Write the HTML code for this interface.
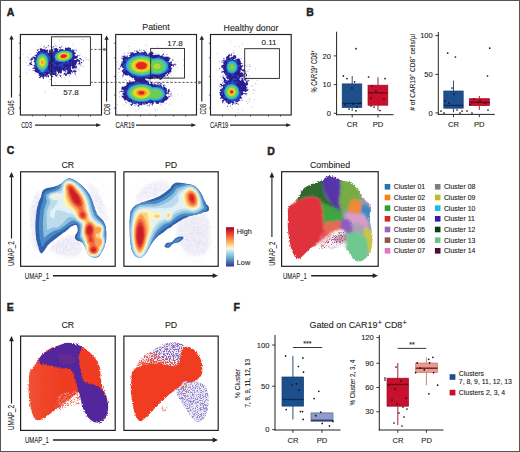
<!DOCTYPE html><html><head><meta charset="utf-8"><style>html,body{margin:0;padding:0;background:#fff;width:520px;height:452px;overflow:hidden}text{stroke:#222;stroke-width:0.1px}</style></head><body><svg width="520" height="452" viewBox="0 0 520 452" style="display:block"><defs><filter id="b06" x="-20%" y="-20%" width="140%" height="140%"><feGaussianBlur stdDeviation="0.6"/></filter><filter id="b04" x="-20%" y="-20%" width="140%" height="140%"><feGaussianBlur stdDeviation="0.4"/></filter><filter id="b10" x="-20%" y="-20%" width="140%" height="140%"><feGaussianBlur stdDeviation="1.0"/></filter><linearGradient id="rdylbu" x1="0" y1="0" x2="0" y2="1"><stop offset="0" stop-color="#a50026"/><stop offset="0.12" stop-color="#d73027"/><stop offset="0.25" stop-color="#f46d43"/><stop offset="0.37" stop-color="#fdae61"/><stop offset="0.47" stop-color="#fee090"/><stop offset="0.55" stop-color="#f4f7f0"/><stop offset="0.65" stop-color="#abd9e9"/><stop offset="0.77" stop-color="#74add1"/><stop offset="0.88" stop-color="#4575b4"/><stop offset="1" stop-color="#313695"/></linearGradient><filter id="spkb" x="-5%" y="-5%" width="110%" height="110%"><feGaussianBlur stdDeviation="1.1" result="bl"/><feTurbulence type="fractalNoise" baseFrequency="0.85" numOctaves="2" seed="4" result="n"/><feDisplacementMap in="bl" in2="n" scale="3.4" xChannelSelector="R" yChannelSelector="G"/></filter><filter id="spk" x="-5%" y="-5%" width="110%" height="110%"><feTurbulence type="fractalNoise" baseFrequency="0.85" numOctaves="2" seed="4" result="n"/><feDisplacementMap in="SourceGraphic" in2="n" scale="3.2" xChannelSelector="R" yChannelSelector="G"/></filter><filter id="spk2" x="-5%" y="-5%" width="110%" height="110%"><feTurbulence type="fractalNoise" baseFrequency="0.7" numOctaves="2" seed="9" result="n"/><feDisplacementMap in="SourceGraphic" in2="n" scale="2.6" xChannelSelector="R" yChannelSelector="G"/></filter><filter id="sp1" x="0" y="0" width="100%" height="100%" color-interpolation-filters="sRGB"><feTurbulence type="fractalNoise" baseFrequency="1.37" numOctaves="1" seed="7" result="n"/><feColorMatrix in="n" type="matrix" values="0 0 0 0 0 0 0 0 0 0 0 0 0 0 0 9 0 0 0 -4.3" result="m"/><feComposite in="SourceGraphic" in2="m" operator="in"/><feGaussianBlur stdDeviation="0.35"/></filter><filter id="sp2" x="0" y="0" width="100%" height="100%" color-interpolation-filters="sRGB"><feTurbulence type="fractalNoise" baseFrequency="1.29" numOctaves="1" seed="21" result="n"/><feColorMatrix in="n" type="matrix" values="0 0 0 0 0 0 0 0 0 0 0 0 0 0 0 10 0 0 0 -5.4" result="m"/><feComposite in="SourceGraphic" in2="m" operator="in"/><feGaussianBlur stdDeviation="0.35"/></filter><filter id="sp3" x="0" y="0" width="100%" height="100%" color-interpolation-filters="sRGB"><feTurbulence type="fractalNoise" baseFrequency="1.41" numOctaves="1" seed="33" result="n"/><feColorMatrix in="n" type="matrix" values="0 0 0 0 0 0 0 0 0 0 0 0 0 0 0 10 0 0 0 -5.9" result="m"/><feComposite in="SourceGraphic" in2="m" operator="in"/><feGaussianBlur stdDeviation="0.35"/></filter><linearGradient id="eRed" x1="0" y1="0" x2="1" y2="0"><stop offset="0" stop-color="#f05a40"/><stop offset="0.25" stop-color="#ef4528"/><stop offset="0.5" stop-color="#ee3b20"/></linearGradient></defs><rect x="0" y="0" width="520" height="452" fill="#fff"/><g style='font-family:"Liberation Sans", sans-serif'><text x="6.8" y="16" font-size="10.5" text-anchor="start" font-weight="bold" fill="#231f20" style="stroke-width:0.45px">A</text><text x="156" y="30" font-size="8.8" text-anchor="middle" font-weight="normal" fill="#231f20" >Patient</text><text x="251" y="30.5" font-size="8.8" text-anchor="middle" font-weight="normal" fill="#231f20" >Healthy donor</text><g fill="#3a2f9a" opacity="0.55"><rect x="82.5" y="39.0" width="0.7" height="0.7"/><rect x="61.4" y="56.9" width="0.7" height="0.7"/><rect x="50.1" y="60.1" width="0.7" height="0.7"/><rect x="29.7" y="59.9" width="0.7" height="0.7"/><rect x="44.8" y="91.9" width="0.7" height="0.7"/><rect x="58.9" y="58.8" width="0.7" height="0.7"/><rect x="52.3" y="56.0" width="0.7" height="0.7"/><rect x="42.3" y="58.5" width="0.7" height="0.7"/><rect x="62.3" y="59.9" width="0.7" height="0.7"/><rect x="68.5" y="60.2" width="0.7" height="0.7"/><rect x="56.3" y="75.9" width="0.7" height="0.7"/><rect x="63.1" y="57.5" width="0.7" height="0.7"/><rect x="53.6" y="66.9" width="0.7" height="0.7"/><rect x="81.2" y="59.6" width="0.7" height="0.7"/><rect x="52.8" y="71.0" width="0.7" height="0.7"/><rect x="44.5" y="59.4" width="0.7" height="0.7"/><rect x="67.5" y="67.2" width="0.7" height="0.7"/><rect x="57.2" y="68.0" width="0.7" height="0.7"/><rect x="43.5" y="47.0" width="0.7" height="0.7"/><rect x="59.6" y="68.3" width="0.7" height="0.7"/><rect x="50.2" y="52.3" width="0.7" height="0.7"/><rect x="56.3" y="61.5" width="0.7" height="0.7"/><rect x="74.3" y="68.7" width="0.7" height="0.7"/><rect x="58.5" y="72.0" width="0.7" height="0.7"/><rect x="53.3" y="53.7" width="0.7" height="0.7"/><rect x="63.6" y="67.2" width="0.7" height="0.7"/><rect x="53.2" y="55.0" width="0.7" height="0.7"/><rect x="59.0" y="39.6" width="0.7" height="0.7"/><rect x="65.0" y="66.4" width="0.7" height="0.7"/><rect x="34.7" y="62.6" width="0.7" height="0.7"/><rect x="43.5" y="68.8" width="0.7" height="0.7"/><rect x="29.6" y="53.8" width="0.7" height="0.7"/><rect x="65.2" y="72.4" width="0.7" height="0.7"/><rect x="27.9" y="57.5" width="0.7" height="0.7"/><rect x="60.3" y="56.5" width="0.7" height="0.7"/><rect x="76.7" y="51.3" width="0.7" height="0.7"/><rect x="60.6" y="52.6" width="0.7" height="0.7"/><rect x="74.3" y="61.8" width="0.7" height="0.7"/><rect x="51.2" y="46.5" width="0.7" height="0.7"/><rect x="77.9" y="68.8" width="0.7" height="0.7"/><rect x="65.8" y="72.2" width="0.7" height="0.7"/><rect x="60.5" y="56.2" width="0.7" height="0.7"/><rect x="45.6" y="54.8" width="0.7" height="0.7"/><rect x="73.8" y="48.9" width="0.7" height="0.7"/><rect x="48.2" y="59.1" width="0.7" height="0.7"/><rect x="58.9" y="67.2" width="0.7" height="0.7"/><rect x="39.8" y="46.4" width="0.7" height="0.7"/><rect x="55.9" y="72.9" width="0.7" height="0.7"/><rect x="65.8" y="63.9" width="0.7" height="0.7"/><rect x="51.9" y="64.6" width="0.7" height="0.7"/><rect x="52.8" y="69.4" width="0.7" height="0.7"/><rect x="45.7" y="63.2" width="0.7" height="0.7"/><rect x="54.6" y="66.9" width="0.7" height="0.7"/><rect x="58.9" y="85.0" width="0.7" height="0.7"/><rect x="75.5" y="75.5" width="0.7" height="0.7"/><rect x="29.5" y="58.9" width="0.7" height="0.7"/><rect x="48.1" y="66.8" width="0.7" height="0.7"/><rect x="26.4" y="72.6" width="0.7" height="0.7"/><rect x="69.9" y="50.3" width="0.7" height="0.7"/><rect x="43.3" y="54.8" width="0.7" height="0.7"/><rect x="56.6" y="67.8" width="0.7" height="0.7"/><rect x="82.6" y="60.2" width="0.7" height="0.7"/><rect x="66.0" y="63.4" width="0.7" height="0.7"/><rect x="78.9" y="68.7" width="0.7" height="0.7"/><rect x="73.8" y="52.3" width="0.7" height="0.7"/><rect x="53.5" y="54.7" width="0.7" height="0.7"/><rect x="75.6" y="67.9" width="0.7" height="0.7"/><rect x="52.0" y="57.9" width="0.7" height="0.7"/><rect x="62.3" y="55.7" width="0.7" height="0.7"/><rect x="43.9" y="66.3" width="0.7" height="0.7"/><rect x="88.0" y="59.8" width="0.7" height="0.7"/><rect x="48.8" y="51.5" width="0.7" height="0.7"/><rect x="38.6" y="66.7" width="0.7" height="0.7"/><rect x="67.1" y="62.1" width="0.7" height="0.7"/><rect x="60.3" y="63.0" width="0.7" height="0.7"/><rect x="57.8" y="48.3" width="0.7" height="0.7"/><rect x="50.0" y="63.0" width="0.7" height="0.7"/><rect x="45.8" y="57.7" width="0.7" height="0.7"/><rect x="45.4" y="59.0" width="0.7" height="0.7"/><rect x="67.1" y="58.3" width="0.7" height="0.7"/><rect x="54.0" y="69.3" width="0.7" height="0.7"/><rect x="64.4" y="77.3" width="0.7" height="0.7"/><rect x="28.8" y="69.7" width="0.7" height="0.7"/><rect x="49.7" y="63.2" width="0.7" height="0.7"/><rect x="66.9" y="71.7" width="0.7" height="0.7"/><rect x="69.5" y="63.4" width="0.7" height="0.7"/><rect x="76.9" y="59.5" width="0.7" height="0.7"/><rect x="54.2" y="69.2" width="0.7" height="0.7"/><rect x="48.8" y="81.4" width="0.7" height="0.7"/><rect x="69.2" y="81.6" width="0.7" height="0.7"/><rect x="55.7" y="58.6" width="0.7" height="0.7"/><rect x="58.2" y="68.6" width="0.7" height="0.7"/><rect x="48.4" y="65.4" width="0.7" height="0.7"/><rect x="55.8" y="76.5" width="0.7" height="0.7"/><rect x="47.4" y="71.4" width="0.7" height="0.7"/><rect x="47.6" y="53.4" width="0.7" height="0.7"/><rect x="46.8" y="51.3" width="0.7" height="0.7"/><rect x="57.9" y="71.3" width="0.7" height="0.7"/><rect x="58.1" y="67.6" width="0.7" height="0.7"/><rect x="77.2" y="64.4" width="0.7" height="0.7"/><rect x="58.5" y="59.5" width="0.7" height="0.7"/><rect x="35.1" y="68.8" width="0.7" height="0.7"/><rect x="33.2" y="67.9" width="0.7" height="0.7"/><rect x="55.8" y="72.1" width="0.7" height="0.7"/><rect x="55.1" y="54.6" width="0.7" height="0.7"/><rect x="60.7" y="57.0" width="0.7" height="0.7"/><rect x="53.6" y="62.4" width="0.7" height="0.7"/><rect x="54.3" y="60.3" width="0.7" height="0.7"/><rect x="45.2" y="60.3" width="0.7" height="0.7"/><rect x="28.2" y="60.6" width="0.7" height="0.7"/><rect x="40.4" y="72.1" width="0.7" height="0.7"/><rect x="72.5" y="44.4" width="0.7" height="0.7"/><rect x="57.9" y="60.9" width="0.7" height="0.7"/><rect x="42.4" y="66.8" width="0.7" height="0.7"/><rect x="50.0" y="46.1" width="0.7" height="0.7"/><rect x="52.5" y="60.7" width="0.7" height="0.7"/><rect x="57.4" y="50.9" width="0.7" height="0.7"/><rect x="64.0" y="68.6" width="0.7" height="0.7"/><rect x="41.1" y="56.1" width="0.7" height="0.7"/><rect x="55.0" y="56.9" width="0.7" height="0.7"/><rect x="78.7" y="63.9" width="0.7" height="0.7"/><rect x="42.9" y="54.9" width="0.7" height="0.7"/><rect x="55.3" y="82.7" width="0.7" height="0.7"/><rect x="53.7" y="63.1" width="0.7" height="0.7"/><rect x="62.7" y="61.6" width="0.7" height="0.7"/><rect x="85.6" y="57.2" width="0.7" height="0.7"/><rect x="65.7" y="63.4" width="0.7" height="0.7"/><rect x="64.1" y="51.4" width="0.7" height="0.7"/><rect x="79.0" y="60.9" width="0.7" height="0.7"/><rect x="56.4" y="53.6" width="0.7" height="0.7"/><rect x="46.5" y="67.1" width="0.7" height="0.7"/><rect x="68.8" y="68.8" width="0.7" height="0.7"/><rect x="71.7" y="68.4" width="0.7" height="0.7"/><rect x="56.4" y="69.5" width="0.7" height="0.7"/><rect x="63.7" y="61.1" width="0.7" height="0.7"/><rect x="65.4" y="73.6" width="0.7" height="0.7"/><rect x="59.0" y="58.8" width="0.7" height="0.7"/><rect x="65.3" y="79.1" width="0.7" height="0.7"/><rect x="53.3" y="61.2" width="0.7" height="0.7"/><rect x="54.2" y="73.0" width="0.7" height="0.7"/><rect x="32.1" y="65.3" width="0.7" height="0.7"/><rect x="71.5" y="54.7" width="0.7" height="0.7"/><rect x="75.4" y="66.8" width="0.7" height="0.7"/><rect x="48.9" y="63.8" width="0.7" height="0.7"/><rect x="36.1" y="56.9" width="0.7" height="0.7"/><rect x="79.7" y="54.0" width="0.7" height="0.7"/><rect x="80.0" y="61.3" width="0.7" height="0.7"/><rect x="68.9" y="62.4" width="0.7" height="0.7"/><rect x="26.9" y="56.8" width="0.7" height="0.7"/><rect x="58.5" y="51.6" width="0.7" height="0.7"/><rect x="38.5" y="65.3" width="0.7" height="0.7"/><rect x="47.6" y="46.7" width="0.7" height="0.7"/><rect x="47.1" y="69.7" width="0.7" height="0.7"/><rect x="49.8" y="70.4" width="0.7" height="0.7"/><rect x="75.9" y="62.3" width="0.7" height="0.7"/><rect x="41.3" y="50.3" width="0.7" height="0.7"/><rect x="55.7" y="69.9" width="0.7" height="0.7"/><rect x="59.5" y="66.9" width="0.7" height="0.7"/><rect x="50.2" y="64.7" width="0.7" height="0.7"/><rect x="49.9" y="59.1" width="0.7" height="0.7"/><rect x="39.2" y="47.9" width="0.7" height="0.7"/><rect x="49.7" y="52.0" width="0.7" height="0.7"/><rect x="43.5" y="68.0" width="0.7" height="0.7"/><rect x="54.6" y="88.2" width="0.7" height="0.7"/><rect x="68.0" y="56.3" width="0.7" height="0.7"/><rect x="66.1" y="65.2" width="0.7" height="0.7"/><rect x="47.1" y="71.9" width="0.7" height="0.7"/><rect x="66.3" y="56.4" width="0.7" height="0.7"/><rect x="75.3" y="56.2" width="0.7" height="0.7"/><rect x="40.6" y="75.9" width="0.7" height="0.7"/><rect x="42.0" y="63.8" width="0.7" height="0.7"/><rect x="74.8" y="63.0" width="0.7" height="0.7"/><rect x="55.0" y="62.9" width="0.7" height="0.7"/><rect x="66.9" y="54.7" width="0.7" height="0.7"/><rect x="63.9" y="67.2" width="0.7" height="0.7"/><rect x="86.3" y="59.0" width="0.7" height="0.7"/><rect x="44.1" y="68.6" width="0.7" height="0.7"/><rect x="50.8" y="64.6" width="0.7" height="0.7"/><rect x="57.7" y="72.5" width="0.7" height="0.7"/><rect x="47.5" y="61.2" width="0.7" height="0.7"/><rect x="22.8" y="54.0" width="0.7" height="0.7"/><rect x="76.0" y="55.9" width="0.7" height="0.7"/><rect x="46.9" y="51.0" width="0.7" height="0.7"/><rect x="63.5" y="63.6" width="0.7" height="0.7"/><rect x="40.6" y="68.0" width="0.7" height="0.7"/><rect x="59.4" y="68.8" width="0.7" height="0.7"/><rect x="47.7" y="77.6" width="0.7" height="0.7"/><rect x="61.3" y="60.9" width="0.7" height="0.7"/><rect x="49.3" y="59.8" width="0.7" height="0.7"/><rect x="67.2" y="59.6" width="0.7" height="0.7"/><rect x="70.0" y="67.2" width="0.7" height="0.7"/><rect x="73.5" y="69.3" width="0.7" height="0.7"/><rect x="55.2" y="44.8" width="0.7" height="0.7"/><rect x="59.9" y="69.1" width="0.7" height="0.7"/><rect x="58.1" y="67.0" width="0.7" height="0.7"/><rect x="49.9" y="58.6" width="0.7" height="0.7"/><rect x="43.7" y="74.3" width="0.7" height="0.7"/><rect x="58.1" y="57.6" width="0.7" height="0.7"/></g><g filter="url(#b04)"><path d="M51.00,79.00 L50.75,78.75 L50.50,79.00 L49.75,79.00 L49.75,79.50 L50.75,79.50ZM61.25,77.50 L61.25,78.00 L62.00,78.25 L62.00,77.75ZM57.75,76.75 L57.75,77.25 L58.25,77.50 L58.50,77.25 L58.25,76.75ZM63.00,75.50 L63.00,75.75 L63.25,75.75ZM69.25,75.00 L69.25,76.00 L69.50,76.25 L70.00,76.25 L70.00,75.75ZM59.25,74.75 L59.25,75.25 L60.00,76.00 L60.00,76.50 L60.25,76.75 L60.75,76.75 L61.50,75.75 L61.25,75.50 L61.25,75.00 L60.50,75.50 L59.75,74.75ZM74.75,73.50 L74.50,74.25 L76.00,74.50 L76.00,73.75 L75.75,73.50ZM35.50,73.25 L35.25,73.50 L35.75,73.75 L35.75,73.25ZM79.25,70.00 L78.75,70.00 L78.75,70.25 L79.00,70.50ZM83.50,66.00 L83.50,66.50 L84.00,66.50 L84.00,66.00ZM81.50,65.75 L81.25,66.25 L81.50,66.50 L82.00,66.50ZM77.75,65.75 L78.25,66.00 L78.25,65.75ZM28.25,65.25 L28.25,65.75 L28.50,66.00 L29.25,66.00 L28.75,65.25ZM81.50,65.00 L81.00,64.50 L80.75,64.75 L79.75,64.75 L79.50,65.25 L79.75,65.50 L80.50,65.50 L80.75,65.00ZM26.00,62.25 L25.75,62.50 L25.75,63.00 L26.25,63.00 L26.25,62.50ZM83.50,60.00 L83.25,60.00 L83.00,60.50 L83.00,61.00 L83.25,61.25 L83.75,60.75ZM79.25,58.00 L79.25,58.75 L79.50,59.00 L80.50,59.25 L81.25,60.25 L81.75,60.25 L81.75,59.50 L81.25,59.00 L81.00,58.25ZM84.00,57.50 L83.75,57.75 L84.25,58.00ZM80.25,55.00 L79.75,55.00 L79.00,55.75 L80.00,55.50ZM31.25,54.75 L31.25,55.00 L31.50,55.00 L31.50,54.75ZM75.75,49.50 L75.25,50.25 L76.00,50.25 L76.75,50.75 L76.50,49.50ZM43.50,47.75 L43.50,48.00 L43.75,48.00 L43.75,47.75ZM73.75,47.25 L73.25,47.50 L73.75,47.50ZM29.25,64.50 L30.00,64.50 L31.00,65.25 L31.75,65.00 L32.25,64.50 L32.25,64.00 L31.75,64.00 L31.25,63.25 L31.75,62.50 L31.75,62.00 L31.50,61.75 L31.50,60.25 L31.75,60.00 L33.00,60.00 L33.00,59.50 L32.50,58.75 L33.00,58.25 L33.50,58.25 L34.50,60.00 L34.25,60.75 L33.75,61.00 L33.50,61.50 L34.50,62.25 L34.25,63.50 L35.00,63.50 L35.50,64.25 L35.25,64.50 L34.50,64.50 L34.00,65.00 L32.75,65.25 L32.50,65.50 L32.50,65.75 L32.75,65.75 L33.00,65.25 L33.50,65.25 L33.75,65.50 L33.75,66.00 L34.50,66.50 L34.50,67.25 L34.00,67.75 L33.25,67.25 L33.25,66.50 L33.25,67.50 L32.50,68.00 L32.50,68.50 L33.25,69.00 L34.00,68.50 L34.75,69.00 L34.75,70.00 L34.25,70.50 L33.50,70.00 L33.00,70.00 L32.50,70.50 L32.75,70.75 L34.00,70.50 L35.50,72.25 L36.00,72.50 L37.00,72.50 L37.75,73.25 L38.25,73.25 L39.00,73.75 L38.50,75.50 L39.25,75.50 L40.00,76.25 L40.00,76.50 L39.00,77.25 L39.00,78.00 L39.25,78.25 L40.25,77.75 L40.75,77.75 L41.00,77.50 L41.00,77.00 L41.50,76.50 L42.50,77.50 L43.00,78.50 L43.50,79.00 L44.00,79.00 L43.75,77.50 L44.25,77.00 L44.50,76.25 L45.00,76.00 L46.00,77.00 L46.00,77.25 L46.75,77.25 L47.00,76.75 L46.75,76.25 L46.75,75.25 L47.00,75.00 L47.50,75.25 L47.50,76.75 L48.25,77.25 L48.75,77.25 L49.00,77.00 L49.00,76.00 L48.25,74.75 L48.25,74.25 L48.75,73.75 L49.25,73.75 L50.00,74.50 L50.25,75.75 L51.25,76.25 L52.25,77.25 L53.25,77.00 L53.25,76.50 L52.50,75.75 L51.50,75.75 L50.75,75.00 L51.25,74.50 L52.00,74.50 L52.75,75.00 L55.00,75.00 L55.25,75.25 L55.25,75.75 L55.00,76.00 L56.25,76.50 L57.75,75.25 L57.75,74.50 L57.25,74.00 L57.00,74.00 L56.50,75.00 L55.75,74.50 L56.50,73.50 L57.00,73.50 L57.00,73.25 L56.00,72.25 L56.00,71.75 L56.25,71.50 L57.75,71.75 L58.00,72.00 L58.00,73.00 L58.50,74.00 L59.00,74.00 L59.00,73.25 L59.50,72.75 L60.00,72.75 L60.75,73.75 L61.25,73.75 L61.50,72.75 L62.00,72.25 L61.75,71.25 L62.75,69.75 L63.25,70.25 L63.25,71.25 L65.00,71.25 L65.50,71.75 L66.00,71.75 L66.25,72.00 L66.25,71.25 L65.50,70.00 L65.75,69.75 L66.25,69.75 L67.25,70.75 L67.50,72.00 L66.25,73.75 L65.75,73.75 L64.75,72.75 L64.25,72.75 L64.00,73.00 L64.00,73.50 L63.50,74.00 L63.50,74.75 L64.75,74.50 L65.25,75.00 L65.00,75.75 L66.25,75.75 L66.50,76.00 L67.00,76.00 L67.00,75.00 L66.75,74.75 L66.75,74.25 L67.00,74.00 L67.50,74.25 L68.50,74.25 L69.25,73.75 L70.25,74.50 L71.25,74.50 L71.25,73.75 L70.75,73.25 L70.75,72.75 L71.50,72.00 L72.25,73.00 L72.75,73.00 L72.75,72.25 L72.50,72.00 L72.50,71.50 L72.75,71.25 L74.25,72.50 L75.50,72.50 L76.75,71.25 L75.50,70.25 L74.50,70.50 L74.00,70.00 L72.50,71.00 L70.75,69.00 L70.75,68.50 L71.00,68.25 L71.00,66.25 L71.25,66.00 L71.75,66.25 L71.75,67.75 L72.25,68.75 L73.00,69.00 L74.00,68.00 L74.25,68.00 L76.25,69.50 L76.50,69.25 L76.50,68.50 L76.25,68.75 L75.75,68.75 L75.25,68.00 L75.75,67.50 L77.00,67.75 L77.25,67.50 L77.25,67.00 L76.75,66.50 L76.75,65.50 L76.50,65.50 L76.00,66.25 L75.50,66.25 L75.25,66.00 L75.25,65.50 L76.25,65.00 L76.25,63.75 L77.00,63.25 L76.75,62.25 L77.50,61.50 L78.50,61.50 L79.25,62.50 L78.00,64.00 L78.25,64.25 L79.50,64.25 L80.75,63.00 L81.75,63.50 L82.25,63.00 L82.25,62.50 L81.50,62.00 L80.50,62.75 L80.00,62.75 L79.75,62.50 L80.00,60.50 L79.50,60.00 L78.75,59.75 L77.75,58.50 L77.25,59.25 L76.50,59.25 L76.00,60.00 L74.25,60.00 L74.00,59.75 L74.50,59.00 L76.25,58.75 L77.25,58.00 L77.75,57.25 L77.75,56.00 L78.50,55.50 L78.50,55.25 L78.25,55.00 L77.75,55.00 L76.25,56.25 L75.75,56.00 L75.75,55.50 L75.00,55.75 L74.75,55.50 L74.50,54.25 L75.00,53.75 L75.50,54.00 L76.00,53.25 L75.00,52.25 L74.00,52.25 L73.75,52.00 L74.25,51.50 L74.50,50.25 L73.75,49.75 L72.25,49.50 L71.75,49.75 L71.25,50.50 L71.00,50.50 L70.75,50.25 L71.00,49.75 L71.00,48.75 L70.50,47.75 L69.25,47.75 L68.50,47.25 L68.00,47.25 L67.25,48.25 L66.75,48.25 L65.75,47.25 L65.50,47.25 L65.50,47.75 L64.75,48.25 L65.00,48.50 L65.00,49.75 L64.75,50.00 L63.75,50.00 L63.25,49.50 L63.25,48.75 L62.25,49.25 L59.25,49.25 L59.25,50.50 L58.75,51.00 L58.25,51.00 L57.75,50.50 L58.50,49.25 L58.25,49.00 L57.50,49.00 L56.75,48.00 L56.25,48.00 L56.00,47.75 L54.75,48.50 L53.75,48.50 L53.50,48.75 L53.50,49.50 L54.75,50.50 L54.50,51.00 L54.00,50.75 L54.00,51.25 L53.75,51.50 L53.25,51.50 L52.75,51.00 L53.50,50.50 L52.25,48.50 L52.00,48.50 L51.75,48.75 L51.75,49.75 L51.50,50.00 L52.25,51.00 L52.00,51.25 L51.00,51.25 L50.50,50.75 L50.75,50.25 L50.75,49.50 L50.50,49.25 L49.75,49.75 L49.00,49.75 L48.75,50.25 L49.00,52.50 L48.75,52.75 L48.25,52.75 L47.75,52.25 L47.75,50.75 L48.00,50.50 L47.75,49.25 L47.00,49.75 L46.00,49.75 L45.75,50.00 L45.25,50.00 L45.00,49.75 L45.25,49.50 L45.25,48.50 L45.75,48.00 L46.75,48.00 L47.00,47.75 L46.75,47.25 L46.25,47.25 L45.75,47.75 L45.00,47.75 L45.00,48.75 L44.25,49.25 L42.75,49.25 L42.50,49.00 L42.00,49.00 L41.25,48.00 L40.75,48.00 L39.75,49.25 L40.25,50.50 L39.75,51.00 L39.25,51.00 L39.00,51.25 L38.25,51.25 L38.00,51.00 L38.00,50.50 L38.75,49.50 L38.75,49.00 L38.25,49.00 L37.50,49.75 L37.00,49.75 L36.75,49.50 L36.50,49.75 L36.50,50.00 L38.00,51.25 L38.00,51.75 L38.25,52.00 L37.75,52.50 L36.25,52.50 L36.00,52.75 L37.00,53.50 L37.00,54.25 L36.75,54.50 L35.75,54.50 L35.25,55.25 L34.50,55.25 L34.25,55.50 L34.25,55.75 L35.25,55.75 L35.75,56.25 L35.75,57.00 L35.50,57.25 L35.00,57.25 L34.25,56.50 L32.25,56.75 L32.75,57.50 L32.50,57.75 L31.50,57.50 L31.00,57.00 L31.00,57.25 L31.50,57.50 L31.50,58.25 L30.50,59.00 L30.25,59.50 L30.50,60.00 L31.00,60.25 L31.00,61.25 L31.25,61.50 L30.50,62.50 L29.50,63.00 L29.25,63.50ZM59.00,47.25 L59.25,47.75 L60.25,48.50 L61.00,48.25 L61.50,47.75 L60.50,47.50 L59.75,46.75 L59.25,46.75ZM54.50,46.75 L54.00,46.75 L53.25,46.00 L52.75,46.00 L53.00,47.00 L52.75,47.25 L52.25,47.25 L52.25,47.75 L52.50,48.00 L53.00,47.75 L53.50,47.00 L54.50,47.00ZM44.00,46.00 L43.75,46.50 L44.00,47.00 L44.50,47.00 L44.75,46.75 L44.50,46.25ZM55.50,46.00 L55.50,46.25 L56.75,46.25 L56.25,45.75 L55.75,45.75ZM62.25,45.25 L62.00,45.25 L62.00,45.75 L61.25,46.25 L61.25,46.75 L61.50,47.00 L62.00,46.50ZM48.00,45.25 L47.75,45.50 L48.00,46.00 L48.50,46.25 L49.50,47.50 L48.75,46.50 L48.75,46.00 L49.00,45.75 L48.75,45.25ZM55.00,43.50 L54.75,43.75 L54.75,44.50 L55.00,44.50Z" fill="#2c1e8c"/><path d="M40.50,77.25 L40.00,77.00 L39.50,77.25 L39.50,77.50 L40.25,77.50ZM52.25,76.50 L52.25,76.75 L52.75,76.75 L52.75,76.50ZM46.00,76.00 L46.00,76.25 L46.25,76.25ZM55.75,75.25 L55.75,75.75 L56.00,75.75ZM42.50,75.25 L42.00,75.75 L42.00,76.25 L42.50,76.75 L43.25,77.00 L43.75,76.50 L42.75,75.50 L42.75,75.25ZM48.00,75.00 L48.00,76.50 L48.50,76.50 L48.50,75.50ZM65.75,74.50 L65.75,75.25 L66.00,75.50 L66.50,75.50 L66.50,75.00ZM40.00,74.50 L39.50,75.25 L40.25,75.75 L40.50,76.25 L41.00,76.25 L40.75,74.75 L40.50,74.50ZM40.75,73.50 L40.50,73.50 L40.50,73.75ZM64.50,73.25 L65.00,74.00 L65.00,73.50ZM69.75,73.00 L69.75,73.50 L70.50,74.00 L70.25,73.00ZM67.75,73.00 L67.50,73.25 L67.75,73.25ZM61.25,71.75 L61.00,72.00 L61.00,73.00ZM52.25,72.25 L52.50,72.75 L53.75,72.50 L54.75,74.00 L54.75,73.50 L54.50,73.25 L54.75,72.75 L55.25,73.50 L55.75,73.50 L56.00,73.25 L55.75,72.50 L55.50,72.50 L54.50,71.50 L53.50,71.50ZM35.25,71.25 L35.25,71.50 L35.50,71.50ZM74.25,71.50 L74.25,71.75 L75.75,71.75 L75.75,71.25 L75.25,71.00 L74.75,71.00ZM69.50,71.00 L69.50,71.50 L70.00,71.75 L70.50,71.50 L70.25,71.00ZM71.50,70.50 L71.25,70.75 L71.25,71.25 L71.75,71.25 L71.75,70.75ZM61.50,70.75 L61.25,70.25 L60.75,70.50 L61.00,70.75ZM55.25,69.75 L55.25,70.00 L56.25,71.00 L57.75,71.00 L57.75,70.25 L57.00,70.75 L56.50,70.00ZM51.00,69.75 L51.75,70.50 L52.25,70.50 L52.50,70.25 L52.50,69.50 L52.25,69.25 L51.75,69.25ZM53.50,68.75 L53.25,69.00 L53.25,69.50 L53.50,69.75 L54.25,69.75 L54.00,69.00ZM68.25,68.50 L68.25,68.75 L67.50,69.25 L67.25,69.75 L68.00,70.50 L68.75,70.50 L69.00,70.25 L68.75,69.75 L69.00,68.75 L68.75,68.50ZM36.00,68.50 L35.50,68.75 L35.50,69.25 L36.00,69.75 L36.00,70.50 L36.25,70.50 L36.50,70.25 L36.50,69.75ZM72.50,68.25 L73.00,68.50 L73.00,68.25ZM50.75,67.25 L50.25,67.25 L50.00,67.75 L50.00,68.25 L50.25,68.50 L50.00,69.50 L50.50,69.50 L50.75,69.25 L50.75,68.75 L51.00,68.50ZM75.50,67.00 L75.00,67.00 L74.75,67.50ZM66.75,67.25 L65.75,67.00 L65.00,67.75 L64.50,67.75 L64.50,68.25 L65.00,69.25 L64.75,69.50 L64.00,69.50 L64.00,70.00 L63.50,70.75 L63.75,71.00 L64.50,70.75 L64.75,69.75 L66.75,68.00ZM76.25,66.50 L76.00,67.00 L76.50,67.25 L76.50,66.75ZM53.25,66.50 L52.75,67.00 L52.75,67.75 L53.50,68.25 L53.75,68.00 L53.75,67.00 L53.50,66.50ZM72.25,66.00 L72.25,67.00 L72.50,67.00 L72.75,66.75 L72.75,66.25ZM69.75,66.00 L69.25,66.50 L69.25,67.00 L70.00,68.00 L70.50,68.00 L70.50,66.00ZM67.50,65.50 L67.25,65.50 L67.25,66.25 L67.50,66.00ZM74.00,64.50 L74.00,64.75 L74.50,65.00 L75.00,65.00 L75.25,64.75ZM50.25,64.50 L50.00,65.00 L50.25,65.25 L50.75,65.25 L51.00,65.00 L51.00,64.50ZM69.50,61.75 L69.50,62.25 L70.50,62.75 L71.25,63.50 L71.25,64.75 L71.50,65.25 L72.00,65.50 L72.25,64.50 L71.50,63.75 L71.50,61.75 L70.50,62.25ZM76.00,61.25 L76.25,61.75 L76.50,61.75 L76.50,61.50ZM77.00,59.75 L77.25,60.25 L77.75,60.25 L77.50,59.75ZM30.75,59.25 L30.75,59.50 L31.25,59.50ZM73.25,58.75 L73.25,59.75 L73.50,59.75 L73.75,59.00ZM74.00,58.25 L75.00,58.25 L76.00,57.75 L75.75,57.50 L74.00,57.50ZM77.25,56.50 L77.00,56.50 L76.75,57.00 L77.25,57.00ZM52.00,55.50 L51.25,56.00 L51.75,56.75 L52.00,56.75ZM73.75,55.00 L73.75,55.25 L74.00,55.25 L74.00,55.00ZM37.25,53.00 L37.25,55.25 L36.50,56.25 L36.75,57.25 L36.00,57.75 L36.75,58.75 L36.75,59.25 L35.50,60.00 L34.75,59.75 L34.75,60.25 L35.00,60.50 L35.00,63.00 L36.00,63.50 L36.75,64.25 L36.75,64.75 L36.25,65.25 L34.75,65.25 L34.50,65.50 L34.50,66.00 L35.00,66.50 L35.00,67.50 L34.50,68.25 L35.00,68.50 L35.50,67.25 L36.50,67.50 L37.25,66.50 L38.50,66.75 L38.75,67.00 L37.50,68.00 L37.00,68.00 L38.00,69.00 L37.75,70.25 L39.00,70.25 L39.25,70.50 L39.25,71.75 L39.00,72.00 L39.00,72.50 L38.50,72.75 L41.00,72.50 L41.50,73.25 L42.50,73.00 L43.75,74.00 L44.25,75.25 L45.25,74.75 L46.00,74.75 L46.25,73.50 L46.75,73.25 L46.25,73.50 L45.25,73.00 L44.50,73.00 L44.00,72.50 L44.25,72.00 L44.75,72.00 L45.50,71.25 L46.00,72.00 L47.75,71.50 L48.25,72.00 L48.75,72.00 L49.25,72.75 L50.50,72.75 L50.75,73.00 L50.25,73.75 L50.50,74.25 L52.50,74.25 L52.75,74.50 L53.25,74.50 L52.50,73.50 L51.75,73.00 L51.75,72.50 L51.00,72.50 L50.50,72.00 L49.75,72.00 L49.25,71.50 L49.00,70.50 L48.50,70.50 L48.25,70.75 L47.75,70.50 L47.75,70.00 L48.25,69.75 L48.25,69.25 L47.25,68.25 L47.25,68.00 L48.00,67.50 L47.50,66.50 L48.00,66.00 L48.75,66.00 L48.75,64.75 L49.00,64.50 L49.00,64.25 L48.25,63.75 L48.25,63.25 L49.50,61.75 L49.50,60.75 L49.25,60.25 L50.00,59.50 L51.25,59.50 L51.50,59.00 L50.00,58.25 L49.50,57.50 L50.50,56.00 L49.50,56.00 L48.00,55.00 L47.75,53.75 L48.25,53.50 L48.25,53.25 L47.25,52.50 L47.25,51.50 L47.00,51.50 L45.50,53.25 L43.50,51.50 L42.50,52.75 L41.75,52.25 L41.75,51.75 L41.50,51.50 L41.25,51.75 L40.75,51.50 L39.50,51.50 L38.75,52.50 L38.75,52.75 L39.50,52.75 L39.75,53.00 L39.75,53.50 L39.50,53.75 L39.00,53.75 L38.25,53.00ZM73.75,50.25 L72.50,50.00 L71.25,51.00 L70.75,51.00 L69.75,51.75 L69.25,51.50 L68.00,51.75 L67.50,51.25 L67.50,50.75 L66.50,51.50 L66.00,50.75 L65.50,50.50 L64.00,50.50 L62.75,49.50 L62.25,49.75 L61.75,49.50 L61.25,49.75 L61.50,50.75 L61.00,51.25 L60.50,51.25 L60.00,50.50 L59.75,50.50 L59.25,51.00 L59.25,51.50 L58.25,52.25 L57.75,52.25 L57.25,51.75 L57.50,51.50 L56.50,51.50 L55.50,52.50 L55.00,52.50 L54.75,52.75 L54.25,52.25 L53.75,52.25 L53.00,51.75 L51.75,52.00 L50.00,51.00 L49.25,51.25 L49.25,53.00 L49.00,53.50 L50.00,53.00 L50.00,52.25 L50.25,52.00 L51.25,52.00 L51.50,51.75 L52.00,52.50 L53.00,53.25 L54.00,53.25 L54.50,52.50 L55.00,53.00 L54.25,54.25 L53.00,54.50 L53.00,55.25 L53.25,55.50 L54.00,55.50 L54.75,54.75 L55.00,55.00 L55.00,55.50 L53.75,56.75 L53.75,58.00 L54.00,58.00 L54.00,57.50 L54.50,57.00 L55.00,57.00 L55.25,57.25 L55.25,58.00 L56.50,57.75 L57.00,58.25 L57.00,59.00 L57.50,59.50 L57.25,60.00 L56.00,59.25 L54.50,59.25 L54.50,60.00 L55.25,60.75 L55.25,61.25 L54.50,62.00 L54.25,62.00 L53.75,61.25 L53.50,61.50 L53.75,61.75 L53.75,62.25 L52.75,63.00 L52.25,63.00 L52.00,62.50 L51.50,62.25 L51.25,62.50 L51.50,63.00 L54.00,64.75 L54.00,65.75 L55.00,66.50 L56.00,65.75 L56.25,65.25 L55.75,64.50 L54.75,64.50 L53.75,63.25 L53.75,62.50 L54.00,62.25 L54.75,62.25 L55.00,62.75 L55.50,62.75 L56.75,61.50 L57.50,61.50 L58.00,62.50 L59.75,62.00 L60.00,62.25 L60.00,62.75 L60.25,62.75 L60.75,62.00 L60.75,61.50 L61.75,60.75 L63.00,62.25 L63.00,63.00 L62.25,63.50 L62.00,63.25 L62.00,62.50 L61.50,62.50 L61.25,62.75 L61.25,63.75 L60.50,64.50 L59.00,64.25 L57.75,65.25 L57.25,65.25 L57.50,65.75 L57.25,66.75 L57.50,66.75 L58.25,65.75 L59.00,65.75 L59.25,66.25 L60.50,66.25 L61.25,65.25 L61.75,65.25 L62.00,65.50 L62.00,66.50 L61.50,66.75 L61.50,67.50 L61.75,67.75 L61.50,68.00 L61.50,69.25 L61.75,69.50 L62.25,69.50 L62.25,68.25 L63.00,67.75 L64.00,67.75 L63.50,67.00 L63.50,66.50 L63.00,65.50 L63.00,64.50 L64.00,63.50 L64.75,63.75 L65.25,64.50 L65.75,64.50 L65.75,64.00 L65.25,63.50 L65.25,62.75 L64.75,62.00 L64.75,61.50 L65.50,61.00 L66.00,61.75 L66.75,61.75 L67.25,62.25 L67.00,62.50 L67.00,63.75 L67.75,63.75 L69.00,64.25 L69.50,63.75 L69.00,63.75 L68.50,63.25 L68.75,61.50 L68.25,61.00 L68.25,60.50 L68.00,60.25 L68.50,59.75 L69.75,59.50 L70.00,59.00 L70.75,59.00 L71.50,59.50 L72.75,58.50 L72.25,57.75 L72.25,57.00 L73.00,56.25 L72.25,55.75 L71.75,55.75 L71.25,54.75 L72.00,54.25 L72.00,53.75 L73.25,52.75 L72.25,52.00 L72.25,51.50 L73.00,51.00 L73.75,51.00ZM42.75,49.50 L42.75,49.75 L43.25,50.00 L43.75,50.75 L44.50,50.25 L44.50,49.75 L43.25,49.75ZM70.75,49.25 L70.25,48.75 L70.00,49.00 L69.25,49.00 L68.25,49.75 L68.75,50.25 L70.00,50.50ZM54.00,49.00 L54.25,49.25 L54.75,49.25 L55.25,50.00 L55.75,49.75 L54.25,48.75ZM56.25,48.50 L56.50,48.75 L56.50,48.50ZM68.25,47.75 L68.25,48.25 L68.75,48.50 L69.00,48.00 L68.75,47.75ZM59.50,47.25 L59.50,47.50 L60.25,48.00 L60.25,47.75Z" fill="#2b48c8"/><path d="M41.25,53.50 L40.00,54.00 L38.25,55.50 L36.75,58.25 L36.75,59.00 L36.25,60.25 L36.25,64.00 L36.50,64.25 L36.50,65.25 L36.75,65.50 L37.00,66.75 L38.00,68.50 L40.00,70.25 L40.75,71.50 L41.50,72.00 L43.25,72.00 L44.25,71.25 L44.75,70.25 L46.75,68.25 L47.75,66.25 L47.75,65.50 L48.25,64.25 L48.25,60.00 L48.00,59.75 L48.00,59.00 L47.00,56.50 L45.25,54.50 L43.25,53.50ZM72.50,54.00 L72.00,53.00 L71.00,52.00 L68.25,50.75 L67.25,50.75 L67.00,50.50 L63.50,50.50 L63.25,50.75 L62.00,50.75 L61.00,51.25 L60.25,51.25 L57.75,52.50 L55.75,54.25 L54.75,56.00 L54.75,58.25 L55.25,59.25 L56.25,60.25 L58.75,61.50 L59.50,61.50 L59.75,61.75 L64.50,61.75 L64.75,61.50 L65.75,61.50 L66.00,61.25 L67.25,61.00 L68.00,60.50 L68.50,60.50 L71.50,58.25 L72.50,56.50 L72.50,55.75 L72.75,55.50Z" fill="#2aa2e0"/><path d="M41.25,54.50 L39.75,55.25 L38.75,56.25 L37.50,58.50 L37.25,60.00 L37.00,60.25 L37.00,64.25 L38.00,67.00 L40.00,69.25 L41.00,69.75 L43.50,69.75 L44.50,69.25 L46.25,67.50 L47.00,66.00 L47.00,65.50 L47.50,64.50 L47.50,60.00 L46.50,57.25 L44.75,55.25 L43.25,54.50ZM71.75,54.25 L70.50,52.50 L69.25,51.75 L68.75,51.75 L67.75,51.25 L66.75,51.25 L66.50,51.00 L63.75,51.00 L63.50,51.25 L62.25,51.25 L62.00,51.50 L60.50,51.75 L57.75,53.25 L56.25,54.75 L55.50,56.25 L55.50,57.75 L56.25,59.25 L58.50,60.75 L60.00,61.00 L60.25,61.25 L64.50,61.25 L64.75,61.00 L65.50,61.00 L65.75,60.75 L67.75,60.25 L69.75,59.00 L71.50,57.00 L71.50,56.50 L71.75,56.25Z" fill="#3cc0b4"/><path d="M41.25,55.50 L40.25,56.00 L38.75,57.50 L37.75,60.00 L37.50,63.00 L37.75,63.25 L37.75,64.50 L38.00,64.75 L38.00,65.25 L39.25,67.50 L40.00,68.25 L41.00,68.75 L42.75,69.00 L44.50,68.25 L46.00,66.50 L46.50,65.50 L46.75,63.75 L47.00,63.50 L47.00,61.00 L46.75,60.75 L46.50,59.00 L45.00,56.50 L44.00,55.75 L43.50,55.75 L43.25,55.50ZM71.00,54.50 L70.50,53.50 L69.75,52.75 L67.50,51.75 L66.50,51.75 L66.25,51.50 L63.50,51.50 L63.25,51.75 L62.25,51.75 L62.00,52.00 L60.50,52.25 L58.00,53.75 L57.00,54.75 L56.50,55.75 L56.25,57.50 L56.75,58.75 L58.75,60.25 L60.25,60.50 L60.50,60.75 L64.50,60.75 L64.75,60.50 L65.50,60.50 L65.75,60.25 L67.00,60.00 L69.50,58.50 L71.00,56.25Z" fill="#6ccc5a"/><path d="M41.25,57.25 L40.00,58.25 L39.25,59.50 L39.00,61.00 L38.75,61.25 L38.75,63.00 L39.00,63.25 L39.00,64.25 L39.75,65.75 L40.75,66.75 L41.75,67.25 L42.75,67.25 L43.00,67.00 L43.50,67.00 L45.25,65.00 L45.25,64.50 L45.75,63.50 L45.75,61.00 L44.75,58.50 L43.75,57.50 L43.25,57.25ZM57.75,56.00 L57.75,57.75 L58.50,58.75 L60.50,59.75 L61.50,59.75 L61.75,60.00 L63.75,60.00 L64.00,59.75 L65.00,59.75 L65.25,59.50 L66.50,59.25 L68.50,58.00 L69.50,56.50 L69.75,55.25 L69.25,54.00 L68.00,53.00 L67.50,53.00 L66.50,52.50 L62.75,52.50 L62.50,52.75 L61.75,52.75 L61.00,53.25 L60.50,53.25 L59.00,54.25 L58.25,55.00Z" fill="#b0d83c"/><path d="M42.25,58.50 L40.75,59.25 L40.00,60.50 L40.00,61.25 L39.75,61.50 L40.00,63.75 L40.50,64.75 L41.75,65.75 L42.75,65.75 L43.25,65.50 L44.25,64.50 L44.50,63.25 L44.75,63.00 L44.75,61.25 L44.00,59.50 L43.50,59.00ZM68.50,54.75 L67.50,53.75 L66.50,53.25 L65.50,53.25 L65.25,53.00 L62.50,53.25 L60.25,54.25 L59.00,55.50 L58.75,56.00 L58.75,57.25 L60.00,58.75 L60.50,58.75 L61.50,59.25 L64.25,59.25 L64.50,59.00 L65.25,59.00 L67.25,58.00 L68.25,57.00 L68.50,56.50Z" fill="#e8e02a"/><path d="M41.75,60.25 L41.00,61.25 L41.00,63.25 L41.50,64.00 L42.50,64.25 L43.25,63.75 L43.75,62.00 L43.50,61.75 L43.50,61.00 L42.75,60.25ZM59.75,55.75 L59.75,57.25 L60.00,57.75 L62.00,58.75 L65.00,58.50 L66.50,57.75 L67.75,56.25 L67.75,55.25 L67.00,54.25 L65.75,53.75 L62.75,53.75 L61.00,54.50Z" fill="#f4a224"/><path d="M66.75,55.50 L65.75,54.50 L63.50,54.25 L63.25,54.50 L62.50,54.50 L61.25,55.25 L60.75,56.00 L60.75,57.00 L62.00,58.00 L64.25,58.00 L66.25,57.00 L66.75,56.00Z" fill="#e6261a"/></g><g fill="#3a2f9a" opacity="0.55"><rect x="128.4" y="64.6" width="0.7" height="0.7"/><rect x="167.2" y="70.2" width="0.7" height="0.7"/><rect x="136.9" y="78.9" width="0.7" height="0.7"/><rect x="167.0" y="74.8" width="0.7" height="0.7"/><rect x="158.0" y="76.4" width="0.7" height="0.7"/><rect x="154.6" y="73.0" width="0.7" height="0.7"/><rect x="136.1" y="79.5" width="0.7" height="0.7"/><rect x="150.2" y="84.2" width="0.7" height="0.7"/><rect x="118.4" y="72.3" width="0.7" height="0.7"/><rect x="160.7" y="62.9" width="0.7" height="0.7"/><rect x="153.3" y="72.7" width="0.7" height="0.7"/><rect x="155.1" y="61.1" width="0.7" height="0.7"/><rect x="145.0" y="75.2" width="0.7" height="0.7"/><rect x="164.9" y="66.9" width="0.7" height="0.7"/><rect x="148.1" y="67.8" width="0.7" height="0.7"/><rect x="161.5" y="56.5" width="0.7" height="0.7"/><rect x="128.4" y="67.1" width="0.7" height="0.7"/><rect x="131.5" y="60.7" width="0.7" height="0.7"/><rect x="148.2" y="70.3" width="0.7" height="0.7"/><rect x="132.0" y="73.2" width="0.7" height="0.7"/><rect x="122.2" y="70.9" width="0.7" height="0.7"/><rect x="124.9" y="54.5" width="0.7" height="0.7"/><rect x="156.0" y="62.3" width="0.7" height="0.7"/><rect x="135.9" y="62.0" width="0.7" height="0.7"/><rect x="153.5" y="65.5" width="0.7" height="0.7"/><rect x="146.6" y="75.5" width="0.7" height="0.7"/><rect x="137.0" y="61.8" width="0.7" height="0.7"/><rect x="139.7" y="76.5" width="0.7" height="0.7"/><rect x="160.9" y="77.6" width="0.7" height="0.7"/><rect x="146.5" y="64.6" width="0.7" height="0.7"/><rect x="158.9" y="62.5" width="0.7" height="0.7"/><rect x="158.6" y="72.5" width="0.7" height="0.7"/><rect x="137.2" y="65.3" width="0.7" height="0.7"/><rect x="145.3" y="81.6" width="0.7" height="0.7"/><rect x="183.2" y="65.1" width="0.7" height="0.7"/><rect x="147.2" y="45.5" width="0.7" height="0.7"/><rect x="150.0" y="65.9" width="0.7" height="0.7"/><rect x="132.0" y="73.1" width="0.7" height="0.7"/><rect x="125.1" y="64.1" width="0.7" height="0.7"/><rect x="148.9" y="54.8" width="0.7" height="0.7"/><rect x="159.0" y="75.5" width="0.7" height="0.7"/><rect x="127.6" y="53.3" width="0.7" height="0.7"/><rect x="155.4" y="65.7" width="0.7" height="0.7"/><rect x="130.0" y="63.3" width="0.7" height="0.7"/><rect x="145.5" y="64.7" width="0.7" height="0.7"/><rect x="158.6" y="69.5" width="0.7" height="0.7"/><rect x="171.8" y="78.4" width="0.7" height="0.7"/><rect x="156.5" y="75.7" width="0.7" height="0.7"/><rect x="165.5" y="72.4" width="0.7" height="0.7"/><rect x="129.8" y="73.7" width="0.7" height="0.7"/><rect x="148.0" y="80.6" width="0.7" height="0.7"/><rect x="148.3" y="70.7" width="0.7" height="0.7"/><rect x="151.6" y="81.1" width="0.7" height="0.7"/><rect x="149.5" y="63.6" width="0.7" height="0.7"/><rect x="151.3" y="62.0" width="0.7" height="0.7"/><rect x="149.3" y="65.9" width="0.7" height="0.7"/><rect x="150.8" y="83.3" width="0.7" height="0.7"/><rect x="141.3" y="66.3" width="0.7" height="0.7"/><rect x="144.2" y="72.1" width="0.7" height="0.7"/><rect x="130.5" y="59.8" width="0.7" height="0.7"/><rect x="146.4" y="70.9" width="0.7" height="0.7"/><rect x="146.4" y="61.5" width="0.7" height="0.7"/><rect x="134.9" y="70.6" width="0.7" height="0.7"/><rect x="167.2" y="68.9" width="0.7" height="0.7"/><rect x="149.6" y="70.0" width="0.7" height="0.7"/><rect x="133.8" y="63.2" width="0.7" height="0.7"/><rect x="143.2" y="68.7" width="0.7" height="0.7"/><rect x="146.6" y="55.1" width="0.7" height="0.7"/><rect x="162.8" y="81.2" width="0.7" height="0.7"/><rect x="143.3" y="69.6" width="0.7" height="0.7"/><rect x="150.7" y="73.1" width="0.7" height="0.7"/><rect x="126.3" y="80.5" width="0.7" height="0.7"/><rect x="140.5" y="77.4" width="0.7" height="0.7"/><rect x="148.1" y="62.5" width="0.7" height="0.7"/><rect x="145.0" y="74.1" width="0.7" height="0.7"/><rect x="134.9" y="62.6" width="0.7" height="0.7"/><rect x="140.2" y="50.6" width="0.7" height="0.7"/><rect x="165.2" y="71.2" width="0.7" height="0.7"/><rect x="146.7" y="76.5" width="0.7" height="0.7"/><rect x="133.6" y="65.3" width="0.7" height="0.7"/><rect x="171.2" y="74.8" width="0.7" height="0.7"/><rect x="132.5" y="75.6" width="0.7" height="0.7"/><rect x="140.4" y="64.0" width="0.7" height="0.7"/><rect x="155.5" y="58.0" width="0.7" height="0.7"/><rect x="150.0" y="73.1" width="0.7" height="0.7"/><rect x="153.5" y="69.6" width="0.7" height="0.7"/><rect x="138.6" y="70.6" width="0.7" height="0.7"/><rect x="141.0" y="77.7" width="0.7" height="0.7"/><rect x="183.0" y="59.3" width="0.7" height="0.7"/><rect x="116.6" y="62.2" width="0.7" height="0.7"/><rect x="152.3" y="75.5" width="0.7" height="0.7"/><rect x="162.1" y="58.9" width="0.7" height="0.7"/><rect x="135.9" y="77.4" width="0.7" height="0.7"/><rect x="131.7" y="75.8" width="0.7" height="0.7"/><rect x="143.8" y="72.9" width="0.7" height="0.7"/><rect x="156.9" y="73.0" width="0.7" height="0.7"/><rect x="158.5" y="57.1" width="0.7" height="0.7"/><rect x="151.2" y="66.1" width="0.7" height="0.7"/><rect x="151.3" y="77.1" width="0.7" height="0.7"/><rect x="143.2" y="59.6" width="0.7" height="0.7"/><rect x="136.8" y="63.2" width="0.7" height="0.7"/><rect x="157.5" y="58.7" width="0.7" height="0.7"/><rect x="163.2" y="68.6" width="0.7" height="0.7"/><rect x="143.8" y="54.0" width="0.7" height="0.7"/><rect x="150.4" y="72.2" width="0.7" height="0.7"/><rect x="122.3" y="76.7" width="0.7" height="0.7"/><rect x="170.1" y="69.0" width="0.7" height="0.7"/><rect x="153.9" y="87.7" width="0.7" height="0.7"/><rect x="164.2" y="57.9" width="0.7" height="0.7"/><rect x="146.8" y="64.6" width="0.7" height="0.7"/><rect x="144.9" y="44.7" width="0.7" height="0.7"/><rect x="157.6" y="60.3" width="0.7" height="0.7"/><rect x="149.3" y="64.8" width="0.7" height="0.7"/><rect x="159.2" y="63.3" width="0.7" height="0.7"/><rect x="135.9" y="70.8" width="0.7" height="0.7"/><rect x="166.7" y="63.1" width="0.7" height="0.7"/><rect x="166.2" y="68.4" width="0.7" height="0.7"/><rect x="139.5" y="79.7" width="0.7" height="0.7"/><rect x="135.5" y="75.1" width="0.7" height="0.7"/><rect x="140.0" y="70.1" width="0.7" height="0.7"/><rect x="129.7" y="58.5" width="0.7" height="0.7"/><rect x="161.9" y="67.7" width="0.7" height="0.7"/><rect x="147.5" y="62.0" width="0.7" height="0.7"/><rect x="153.3" y="53.4" width="0.7" height="0.7"/><rect x="131.3" y="64.6" width="0.7" height="0.7"/><rect x="135.3" y="59.7" width="0.7" height="0.7"/><rect x="146.0" y="64.8" width="0.7" height="0.7"/><rect x="143.9" y="81.0" width="0.7" height="0.7"/><rect x="161.2" y="77.1" width="0.7" height="0.7"/><rect x="146.6" y="61.5" width="0.7" height="0.7"/><rect x="126.6" y="62.9" width="0.7" height="0.7"/><rect x="117.8" y="60.7" width="0.7" height="0.7"/><rect x="157.7" y="80.6" width="0.7" height="0.7"/><rect x="160.5" y="58.2" width="0.7" height="0.7"/><rect x="153.9" y="58.9" width="0.7" height="0.7"/><rect x="158.5" y="65.0" width="0.7" height="0.7"/><rect x="159.0" y="89.2" width="0.7" height="0.7"/><rect x="159.9" y="87.0" width="0.7" height="0.7"/><rect x="149.5" y="63.0" width="0.7" height="0.7"/><rect x="165.7" y="81.5" width="0.7" height="0.7"/><rect x="139.2" y="66.7" width="0.7" height="0.7"/><rect x="126.9" y="64.2" width="0.7" height="0.7"/><rect x="159.4" y="65.2" width="0.7" height="0.7"/><rect x="139.0" y="53.3" width="0.7" height="0.7"/><rect x="152.2" y="73.2" width="0.7" height="0.7"/><rect x="155.4" y="68.3" width="0.7" height="0.7"/><rect x="129.2" y="81.9" width="0.7" height="0.7"/><rect x="146.2" y="64.7" width="0.7" height="0.7"/><rect x="157.3" y="46.5" width="0.7" height="0.7"/><rect x="146.1" y="64.8" width="0.7" height="0.7"/><rect x="152.2" y="78.1" width="0.7" height="0.7"/><rect x="153.6" y="49.5" width="0.7" height="0.7"/><rect x="142.3" y="67.8" width="0.7" height="0.7"/><rect x="149.1" y="54.5" width="0.7" height="0.7"/><rect x="123.7" y="70.9" width="0.7" height="0.7"/><rect x="151.8" y="65.8" width="0.7" height="0.7"/><rect x="122.8" y="82.0" width="0.7" height="0.7"/><rect x="176.3" y="64.6" width="0.7" height="0.7"/><rect x="150.2" y="55.4" width="0.7" height="0.7"/><rect x="166.0" y="54.4" width="0.7" height="0.7"/><rect x="150.6" y="67.2" width="0.7" height="0.7"/><rect x="132.3" y="74.0" width="0.7" height="0.7"/><rect x="127.2" y="59.8" width="0.7" height="0.7"/><rect x="146.6" y="62.3" width="0.7" height="0.7"/><rect x="153.5" y="74.3" width="0.7" height="0.7"/><rect x="142.9" y="61.1" width="0.7" height="0.7"/><rect x="139.8" y="62.7" width="0.7" height="0.7"/><rect x="158.3" y="64.0" width="0.7" height="0.7"/><rect x="152.7" y="65.2" width="0.7" height="0.7"/><rect x="135.2" y="73.8" width="0.7" height="0.7"/><rect x="132.5" y="66.1" width="0.7" height="0.7"/><rect x="167.8" y="56.2" width="0.7" height="0.7"/><rect x="146.2" y="51.7" width="0.7" height="0.7"/><rect x="139.9" y="52.5" width="0.7" height="0.7"/><rect x="141.9" y="61.2" width="0.7" height="0.7"/><rect x="148.8" y="80.3" width="0.7" height="0.7"/><rect x="151.0" y="71.9" width="0.7" height="0.7"/><rect x="146.3" y="63.8" width="0.7" height="0.7"/><rect x="135.3" y="49.8" width="0.7" height="0.7"/><rect x="148.0" y="80.7" width="0.7" height="0.7"/><rect x="153.7" y="61.2" width="0.7" height="0.7"/><rect x="170.1" y="62.1" width="0.7" height="0.7"/><rect x="138.3" y="55.1" width="0.7" height="0.7"/><rect x="133.5" y="63.8" width="0.7" height="0.7"/><rect x="175.0" y="64.1" width="0.7" height="0.7"/><rect x="132.6" y="60.6" width="0.7" height="0.7"/><rect x="143.9" y="50.6" width="0.7" height="0.7"/><rect x="148.8" y="72.3" width="0.7" height="0.7"/><rect x="151.5" y="71.4" width="0.7" height="0.7"/><rect x="128.9" y="50.7" width="0.7" height="0.7"/><rect x="165.0" y="75.8" width="0.7" height="0.7"/><rect x="125.4" y="67.9" width="0.7" height="0.7"/><rect x="147.4" y="70.9" width="0.7" height="0.7"/><rect x="149.9" y="61.5" width="0.7" height="0.7"/><rect x="149.7" y="67.4" width="0.7" height="0.7"/><rect x="146.3" y="49.3" width="0.7" height="0.7"/><rect x="124.1" y="68.3" width="0.7" height="0.7"/><rect x="157.0" y="68.4" width="0.7" height="0.7"/><rect x="141.8" y="66.6" width="0.7" height="0.7"/><rect x="163.3" y="59.4" width="0.7" height="0.7"/><rect x="159.9" y="72.4" width="0.7" height="0.7"/><rect x="150.7" y="79.1" width="0.7" height="0.7"/><rect x="137.0" y="74.5" width="0.7" height="0.7"/><rect x="134.0" y="59.1" width="0.7" height="0.7"/><rect x="132.2" y="70.0" width="0.7" height="0.7"/><rect x="133.8" y="66.5" width="0.7" height="0.7"/><rect x="131.1" y="75.6" width="0.7" height="0.7"/><rect x="172.7" y="68.0" width="0.7" height="0.7"/><rect x="170.0" y="71.0" width="0.7" height="0.7"/><rect x="177.4" y="66.9" width="0.7" height="0.7"/><rect x="125.0" y="79.4" width="0.7" height="0.7"/><rect x="145.2" y="56.7" width="0.7" height="0.7"/><rect x="137.8" y="51.4" width="0.7" height="0.7"/><rect x="144.7" y="56.4" width="0.7" height="0.7"/><rect x="167.8" y="72.0" width="0.7" height="0.7"/><rect x="123.8" y="52.4" width="0.7" height="0.7"/><rect x="139.1" y="48.7" width="0.7" height="0.7"/><rect x="145.5" y="65.6" width="0.7" height="0.7"/><rect x="136.2" y="61.1" width="0.7" height="0.7"/><rect x="154.0" y="78.8" width="0.7" height="0.7"/><rect x="167.9" y="66.3" width="0.7" height="0.7"/><rect x="159.0" y="59.4" width="0.7" height="0.7"/><rect x="152.8" y="57.4" width="0.7" height="0.7"/><rect x="157.2" y="54.9" width="0.7" height="0.7"/><rect x="133.5" y="65.9" width="0.7" height="0.7"/><rect x="154.8" y="53.1" width="0.7" height="0.7"/><rect x="139.5" y="67.2" width="0.7" height="0.7"/><rect x="150.2" y="58.5" width="0.7" height="0.7"/><rect x="148.4" y="63.6" width="0.7" height="0.7"/><rect x="166.7" y="71.0" width="0.7" height="0.7"/><rect x="128.5" y="46.2" width="0.7" height="0.7"/><rect x="148.4" y="76.6" width="0.7" height="0.7"/><rect x="149.4" y="73.9" width="0.7" height="0.7"/><rect x="140.2" y="53.7" width="0.7" height="0.7"/><rect x="157.5" y="66.9" width="0.7" height="0.7"/><rect x="156.6" y="53.6" width="0.7" height="0.7"/><rect x="149.5" y="60.4" width="0.7" height="0.7"/><rect x="158.3" y="60.8" width="0.7" height="0.7"/><rect x="138.5" y="60.7" width="0.7" height="0.7"/><rect x="164.7" y="66.3" width="0.7" height="0.7"/><rect x="136.4" y="56.8" width="0.7" height="0.7"/><rect x="132.4" y="79.2" width="0.7" height="0.7"/><rect x="121.6" y="58.3" width="0.7" height="0.7"/><rect x="155.9" y="76.6" width="0.7" height="0.7"/><rect x="144.9" y="73.1" width="0.7" height="0.7"/><rect x="157.6" y="74.9" width="0.7" height="0.7"/><rect x="147.6" y="80.9" width="0.7" height="0.7"/><rect x="150.0" y="79.9" width="0.7" height="0.7"/><rect x="131.8" y="74.6" width="0.7" height="0.7"/><rect x="129.7" y="52.7" width="0.7" height="0.7"/><rect x="154.4" y="58.8" width="0.7" height="0.7"/><rect x="153.7" y="56.6" width="0.7" height="0.7"/><rect x="170.0" y="66.4" width="0.7" height="0.7"/><rect x="131.7" y="67.9" width="0.7" height="0.7"/><rect x="159.9" y="59.5" width="0.7" height="0.7"/><rect x="154.9" y="84.8" width="0.7" height="0.7"/><rect x="159.8" y="66.4" width="0.7" height="0.7"/></g><g fill="#3a2f9a" opacity="0.55"><rect x="140.2" y="99.0" width="0.7" height="0.7"/><rect x="128.0" y="70.1" width="0.7" height="0.7"/><rect x="139.0" y="85.8" width="0.7" height="0.7"/><rect x="170.4" y="95.6" width="0.7" height="0.7"/><rect x="134.9" y="85.2" width="0.7" height="0.7"/><rect x="154.3" y="87.8" width="0.7" height="0.7"/><rect x="140.2" y="93.8" width="0.7" height="0.7"/><rect x="149.0" y="95.3" width="0.7" height="0.7"/><rect x="149.3" y="104.9" width="0.7" height="0.7"/><rect x="170.0" y="81.3" width="0.7" height="0.7"/><rect x="181.4" y="95.6" width="0.7" height="0.7"/><rect x="164.1" y="88.7" width="0.7" height="0.7"/><rect x="152.2" y="96.3" width="0.7" height="0.7"/><rect x="149.4" y="101.4" width="0.7" height="0.7"/><rect x="156.2" y="86.5" width="0.7" height="0.7"/><rect x="146.4" y="100.4" width="0.7" height="0.7"/><rect x="156.9" y="91.9" width="0.7" height="0.7"/><rect x="144.3" y="93.4" width="0.7" height="0.7"/><rect x="133.6" y="84.3" width="0.7" height="0.7"/><rect x="168.4" y="91.4" width="0.7" height="0.7"/><rect x="149.2" y="88.6" width="0.7" height="0.7"/><rect x="164.8" y="108.6" width="0.7" height="0.7"/><rect x="145.1" y="98.7" width="0.7" height="0.7"/><rect x="138.2" y="108.7" width="0.7" height="0.7"/><rect x="160.0" y="87.9" width="0.7" height="0.7"/><rect x="164.2" y="97.5" width="0.7" height="0.7"/><rect x="153.4" y="97.5" width="0.7" height="0.7"/><rect x="139.3" y="90.3" width="0.7" height="0.7"/><rect x="156.1" y="94.2" width="0.7" height="0.7"/><rect x="135.6" y="110.8" width="0.7" height="0.7"/><rect x="145.2" y="90.1" width="0.7" height="0.7"/><rect x="138.8" y="100.1" width="0.7" height="0.7"/><rect x="160.6" y="96.5" width="0.7" height="0.7"/><rect x="159.2" y="82.6" width="0.7" height="0.7"/><rect x="143.1" y="90.8" width="0.7" height="0.7"/><rect x="147.9" y="98.4" width="0.7" height="0.7"/><rect x="136.6" y="97.3" width="0.7" height="0.7"/><rect x="158.6" y="101.3" width="0.7" height="0.7"/><rect x="150.9" y="71.2" width="0.7" height="0.7"/><rect x="133.6" y="100.5" width="0.7" height="0.7"/><rect x="135.7" y="86.0" width="0.7" height="0.7"/><rect x="117.0" y="104.1" width="0.7" height="0.7"/><rect x="154.2" y="87.2" width="0.7" height="0.7"/><rect x="145.8" y="93.5" width="0.7" height="0.7"/><rect x="133.0" y="92.1" width="0.7" height="0.7"/><rect x="150.7" y="98.7" width="0.7" height="0.7"/><rect x="163.8" y="94.5" width="0.7" height="0.7"/><rect x="141.3" y="97.4" width="0.7" height="0.7"/><rect x="139.1" y="84.2" width="0.7" height="0.7"/><rect x="162.2" y="91.1" width="0.7" height="0.7"/><rect x="148.8" y="99.4" width="0.7" height="0.7"/><rect x="132.9" y="99.3" width="0.7" height="0.7"/><rect x="153.1" y="93.4" width="0.7" height="0.7"/><rect x="152.4" y="88.1" width="0.7" height="0.7"/><rect x="118.6" y="91.9" width="0.7" height="0.7"/><rect x="135.4" y="101.1" width="0.7" height="0.7"/><rect x="150.7" y="89.9" width="0.7" height="0.7"/><rect x="147.9" y="105.0" width="0.7" height="0.7"/><rect x="162.0" y="97.1" width="0.7" height="0.7"/><rect x="152.8" y="91.9" width="0.7" height="0.7"/><rect x="145.5" y="98.9" width="0.7" height="0.7"/><rect x="145.7" y="96.5" width="0.7" height="0.7"/><rect x="132.7" y="80.8" width="0.7" height="0.7"/><rect x="125.1" y="90.6" width="0.7" height="0.7"/><rect x="164.5" y="103.6" width="0.7" height="0.7"/><rect x="134.2" y="81.7" width="0.7" height="0.7"/><rect x="157.5" y="97.8" width="0.7" height="0.7"/><rect x="129.4" y="102.6" width="0.7" height="0.7"/><rect x="149.5" y="104.7" width="0.7" height="0.7"/><rect x="151.7" y="101.2" width="0.7" height="0.7"/><rect x="151.4" y="86.5" width="0.7" height="0.7"/><rect x="144.2" y="88.7" width="0.7" height="0.7"/><rect x="158.0" y="86.1" width="0.7" height="0.7"/><rect x="127.2" y="99.6" width="0.7" height="0.7"/><rect x="162.1" y="105.7" width="0.7" height="0.7"/><rect x="161.4" y="82.0" width="0.7" height="0.7"/><rect x="138.1" y="89.7" width="0.7" height="0.7"/><rect x="146.9" y="76.9" width="0.7" height="0.7"/><rect x="147.0" y="96.3" width="0.7" height="0.7"/><rect x="134.8" y="95.0" width="0.7" height="0.7"/><rect x="162.6" y="94.5" width="0.7" height="0.7"/><rect x="160.9" y="102.2" width="0.7" height="0.7"/><rect x="152.5" y="97.2" width="0.7" height="0.7"/><rect x="142.3" y="104.0" width="0.7" height="0.7"/><rect x="141.0" y="88.5" width="0.7" height="0.7"/><rect x="156.3" y="88.3" width="0.7" height="0.7"/><rect x="152.7" y="102.5" width="0.7" height="0.7"/><rect x="148.2" y="94.9" width="0.7" height="0.7"/><rect x="159.1" y="100.1" width="0.7" height="0.7"/><rect x="127.1" y="83.6" width="0.7" height="0.7"/><rect x="164.5" y="97.2" width="0.7" height="0.7"/><rect x="120.1" y="83.3" width="0.7" height="0.7"/><rect x="147.5" y="86.3" width="0.7" height="0.7"/><rect x="153.3" y="94.8" width="0.7" height="0.7"/><rect x="153.6" y="84.8" width="0.7" height="0.7"/><rect x="155.3" y="109.8" width="0.7" height="0.7"/><rect x="136.9" y="104.7" width="0.7" height="0.7"/><rect x="160.0" y="99.3" width="0.7" height="0.7"/><rect x="146.4" y="84.9" width="0.7" height="0.7"/><rect x="135.9" y="100.3" width="0.7" height="0.7"/><rect x="160.0" y="104.0" width="0.7" height="0.7"/><rect x="159.8" y="101.4" width="0.7" height="0.7"/><rect x="141.7" y="84.5" width="0.7" height="0.7"/><rect x="150.0" y="98.2" width="0.7" height="0.7"/><rect x="148.4" y="82.0" width="0.7" height="0.7"/><rect x="140.5" y="82.4" width="0.7" height="0.7"/><rect x="149.2" y="85.8" width="0.7" height="0.7"/><rect x="145.1" y="96.8" width="0.7" height="0.7"/><rect x="149.1" y="105.1" width="0.7" height="0.7"/><rect x="133.0" y="76.7" width="0.7" height="0.7"/><rect x="159.6" y="105.4" width="0.7" height="0.7"/><rect x="166.0" y="96.5" width="0.7" height="0.7"/><rect x="154.4" y="95.2" width="0.7" height="0.7"/><rect x="130.5" y="89.7" width="0.7" height="0.7"/><rect x="153.8" y="89.6" width="0.7" height="0.7"/><rect x="172.2" y="81.9" width="0.7" height="0.7"/><rect x="141.8" y="103.1" width="0.7" height="0.7"/><rect x="139.5" y="85.2" width="0.7" height="0.7"/><rect x="129.7" y="88.4" width="0.7" height="0.7"/><rect x="167.0" y="97.5" width="0.7" height="0.7"/><rect x="154.1" y="90.1" width="0.7" height="0.7"/><rect x="158.4" y="95.1" width="0.7" height="0.7"/><rect x="135.4" y="90.6" width="0.7" height="0.7"/><rect x="150.1" y="103.6" width="0.7" height="0.7"/><rect x="146.7" y="98.3" width="0.7" height="0.7"/><rect x="173.7" y="87.9" width="0.7" height="0.7"/><rect x="131.3" y="102.1" width="0.7" height="0.7"/><rect x="153.1" y="93.5" width="0.7" height="0.7"/><rect x="150.9" y="91.6" width="0.7" height="0.7"/><rect x="154.2" y="91.6" width="0.7" height="0.7"/><rect x="157.9" y="84.9" width="0.7" height="0.7"/><rect x="136.8" y="95.2" width="0.7" height="0.7"/><rect x="141.4" y="99.8" width="0.7" height="0.7"/><rect x="146.9" y="89.9" width="0.7" height="0.7"/><rect x="150.2" y="90.1" width="0.7" height="0.7"/><rect x="127.2" y="85.2" width="0.7" height="0.7"/><rect x="137.1" y="90.5" width="0.7" height="0.7"/><rect x="148.8" y="101.6" width="0.7" height="0.7"/><rect x="154.7" y="108.6" width="0.7" height="0.7"/><rect x="164.1" y="92.8" width="0.7" height="0.7"/><rect x="169.0" y="103.8" width="0.7" height="0.7"/><rect x="141.7" y="96.8" width="0.7" height="0.7"/><rect x="161.8" y="96.3" width="0.7" height="0.7"/><rect x="160.8" y="97.5" width="0.7" height="0.7"/><rect x="156.7" y="91.8" width="0.7" height="0.7"/><rect x="152.5" y="91.5" width="0.7" height="0.7"/><rect x="156.4" y="80.9" width="0.7" height="0.7"/><rect x="152.0" y="104.4" width="0.7" height="0.7"/><rect x="155.2" y="94.2" width="0.7" height="0.7"/><rect x="154.6" y="87.6" width="0.7" height="0.7"/><rect x="136.8" y="91.5" width="0.7" height="0.7"/><rect x="145.7" y="102.1" width="0.7" height="0.7"/><rect x="136.0" y="102.4" width="0.7" height="0.7"/><rect x="127.2" y="88.1" width="0.7" height="0.7"/><rect x="147.1" y="103.6" width="0.7" height="0.7"/><rect x="139.6" y="77.2" width="0.7" height="0.7"/><rect x="153.1" y="94.1" width="0.7" height="0.7"/><rect x="133.5" y="86.0" width="0.7" height="0.7"/><rect x="138.6" y="95.2" width="0.7" height="0.7"/><rect x="156.2" y="82.5" width="0.7" height="0.7"/><rect x="177.4" y="94.1" width="0.7" height="0.7"/><rect x="142.7" y="99.7" width="0.7" height="0.7"/><rect x="149.0" y="113.1" width="0.7" height="0.7"/><rect x="161.8" y="91.4" width="0.7" height="0.7"/><rect x="142.5" y="90.4" width="0.7" height="0.7"/><rect x="143.1" y="99.7" width="0.7" height="0.7"/><rect x="139.2" y="107.3" width="0.7" height="0.7"/><rect x="146.5" y="93.2" width="0.7" height="0.7"/><rect x="159.9" y="78.5" width="0.7" height="0.7"/><rect x="135.4" y="99.1" width="0.7" height="0.7"/><rect x="147.7" y="94.2" width="0.7" height="0.7"/><rect x="152.7" y="89.5" width="0.7" height="0.7"/><rect x="145.3" y="83.5" width="0.7" height="0.7"/><rect x="123.2" y="104.5" width="0.7" height="0.7"/><rect x="135.4" y="88.6" width="0.7" height="0.7"/><rect x="165.7" y="102.8" width="0.7" height="0.7"/><rect x="140.7" y="90.1" width="0.7" height="0.7"/><rect x="146.5" y="86.7" width="0.7" height="0.7"/><rect x="154.6" y="95.5" width="0.7" height="0.7"/><rect x="149.2" y="100.3" width="0.7" height="0.7"/><rect x="156.9" y="109.0" width="0.7" height="0.7"/><rect x="167.2" y="80.6" width="0.7" height="0.7"/><rect x="159.2" y="85.4" width="0.7" height="0.7"/><rect x="128.9" y="100.0" width="0.7" height="0.7"/><rect x="138.4" y="91.8" width="0.7" height="0.7"/><rect x="161.4" y="89.0" width="0.7" height="0.7"/><rect x="135.9" y="96.9" width="0.7" height="0.7"/><rect x="163.4" y="98.5" width="0.7" height="0.7"/><rect x="127.3" y="89.1" width="0.7" height="0.7"/><rect x="145.5" y="109.7" width="0.7" height="0.7"/><rect x="159.1" y="101.1" width="0.7" height="0.7"/><rect x="163.1" y="91.8" width="0.7" height="0.7"/><rect x="153.7" y="98.2" width="0.7" height="0.7"/><rect x="134.8" y="94.2" width="0.7" height="0.7"/><rect x="154.8" y="85.7" width="0.7" height="0.7"/><rect x="158.0" y="100.4" width="0.7" height="0.7"/><rect x="160.9" y="88.1" width="0.7" height="0.7"/><rect x="148.9" y="105.9" width="0.7" height="0.7"/><rect x="157.8" y="88.0" width="0.7" height="0.7"/></g><g filter="url(#b04)"><path d="M146.75,106.00 L147.00,106.25 L148.00,105.75 L147.75,105.50 L147.00,105.50ZM134.75,105.00 L134.25,105.75 L135.25,106.25 L135.50,105.75ZM149.00,104.50 L148.75,105.00 L149.00,105.25 L149.50,105.25 L149.75,104.75ZM160.00,103.75 L160.50,103.75 L160.75,103.50 L160.00,103.50ZM125.00,102.00 L125.00,102.50 L126.25,102.25 L126.75,102.75 L126.50,103.00 L126.50,103.50 L127.00,103.50 L127.00,103.00 L126.50,102.50 L126.75,102.00ZM119.75,96.75 L119.50,96.50 L119.00,96.75 L119.00,97.25ZM171.75,95.25 L171.50,95.50 L171.50,96.25 L171.75,96.50 L172.25,96.25 L172.25,95.75ZM119.25,93.00 L119.25,93.50 L119.75,93.50 L119.75,93.25ZM165.50,85.50 L165.50,86.00 L166.00,86.00 L166.00,85.75ZM152.75,81.75 L152.75,82.25 L153.25,82.50 L153.25,81.75ZM132.50,80.50 L132.75,80.75 L132.75,80.50ZM130.00,77.25 L129.50,77.25 L129.50,77.75 L129.75,78.00 L130.00,77.75ZM167.50,77.25 L167.75,77.50 L168.75,77.50 L169.00,77.25 L168.50,76.75 L168.00,76.75ZM169.50,74.50 L169.25,74.75 L169.50,75.00ZM170.50,73.25 L170.50,73.75 L171.00,73.75 L171.00,73.25ZM119.75,71.50 L120.00,72.00 L120.75,72.00ZM118.75,68.00 L118.50,68.25 L118.50,69.25 L118.75,69.50 L119.50,69.50 L120.00,68.75ZM117.50,67.00 L117.50,67.50 L117.75,67.50 L117.75,67.00ZM116.00,64.50 L116.00,64.75 L116.25,64.75 L116.25,64.50ZM119.75,63.75 L119.50,63.75 L119.25,64.25 L119.75,64.25ZM172.00,59.50 L172.00,60.00 L172.50,60.50 L173.50,60.75 L173.50,60.25 L172.50,59.50ZM165.00,55.50 L164.00,55.75 L164.75,55.75ZM168.00,54.25 L167.50,54.25 L167.25,54.75 L167.75,54.75ZM124.25,53.50 L124.00,53.50 L123.75,54.00 L124.25,54.00ZM128.00,52.50 L127.75,53.00 L128.00,53.50 L128.50,53.50 L128.50,53.00 L128.25,52.50ZM147.75,51.25 L147.50,51.25 L147.50,51.75ZM134.25,50.50 L134.00,50.75 L134.00,51.25 L134.25,51.50 L134.75,51.50 L134.75,51.00ZM170.50,57.75 L169.00,57.50 L168.50,57.25 L168.00,56.50 L167.75,56.75 L166.50,56.75 L166.25,56.50 L166.00,56.75 L164.50,56.75 L164.00,56.25 L163.25,56.75 L162.50,56.00 L162.50,55.50 L163.00,55.00 L163.50,55.25 L163.50,54.75 L164.00,54.25 L164.00,54.00 L163.25,53.50 L162.75,53.75 L162.75,54.50 L162.00,55.00 L161.50,55.75 L160.00,55.75 L159.50,54.75 L159.00,54.75 L158.50,54.25 L158.50,53.50 L158.00,53.75 L158.00,54.25 L158.50,54.75 L158.00,55.25 L157.50,54.75 L155.00,54.75 L154.75,55.00 L153.75,55.00 L153.25,55.25 L152.75,54.75 L152.75,54.25 L153.50,53.50 L153.50,53.00 L152.75,52.00 L152.25,52.25 L151.75,51.75 L152.00,51.50 L152.75,51.50 L152.25,51.00 L152.00,51.50 L151.25,51.50 L151.00,51.75 L151.00,52.50 L150.75,52.75 L149.50,52.50 L148.75,53.25 L148.25,54.25 L148.25,54.75 L147.75,55.00 L147.50,54.75 L147.50,53.50 L147.75,53.00 L147.25,53.50 L145.75,52.00 L145.75,51.25 L145.00,51.25 L143.75,49.75 L143.25,50.25 L143.25,50.75 L143.75,50.75 L144.50,51.25 L144.25,52.00 L144.00,52.25 L142.75,52.50 L142.25,51.75 L141.75,51.75 L140.25,53.25 L139.50,52.75 L139.00,51.75 L137.75,52.00 L137.50,51.75 L137.75,50.50 L137.25,50.25 L136.25,51.00 L136.25,51.75 L136.75,52.50 L136.50,53.00 L135.25,52.75 L134.75,53.25 L134.00,53.25 L133.25,52.50 L132.25,52.00 L131.25,52.75 L131.00,52.75 L130.75,52.50 L130.75,52.00 L130.50,52.00 L130.25,52.25 L130.25,52.75 L130.50,53.00 L130.25,53.50 L130.50,53.75 L130.50,54.50 L130.00,55.00 L129.25,55.00 L129.00,55.25 L129.75,56.25 L129.75,56.75 L129.00,57.25 L128.25,57.00 L127.50,56.25 L128.00,55.25 L127.25,55.25 L127.25,56.25 L127.00,56.50 L126.00,56.50 L125.75,56.75 L125.25,56.50 L125.25,55.50 L125.00,55.25 L124.25,55.75 L124.25,56.25 L124.00,56.50 L123.00,55.25 L122.25,56.25 L122.25,56.75 L123.00,57.00 L123.50,57.75 L123.25,58.00 L122.75,58.00 L122.50,57.75 L121.00,57.50 L121.00,58.00 L123.00,59.00 L122.50,59.75 L123.00,61.25 L122.75,61.50 L122.00,61.00 L121.50,61.00 L121.25,61.25 L122.00,61.75 L122.25,61.50 L122.75,62.00 L122.25,62.50 L121.25,62.50 L121.50,63.75 L120.75,64.50 L120.75,65.75 L120.00,66.50 L120.00,67.00 L120.50,67.75 L120.75,67.75 L120.75,66.75 L121.50,66.25 L122.00,66.75 L122.00,67.25 L122.25,67.50 L122.00,67.75 L122.00,68.25 L122.25,68.25 L122.50,67.75 L123.25,67.75 L123.75,68.25 L123.75,68.50 L122.75,69.50 L122.75,70.00 L121.75,70.75 L121.75,71.25 L122.50,72.00 L122.50,72.50 L123.00,72.75 L123.50,73.50 L123.00,74.00 L123.00,74.50 L122.25,75.25 L122.75,76.00 L122.75,76.50 L122.50,76.75 L122.75,77.00 L123.25,76.75 L123.25,76.25 L123.50,76.00 L123.25,74.75 L123.50,74.50 L124.75,74.50 L125.75,75.50 L125.75,75.75 L126.25,76.00 L126.25,75.50 L126.75,75.00 L127.75,75.75 L128.75,75.00 L130.25,76.75 L131.00,76.75 L131.50,77.50 L132.50,78.25 L133.00,78.25 L133.50,77.75 L134.00,77.75 L134.25,78.00 L134.00,79.25 L134.50,80.00 L135.25,80.50 L135.25,80.75 L134.25,81.50 L131.50,81.75 L131.25,81.50 L130.00,81.50 L129.75,81.25 L130.25,80.50 L130.00,80.25 L129.75,80.50 L129.00,80.50 L128.75,81.00 L129.50,81.50 L129.50,82.00 L128.25,83.00 L127.50,82.75 L126.50,83.25 L126.75,84.50 L125.75,86.00 L124.50,85.75 L124.50,86.50 L124.00,87.00 L122.75,86.25 L121.50,87.50 L121.25,89.50 L121.50,89.75 L122.00,89.50 L123.50,90.25 L123.75,90.75 L123.50,91.00 L123.00,91.00 L122.75,90.75 L121.00,90.75 L120.75,91.00 L119.75,91.00 L119.50,91.50 L119.75,91.75 L120.75,91.50 L121.50,92.00 L122.00,91.75 L122.50,92.00 L123.25,91.50 L123.75,92.00 L123.75,92.50 L122.50,93.00 L122.50,94.75 L123.25,94.75 L123.75,95.25 L122.75,96.00 L122.00,95.25 L121.50,95.75 L121.75,96.00 L121.75,97.25 L121.00,98.00 L121.25,98.00 L121.50,97.50 L122.50,97.25 L123.25,98.25 L124.25,99.00 L124.25,99.50 L124.00,99.75 L124.00,100.25 L124.25,100.50 L125.50,100.50 L126.50,99.75 L127.50,101.00 L127.50,101.50 L128.00,101.50 L129.00,102.00 L130.00,102.00 L131.50,102.75 L132.00,103.50 L131.50,104.25 L129.75,103.75 L129.75,104.00 L130.75,104.75 L131.00,105.50 L131.50,106.00 L132.00,106.00 L132.00,105.00 L133.25,104.25 L133.25,103.75 L133.75,103.25 L135.00,104.25 L135.75,104.25 L136.25,104.75 L136.25,105.25 L136.50,104.75 L136.50,103.50 L137.00,102.75 L138.00,104.00 L138.00,104.50 L138.25,104.50 L138.50,104.00 L139.00,104.50 L138.25,105.25 L137.75,105.00 L137.25,105.25 L138.00,105.75 L137.75,107.00 L138.25,107.00 L138.25,106.75 L139.00,106.25 L139.00,105.75 L139.50,105.25 L140.25,105.25 L140.75,104.75 L141.50,105.25 L141.50,105.75 L142.00,105.75 L142.25,103.75 L142.75,103.25 L143.25,103.50 L143.25,104.25 L144.25,105.25 L144.50,105.25 L144.75,104.75 L144.25,104.00 L144.75,103.50 L145.25,103.50 L145.50,103.75 L145.25,104.50 L146.00,104.50 L146.50,104.00 L147.50,104.00 L147.50,103.75 L148.50,103.00 L149.75,103.00 L150.25,103.75 L151.50,103.00 L152.00,103.75 L151.50,105.00 L151.75,105.25 L153.00,105.50 L152.75,105.00 L152.75,103.75 L153.00,103.50 L154.00,103.75 L154.00,103.25 L153.50,102.50 L154.25,101.75 L155.00,102.00 L155.50,102.50 L155.50,103.25 L156.50,103.75 L159.00,104.00 L158.75,103.00 L159.50,102.25 L159.75,102.50 L161.25,102.50 L161.50,102.75 L162.25,102.75 L162.50,102.50 L163.00,103.00 L162.50,103.50 L162.50,103.75 L162.75,103.75 L163.00,103.50 L162.75,103.25 L163.25,102.75 L164.00,102.50 L164.00,101.75 L165.75,100.25 L167.00,100.50 L167.00,100.00 L168.25,98.50 L168.50,97.75 L169.25,97.00 L169.75,97.00 L170.00,96.50 L169.50,95.75 L168.50,95.75 L168.50,96.25 L168.75,96.50 L168.25,97.25 L167.50,97.25 L167.25,97.00 L167.25,96.00 L167.50,95.50 L167.25,96.00 L166.25,96.00 L166.00,95.75 L166.00,95.25 L166.50,94.25 L167.00,93.75 L168.25,93.75 L168.75,94.50 L169.25,94.25 L169.75,94.25 L170.00,94.50 L171.25,94.50 L171.25,93.75 L171.50,93.50 L171.50,92.75 L171.25,92.75 L170.75,93.75 L169.25,94.25 L169.00,94.00 L169.25,93.25 L168.75,93.25 L168.50,93.00 L168.50,92.50 L169.25,92.00 L169.75,91.25 L170.75,91.50 L170.25,90.75 L169.75,90.75 L169.25,90.25 L169.50,88.75 L169.00,88.75 L168.00,89.75 L167.75,90.25 L167.75,91.50 L167.25,92.00 L167.50,92.25 L167.50,92.75 L167.25,93.00 L166.75,92.50 L166.75,92.00 L166.50,91.75 L167.00,91.00 L166.75,88.50 L165.75,87.50 L165.25,87.50 L164.50,87.00 L164.25,84.25 L164.00,84.25 L163.00,85.50 L163.00,86.00 L163.50,86.50 L163.25,86.75 L163.25,87.25 L162.75,87.50 L162.25,87.00 L161.25,85.00 L160.75,85.00 L160.25,84.50 L160.50,84.25 L161.50,84.25 L161.75,84.50 L162.25,84.25 L162.25,84.00 L161.00,83.00 L160.50,83.00 L160.50,83.50 L159.25,84.75 L159.25,85.75 L159.00,86.00 L158.50,85.50 L158.50,85.00 L158.25,84.75 L158.75,84.00 L158.75,82.50 L158.00,82.25 L157.25,82.75 L157.25,83.25 L158.00,84.00 L157.50,84.75 L157.00,84.50 L155.75,84.75 L155.00,83.75 L154.50,83.75 L153.25,83.25 L153.25,83.50 L153.75,83.75 L153.75,84.50 L153.25,84.75 L152.75,84.25 L152.75,83.75 L152.25,83.50 L152.25,83.00 L151.25,81.75 L150.50,81.75 L150.00,81.25 L150.00,80.75 L149.75,80.75 L149.75,81.50 L149.50,81.75 L150.50,82.25 L150.50,83.00 L151.00,83.50 L150.50,84.00 L149.75,84.00 L148.75,83.00 L149.00,82.00 L148.50,81.75 L147.50,80.50 L146.50,80.50 L145.75,80.00 L145.25,79.25 L146.00,77.75 L146.75,79.00 L148.00,78.75 L149.00,79.50 L149.50,79.25 L151.00,79.25 L151.75,78.50 L152.25,78.50 L152.75,79.00 L153.25,79.00 L153.50,79.25 L153.50,78.75 L153.00,78.00 L153.50,77.50 L154.00,77.50 L154.50,78.00 L154.75,77.75 L155.25,77.75 L155.75,78.25 L157.00,78.00 L157.50,78.50 L158.25,78.50 L159.25,77.75 L159.50,78.00 L159.25,79.25 L159.75,79.75 L161.25,79.75 L161.75,79.25 L161.50,79.00 L162.75,77.75 L163.50,77.50 L164.25,76.75 L165.00,76.75 L166.00,78.00 L165.75,78.25 L166.00,78.75 L166.50,78.50 L166.50,78.00 L166.00,78.00 L165.75,77.75 L166.25,77.25 L165.75,76.75 L165.25,76.75 L165.00,76.50 L165.50,75.50 L165.25,74.75 L165.50,74.50 L166.00,74.50 L167.00,73.75 L167.50,73.00 L167.75,73.00 L168.00,73.25 L168.00,73.75 L167.00,74.75 L166.75,74.75 L166.75,75.25 L166.50,75.50 L166.75,76.00 L167.25,76.00 L168.00,75.25 L168.50,74.00 L169.50,73.50 L169.50,73.00 L169.25,72.75 L169.75,72.25 L170.00,72.50 L170.75,72.50 L171.50,71.75 L171.50,70.75 L171.25,70.75 L171.00,70.25 L171.75,69.25 L171.75,68.50 L171.50,68.25 L171.50,67.50 L170.75,66.50 L171.25,66.00 L172.25,66.00 L173.00,65.25 L173.50,65.50 L173.00,66.50 L173.25,66.75 L174.25,66.50 L174.00,65.00 L174.50,64.50 L175.25,65.00 L175.00,66.00 L175.25,66.00 L175.50,65.50 L175.50,63.75 L175.25,63.50 L175.00,63.75 L174.00,63.75 L173.50,64.50 L172.00,64.25 L171.75,64.00 L171.50,62.75 L172.25,61.75 L171.25,61.25 L169.25,62.50 L168.50,62.00 L168.50,61.25 L169.50,60.50 L169.75,58.75 L170.00,58.50 L170.75,58.50 L170.75,58.00ZM139.00,49.75 L139.00,50.25 L139.25,50.50 L140.50,50.75 L140.50,50.50 L140.00,50.50 L139.50,49.75ZM141.50,49.50 L141.00,49.50 L141.00,50.00 L141.25,50.25 L141.50,50.00Z" fill="#2c1e8c"/><path d="M146.50,103.25 L146.50,103.50 L146.75,103.50 L146.75,103.25ZM156.00,103.00 L156.00,103.25 L156.50,103.25 L156.75,103.50 L157.75,103.25 L157.25,102.50 L156.50,102.50ZM125.00,100.00 L124.75,99.75 L124.50,100.00ZM169.25,96.25 L169.25,96.75 L169.50,96.75ZM123.50,96.00 L123.50,96.25 L123.75,96.25 L123.75,96.00ZM124.75,94.50 L124.75,95.50 L125.00,95.75 L125.75,95.75 L125.50,94.50ZM123.00,94.00 L123.00,94.25 L123.75,94.25 L123.75,94.00 L123.25,93.75ZM169.00,89.25 L168.50,90.00 L168.50,91.00 L168.75,91.00ZM163.50,85.50 L163.50,86.00 L164.00,86.25 L164.00,85.50ZM151.75,84.00 L152.00,84.25 L152.00,84.00ZM127.00,83.75 L127.50,84.00 L127.75,83.50 L127.00,83.50ZM129.75,82.00 L129.75,82.50 L130.00,82.75 L130.75,82.75 L131.25,82.25 L131.00,82.00ZM143.00,81.75 L143.00,82.25 L143.50,82.25 L143.25,81.75ZM166.50,90.50 L165.00,89.25 L164.50,89.50 L163.25,88.00 L162.50,88.00 L161.50,87.00 L161.25,87.00 L160.50,85.50 L159.75,85.00 L159.75,86.00 L159.25,86.50 L158.75,86.50 L158.50,86.25 L157.00,86.25 L156.75,86.00 L156.75,85.00 L156.00,85.00 L155.75,85.25 L155.75,86.00 L156.25,86.50 L156.25,87.75 L156.00,88.00 L155.25,88.00 L154.00,87.50 L154.25,85.50 L154.75,84.75 L154.75,84.25 L154.50,84.25 L154.00,85.25 L153.25,86.00 L153.75,87.00 L153.00,88.00 L152.50,88.00 L152.00,87.50 L151.50,86.25 L150.75,85.50 L150.25,84.50 L149.50,84.50 L148.00,85.25 L147.25,84.75 L147.50,83.25 L148.50,82.50 L148.50,82.00 L148.00,81.50 L147.50,81.50 L147.25,81.00 L147.00,81.00 L147.25,81.50 L147.25,83.00 L146.75,83.50 L146.25,83.25 L144.75,83.50 L144.00,83.00 L144.00,83.50 L143.75,83.75 L141.00,83.50 L140.50,82.75 L139.00,82.00 L138.25,82.00 L137.75,81.25 L137.25,81.75 L136.00,81.75 L136.00,82.50 L135.75,82.75 L135.00,82.50 L134.50,82.00 L134.00,82.00 L134.00,83.25 L134.25,83.75 L133.00,84.50 L131.75,84.00 L130.00,85.00 L129.50,84.75 L129.00,85.00 L129.00,85.75 L127.75,87.25 L126.50,87.25 L126.50,87.50 L127.25,88.00 L128.00,87.25 L128.50,87.75 L128.50,88.00 L128.00,88.50 L127.25,88.75 L126.75,89.50 L126.50,91.25 L127.00,91.50 L127.25,92.00 L126.50,92.50 L126.25,92.25 L126.25,91.75 L125.75,91.25 L125.75,89.75 L125.50,89.50 L124.50,89.50 L124.50,90.50 L124.75,90.75 L124.50,92.25 L125.00,92.50 L126.25,92.50 L126.50,92.75 L126.00,93.75 L126.00,94.25 L126.50,94.25 L127.50,95.25 L127.50,96.50 L127.75,97.00 L129.00,97.50 L128.50,98.00 L127.50,97.50 L126.50,97.75 L127.00,98.75 L127.50,98.75 L128.50,99.75 L129.00,99.75 L129.00,98.75 L129.50,98.25 L131.50,98.50 L132.00,99.00 L131.75,99.25 L131.75,99.75 L132.00,100.00 L132.00,101.25 L131.75,101.50 L131.00,101.00 L130.25,101.00 L130.00,100.75 L129.50,100.75 L129.25,101.25 L130.50,101.50 L131.75,102.25 L132.25,103.00 L132.25,104.25 L132.75,104.25 L133.00,104.00 L133.00,103.50 L133.50,103.00 L134.50,103.25 L135.25,104.00 L135.75,103.75 L135.75,103.25 L136.50,102.25 L136.25,101.00 L136.75,100.75 L137.00,101.00 L137.00,101.50 L138.25,102.50 L138.00,103.00 L138.25,102.75 L138.75,102.75 L139.25,103.50 L139.25,104.00 L139.75,104.75 L140.00,104.75 L140.75,104.25 L141.00,103.75 L140.75,103.25 L140.00,102.75 L140.00,102.25 L140.50,101.75 L142.00,102.00 L142.75,101.25 L143.50,102.75 L143.75,104.00 L144.00,103.50 L146.00,102.00 L147.00,102.50 L148.50,102.50 L148.50,101.75 L148.75,101.50 L149.00,101.50 L150.50,103.25 L150.75,103.00 L150.75,101.75 L151.00,101.50 L151.00,101.00 L150.50,101.00 L149.75,100.25 L149.50,99.25 L149.00,99.25 L148.75,99.00 L148.75,98.25 L149.25,97.75 L149.25,97.25 L149.50,97.00 L150.25,97.50 L150.25,99.00 L151.75,100.00 L152.75,100.25 L153.50,101.00 L152.75,101.75 L153.00,102.25 L153.25,102.25 L153.75,101.50 L154.25,101.25 L154.50,101.50 L155.00,101.50 L155.50,101.00 L156.00,101.00 L156.50,101.50 L157.25,101.50 L157.75,101.00 L158.50,101.00 L158.75,101.50 L159.75,102.00 L160.50,102.00 L160.75,102.25 L161.50,102.00 L161.25,101.75 L161.25,101.25 L161.75,100.50 L163.00,99.50 L163.00,97.50 L163.25,97.00 L164.00,96.25 L164.50,96.75 L164.25,97.25 L164.50,97.25 L164.75,97.00 L164.50,96.50 L165.00,96.00 L165.50,96.00 L165.50,95.25 L164.75,95.25 L164.50,94.75 L166.00,94.00 L166.00,92.75 L165.75,93.00 L165.00,93.00 L164.50,91.75 L163.75,91.25 L163.50,91.50 L163.00,91.50 L163.75,92.50 L163.75,93.25 L163.50,93.50 L162.75,93.50 L162.00,92.75 L161.25,92.75 L161.00,92.50 L161.00,92.00 L161.25,91.75 L161.00,91.25 L162.00,90.50 L163.50,90.50 L163.75,90.25 L164.25,90.50 L164.50,90.25 L165.25,91.00 L166.25,91.00ZM153.25,76.25 L153.25,77.00 L155.00,77.00 L155.25,76.75 L154.25,76.75ZM161.00,76.00 L160.00,76.00 L159.75,76.50 L160.00,77.00 L159.75,79.25 L160.25,79.50 L160.50,79.25 L161.00,79.25 L161.00,78.50 L161.75,78.00 L161.75,77.50 L161.00,76.75ZM157.50,75.75 L157.50,76.00 L157.75,76.00 L157.75,75.75ZM130.00,75.25 L130.50,76.00 L131.00,76.00 L131.25,75.75 L131.25,75.50 L130.75,75.25ZM167.50,75.00 L167.25,75.00 L167.00,75.50 L167.25,75.50ZM163.50,74.00 L163.25,74.25 L163.25,75.25 L162.75,75.75 L162.25,75.75 L162.00,75.50 L162.25,76.25 L163.00,77.25 L163.25,77.25 L163.25,76.75 L163.00,76.50 L164.00,75.25ZM125.25,73.00 L125.50,73.25 L126.25,72.75 L125.50,72.75ZM119.25,68.75 L119.00,68.75 L119.00,69.00ZM172.25,64.75 L172.50,65.00 L172.50,64.75ZM122.75,63.00 L121.75,63.00 L122.00,64.00 L122.75,63.50ZM165.00,59.50 L165.00,59.75 L165.25,59.75 L165.25,59.50ZM123.75,58.50 L123.75,58.75 L124.00,58.75 L124.00,58.50ZM169.00,57.75 L168.50,57.75 L168.50,58.75 L168.75,59.00 L169.00,58.75ZM153.00,56.00 L152.75,56.00 L152.75,57.00 L153.25,56.25ZM155.00,56.00 L155.75,55.50 L155.00,55.50ZM159.00,55.25 L159.00,55.50 L159.25,55.50 L159.25,55.25ZM152.75,53.00 L151.75,53.50 L152.25,53.75 L152.75,53.50ZM131.00,53.50 L132.25,54.25 L132.75,53.75 L133.25,53.75 L133.25,53.50 L132.50,53.00 L131.75,53.00ZM122.25,71.25 L123.25,71.25 L123.50,71.75 L124.00,72.00 L124.25,71.50 L125.50,70.50 L126.75,70.50 L127.50,71.25 L128.50,71.50 L129.00,72.25 L129.00,72.75 L128.75,73.00 L127.50,73.25 L127.00,74.00 L128.75,74.00 L129.00,73.75 L129.00,73.00 L130.25,72.25 L130.75,72.75 L130.25,73.75 L130.25,74.25 L131.25,74.25 L131.75,74.75 L131.75,75.50 L132.50,76.25 L132.50,77.50 L132.75,77.75 L133.50,77.50 L134.00,77.00 L133.75,76.25 L134.50,75.75 L134.50,74.75 L135.00,74.50 L135.50,75.00 L135.50,75.50 L135.25,75.75 L135.50,76.75 L136.50,77.50 L137.00,77.50 L137.50,77.00 L138.00,77.50 L138.00,78.50 L138.75,78.50 L138.75,78.25 L139.25,77.75 L139.75,77.75 L140.25,77.00 L140.75,77.00 L141.50,77.75 L141.75,77.50 L142.25,77.75 L143.00,77.75 L143.25,77.50 L144.00,77.75 L143.50,77.50 L143.50,77.00 L143.75,76.75 L144.25,76.75 L145.00,77.50 L146.00,76.50 L146.75,77.25 L146.75,78.25 L147.00,78.75 L148.00,77.25 L148.75,77.25 L149.25,76.75 L150.25,76.75 L150.75,75.75 L152.25,76.00 L152.50,75.75 L152.25,74.50 L152.75,73.75 L153.25,73.75 L153.75,74.25 L153.75,74.75 L154.25,74.75 L154.25,74.25 L153.75,74.00 L153.75,73.25 L154.00,73.00 L154.50,73.00 L154.75,73.25 L156.00,73.25 L156.25,73.50 L156.25,74.00 L155.75,74.50 L155.25,74.50 L155.00,74.75 L156.25,75.25 L156.25,74.00 L156.50,73.75 L156.00,73.25 L156.50,72.75 L158.00,74.00 L158.25,75.25 L158.75,75.25 L159.00,75.50 L159.50,75.00 L159.00,74.25 L159.50,73.75 L161.50,74.25 L161.75,74.00 L161.75,73.50 L162.50,72.75 L162.75,73.00 L164.50,73.25 L164.50,72.50 L165.25,71.50 L165.75,71.75 L165.75,72.50 L166.25,73.00 L166.75,73.00 L167.00,72.75 L167.00,71.75 L167.25,71.50 L168.25,71.50 L168.50,72.00 L168.75,72.00 L168.25,71.50 L168.50,71.25 L168.50,70.25 L168.75,70.00 L169.25,70.00 L170.00,69.00 L171.00,69.50 L171.25,69.25 L171.25,68.50 L169.75,68.50 L169.50,68.25 L168.50,68.25 L168.00,67.50 L169.25,67.00 L169.25,66.00 L168.50,65.25 L168.50,64.75 L168.75,64.50 L170.00,64.75 L170.00,64.50 L169.25,64.50 L169.00,64.25 L169.00,63.75 L169.25,63.50 L170.50,63.50 L171.00,64.25 L171.25,64.00 L171.25,63.25 L170.75,62.75 L171.50,62.25 L171.50,62.00 L171.00,62.00 L171.00,62.50 L170.75,62.75 L170.50,62.50 L170.00,62.50 L169.25,63.00 L168.25,63.25 L168.00,63.00 L168.25,61.50 L167.75,61.00 L167.25,61.00 L167.00,61.25 L165.75,61.50 L164.75,62.50 L164.00,62.50 L163.75,62.00 L164.25,61.75 L164.50,61.25 L163.50,60.50 L163.50,59.75 L164.25,58.50 L164.25,58.00 L164.50,57.75 L165.00,57.75 L165.25,57.25 L164.25,57.25 L164.00,57.75 L163.00,58.75 L162.75,58.75 L161.75,58.00 L161.50,58.25 L160.50,58.00 L160.25,57.75 L160.50,56.50 L160.00,56.50 L159.75,56.75 L158.50,56.50 L158.25,56.75 L157.50,56.75 L156.25,57.75 L156.25,58.50 L156.00,58.75 L154.75,58.75 L154.25,58.00 L152.50,58.00 L152.25,57.75 L151.50,57.75 L150.50,57.00 L150.50,56.25 L149.75,55.25 L149.75,54.50 L150.25,53.75 L150.25,53.25 L150.00,53.00 L149.25,53.50 L149.25,54.00 L149.50,54.25 L149.00,54.50 L148.25,55.50 L147.50,55.75 L146.75,56.50 L145.25,56.50 L145.00,56.25 L145.00,55.00 L145.75,54.50 L146.25,54.75 L146.75,54.75 L147.00,54.50 L146.75,53.75 L146.00,53.00 L145.00,53.00 L144.75,52.50 L143.75,52.50 L143.25,52.75 L143.25,53.00 L144.75,53.00 L145.00,53.25 L145.00,54.75 L144.50,55.00 L144.00,54.50 L142.75,54.25 L142.25,53.75 L142.25,52.50 L142.00,52.25 L141.75,52.25 L140.00,54.00 L139.50,54.00 L139.25,53.75 L139.25,52.75 L138.50,53.00 L137.75,54.00 L137.00,53.50 L136.75,53.75 L135.25,53.75 L135.25,55.00 L134.00,56.00 L133.50,56.00 L132.50,55.00 L132.00,55.00 L131.75,55.75 L131.25,56.25 L131.25,56.75 L130.00,57.75 L128.50,57.75 L127.25,57.00 L126.75,57.00 L127.00,57.75 L127.50,57.75 L128.25,58.75 L127.75,59.25 L127.25,59.25 L126.75,58.75 L125.25,59.00 L125.00,59.25 L125.00,60.00 L124.50,60.50 L124.00,60.50 L124.50,61.25 L125.50,61.00 L126.00,61.50 L126.00,62.50 L125.25,63.25 L124.50,63.00 L124.50,63.25 L123.50,64.25 L123.25,65.25 L122.50,65.75 L122.50,66.25 L124.00,68.00 L124.00,68.75 L123.75,69.00 L124.00,70.25 L123.50,71.00 L122.25,70.75Z" fill="#2b48c8"/><path d="M127.00,92.75 L127.25,93.25 L127.25,94.50 L128.25,96.50 L130.25,98.50 L133.25,100.25 L133.75,100.25 L136.25,101.25 L139.25,101.50 L139.50,101.75 L143.25,101.75 L143.50,101.50 L145.25,101.50 L145.50,101.25 L146.50,101.25 L149.75,100.00 L150.75,100.00 L151.00,100.25 L152.00,100.25 L152.25,100.50 L153.75,100.50 L154.00,100.75 L155.75,100.75 L156.00,100.50 L158.75,100.25 L160.25,99.50 L160.75,99.50 L163.00,98.00 L164.25,96.50 L164.75,95.25 L164.75,94.50 L165.00,94.25 L165.00,93.50 L164.75,93.25 L164.75,92.50 L164.25,91.25 L163.00,89.75 L160.75,88.25 L160.25,88.25 L158.75,87.50 L156.00,87.25 L155.75,87.00 L152.25,87.25 L151.00,86.25 L149.50,85.50 L149.00,85.50 L146.50,84.50 L143.50,84.25 L143.25,84.00 L139.50,84.00 L139.25,84.25 L137.50,84.25 L137.25,84.50 L136.25,84.50 L136.00,84.75 L133.25,85.50 L131.75,86.25 L130.25,87.25 L128.25,89.25 L127.25,91.25 L127.25,92.50ZM126.00,64.25 L126.00,67.25 L126.25,67.50 L126.25,68.00 L127.25,70.00 L128.50,71.50 L128.75,71.50 L130.75,73.25 L133.25,74.50 L133.75,74.50 L135.50,75.25 L136.25,75.25 L136.50,75.50 L137.50,75.50 L137.75,75.75 L139.75,75.75 L140.00,76.00 L142.75,76.00 L143.00,75.75 L145.00,75.75 L145.25,75.50 L146.25,75.50 L146.50,75.25 L147.25,75.25 L147.50,75.00 L149.50,74.50 L151.25,73.50 L152.25,74.00 L153.00,74.00 L154.25,74.50 L156.50,74.50 L156.75,74.75 L157.25,74.50 L159.50,74.50 L159.75,74.25 L161.50,74.00 L162.75,73.25 L163.25,73.25 L164.75,72.25 L166.75,70.25 L167.75,68.25 L167.75,67.25 L168.00,67.00 L167.75,64.50 L166.75,62.50 L164.75,60.50 L163.25,59.50 L162.75,59.50 L161.50,58.75 L160.75,58.75 L159.50,58.25 L157.25,58.25 L157.00,58.00 L156.50,58.25 L154.25,58.25 L154.00,58.50 L152.75,58.75 L151.75,58.00 L149.25,56.75 L148.75,56.75 L147.75,56.25 L147.00,56.25 L146.75,56.00 L146.00,56.00 L145.75,55.75 L144.50,55.75 L144.25,55.50 L138.50,55.50 L138.25,55.75 L137.00,55.75 L136.75,56.00 L136.00,56.00 L135.75,56.25 L135.00,56.25 L134.75,56.50 L133.50,56.75 L129.50,59.00 L127.50,61.00 L126.25,63.25 L126.25,64.00Z" fill="#2aa2e0"/><path d="M128.50,91.75 L128.50,94.00 L129.25,95.75 L129.75,96.50 L132.00,98.50 L136.00,100.25 L138.00,100.50 L138.25,100.75 L141.00,100.75 L141.25,101.00 L141.75,100.75 L144.50,100.75 L144.75,100.50 L146.75,100.25 L147.00,100.00 L148.25,99.75 L150.00,98.75 L151.25,99.25 L152.00,99.25 L152.25,99.50 L153.50,99.50 L153.75,99.75 L156.00,99.75 L156.25,99.50 L158.50,99.25 L160.75,98.25 L161.75,97.50 L163.00,96.00 L163.25,94.75 L163.50,94.50 L163.50,93.25 L163.25,93.00 L163.00,91.75 L161.75,90.25 L159.25,88.75 L157.75,88.50 L157.50,88.25 L156.25,88.25 L156.00,88.00 L152.00,88.25 L150.75,87.25 L148.25,86.00 L147.75,86.00 L146.75,85.50 L146.00,85.50 L145.75,85.25 L144.75,85.25 L144.50,85.00 L141.75,85.00 L141.50,84.75 L141.00,85.00 L138.25,85.00 L138.00,85.25 L136.00,85.50 L132.00,87.25 L129.75,89.25ZM127.25,65.00 L127.25,66.50 L127.50,66.75 L127.75,68.25 L129.00,70.25 L130.50,71.75 L134.00,73.75 L134.50,73.75 L135.50,74.25 L136.25,74.25 L136.50,74.50 L137.25,74.50 L137.50,74.75 L138.75,74.75 L139.00,75.00 L143.75,75.00 L144.00,74.75 L145.25,74.75 L145.50,74.50 L146.25,74.50 L146.50,74.25 L147.25,74.25 L147.50,74.00 L148.75,73.75 L150.75,72.75 L151.25,72.25 L153.75,73.25 L154.50,73.25 L154.75,73.50 L159.00,73.50 L159.25,73.25 L160.00,73.25 L160.25,73.00 L161.50,72.75 L163.75,71.50 L165.50,69.75 L166.50,67.25 L166.50,65.50 L165.50,63.00 L163.75,61.25 L161.50,60.00 L161.00,60.00 L160.00,59.50 L159.25,59.50 L159.00,59.25 L154.75,59.25 L154.50,59.50 L153.75,59.50 L152.50,60.00 L151.00,58.75 L148.50,57.50 L148.00,57.50 L147.00,57.00 L146.25,57.00 L146.00,56.75 L145.00,56.75 L144.75,56.50 L142.75,56.50 L142.50,56.25 L140.25,56.25 L140.00,56.50 L138.00,56.50 L137.75,56.75 L136.75,56.75 L136.50,57.00 L135.75,57.00 L135.50,57.25 L134.25,57.50 L131.75,58.75 L129.75,60.50 L129.50,60.50 L129.50,60.75 L128.50,61.75 L127.50,63.75 L127.50,64.75Z" fill="#3cc0b4"/><path d="M129.75,91.75 L129.75,94.00 L130.00,94.25 L130.00,94.75 L130.75,96.00 L132.25,97.50 L135.00,99.00 L135.50,99.00 L137.25,99.75 L138.25,99.75 L138.50,100.00 L144.25,100.00 L144.50,99.75 L145.50,99.75 L145.75,99.50 L147.75,99.00 L149.75,98.00 L150.25,97.50 L152.75,98.50 L157.00,98.50 L157.25,98.25 L158.00,98.25 L160.00,97.25 L161.25,96.00 L162.00,94.25 L162.00,93.50 L161.25,91.75 L160.00,90.50 L158.00,89.50 L157.25,89.50 L157.00,89.25 L152.75,89.25 L152.50,89.50 L151.75,89.50 L149.75,87.75 L147.75,86.75 L147.25,86.75 L145.50,86.00 L144.50,86.00 L144.25,85.75 L138.50,85.75 L138.25,86.00 L137.25,86.00 L137.00,86.25 L135.00,86.75 L132.25,88.25 L130.75,89.75ZM128.50,65.00 L128.75,67.50 L130.00,69.75 L131.25,71.00 L133.50,72.50 L134.50,72.75 L135.25,73.25 L136.75,73.50 L137.00,73.75 L138.00,73.75 L138.25,74.00 L140.00,74.00 L140.25,74.25 L142.50,74.25 L142.75,74.00 L144.50,74.00 L144.75,73.75 L146.75,73.50 L149.25,72.50 L151.25,71.00 L151.75,71.00 L153.50,72.00 L155.50,72.25 L155.75,72.50 L158.00,72.50 L158.25,72.25 L160.25,72.00 L163.00,70.50 L164.25,69.00 L165.00,67.25 L165.00,65.50 L163.75,63.00 L162.25,61.75 L160.25,60.75 L158.25,60.50 L158.00,60.25 L155.75,60.25 L155.50,60.50 L154.50,60.50 L154.25,60.75 L153.50,60.75 L152.75,61.25 L152.25,61.25 L150.75,59.75 L148.50,58.50 L148.00,58.50 L147.25,58.00 L145.50,57.75 L145.25,57.50 L144.25,57.50 L144.00,57.25 L138.75,57.25 L138.50,57.50 L137.50,57.50 L137.25,57.75 L136.50,57.75 L136.25,58.00 L135.50,58.00 L134.75,58.50 L134.25,58.50 L132.00,59.75 L129.75,62.00 L129.00,63.25 L128.75,64.75Z" fill="#6ccc5a"/><path d="M132.00,92.25 L132.00,93.50 L132.25,93.75 L132.25,94.25 L132.75,95.25 L134.00,96.50 L136.75,98.00 L137.50,98.00 L138.75,98.50 L140.75,98.50 L141.00,98.75 L141.75,98.75 L142.00,98.50 L144.00,98.50 L144.25,98.25 L146.00,98.00 L148.00,97.00 L150.00,95.25 L150.75,93.50 L150.75,92.25 L150.50,92.00 L150.50,91.50 L150.00,90.50 L148.75,89.25 L146.00,87.75 L145.25,87.75 L144.00,87.25 L142.00,87.25 L141.75,87.00 L141.00,87.00 L140.75,87.25 L138.75,87.25 L138.50,87.50 L136.75,87.75 L134.75,88.75 L132.75,90.50ZM153.50,65.25 L153.25,65.75 L153.25,67.00 L153.50,67.50 L154.50,68.50 L155.50,69.00 L158.25,69.00 L159.25,68.50 L160.50,67.00 L160.50,65.75 L160.25,65.25 L159.25,64.25 L158.25,63.75 L155.50,63.75 L154.50,64.25ZM131.00,64.25 L131.00,67.00 L131.50,68.25 L132.25,69.25 L134.00,70.75 L136.00,71.75 L136.50,71.75 L137.50,72.25 L138.50,72.25 L138.75,72.50 L144.00,72.50 L144.25,72.25 L145.25,72.25 L145.50,72.00 L146.75,71.75 L149.75,70.00 L151.25,68.25 L151.75,67.00 L151.75,64.25 L151.00,62.75 L148.50,60.50 L146.50,59.50 L145.00,59.25 L144.75,59.00 L143.75,59.00 L143.50,58.75 L139.25,58.75 L139.00,59.00 L138.00,59.00 L137.75,59.25 L136.25,59.50 L133.50,61.00 L131.75,62.75Z" fill="#b0d83c"/><path d="M134.00,92.00 L134.00,93.75 L134.50,94.75 L135.75,96.00 L137.75,97.00 L139.75,97.25 L140.00,97.50 L142.75,97.50 L143.00,97.25 L145.00,97.00 L147.00,96.00 L148.25,94.75 L148.75,93.75 L148.75,92.00 L148.25,91.00 L147.00,89.75 L145.00,88.75 L143.00,88.50 L142.75,88.25 L140.00,88.25 L139.75,88.50 L137.75,88.75 L135.75,89.75 L134.50,91.00ZM132.75,64.50 L132.75,66.75 L133.00,67.00 L133.00,67.50 L135.00,69.75 L137.00,70.75 L138.50,71.00 L138.75,71.25 L140.00,71.25 L140.25,71.50 L142.50,71.50 L142.75,71.25 L144.00,71.25 L144.25,71.00 L145.75,70.75 L147.75,69.75 L149.25,68.25 L150.00,66.75 L150.00,64.50 L149.25,63.00 L148.25,62.00 L146.75,61.00 L146.25,61.00 L145.50,60.50 L144.00,60.25 L143.75,60.00 L139.00,60.00 L138.75,60.25 L138.00,60.25 L136.50,61.00 L136.00,61.00 L134.50,62.00 L133.50,63.00Z" fill="#e8e02a"/><path d="M135.75,92.00 L135.75,93.75 L136.00,94.25 L137.00,95.25 L139.25,96.25 L140.75,96.25 L141.00,96.50 L143.50,96.25 L145.75,95.25 L147.00,93.75 L147.00,92.00 L146.75,91.50 L145.75,90.50 L143.50,89.50 L142.00,89.50 L141.75,89.25 L139.25,89.50 L137.00,90.50ZM134.25,64.50 L134.25,66.75 L134.75,67.75 L136.00,69.00 L138.00,70.00 L138.50,70.00 L138.75,70.25 L140.00,70.25 L140.25,70.50 L142.50,70.50 L142.75,70.25 L144.00,70.25 L144.25,70.00 L144.75,70.00 L146.75,69.00 L148.00,67.75 L148.50,66.75 L148.50,64.50 L147.75,63.25 L145.75,61.75 L145.25,61.75 L144.50,61.25 L143.75,61.25 L143.50,61.00 L139.25,61.00 L139.00,61.25 L138.25,61.25 L137.50,61.75 L137.00,61.75 L135.50,62.75Z" fill="#f4a224"/><path d="M138.25,92.50 L138.50,93.75 L139.00,94.25 L140.25,94.75 L142.50,94.75 L142.75,94.50 L143.25,94.50 L143.75,94.25 L144.50,93.25 L144.25,92.00 L143.75,91.50 L142.50,91.00 L140.25,91.00 L140.00,91.25 L139.50,91.25 L139.00,91.50ZM136.25,64.25 L136.00,64.75 L136.00,66.50 L136.25,67.00 L138.25,68.75 L139.75,69.00 L140.00,69.25 L142.75,69.25 L143.00,69.00 L144.50,68.75 L145.25,68.25 L146.75,66.50 L146.75,64.75 L146.50,64.25 L145.50,63.25 L143.50,62.25 L142.25,62.25 L142.00,62.00 L139.25,62.25 L138.00,62.75Z" fill="#e6261a"/></g><g fill="#3a2f9a" opacity="0.55"><rect x="238.1" y="100.4" width="0.7" height="0.7"/><rect x="235.7" y="85.9" width="0.7" height="0.7"/><rect x="256.8" y="80.0" width="0.7" height="0.7"/><rect x="235.4" y="66.4" width="0.7" height="0.7"/><rect x="231.0" y="101.3" width="0.7" height="0.7"/><rect x="235.2" y="63.9" width="0.7" height="0.7"/><rect x="228.8" y="80.5" width="0.7" height="0.7"/><rect x="242.4" y="70.0" width="0.7" height="0.7"/><rect x="242.0" y="73.6" width="0.7" height="0.7"/><rect x="239.1" y="87.7" width="0.7" height="0.7"/><rect x="241.1" y="74.3" width="0.7" height="0.7"/><rect x="234.8" y="87.4" width="0.7" height="0.7"/><rect x="225.8" y="82.7" width="0.7" height="0.7"/><rect x="240.2" y="94.8" width="0.7" height="0.7"/><rect x="235.8" y="77.6" width="0.7" height="0.7"/><rect x="237.2" y="69.9" width="0.7" height="0.7"/><rect x="234.4" y="85.8" width="0.7" height="0.7"/><rect x="238.3" y="65.4" width="0.7" height="0.7"/><rect x="233.4" y="50.4" width="0.7" height="0.7"/><rect x="242.4" y="72.5" width="0.7" height="0.7"/><rect x="237.9" y="64.6" width="0.7" height="0.7"/><rect x="235.3" y="86.2" width="0.7" height="0.7"/><rect x="243.8" y="60.8" width="0.7" height="0.7"/><rect x="242.7" y="77.5" width="0.7" height="0.7"/><rect x="229.7" y="86.5" width="0.7" height="0.7"/><rect x="233.5" y="75.6" width="0.7" height="0.7"/><rect x="230.2" y="82.9" width="0.7" height="0.7"/><rect x="236.2" y="77.3" width="0.7" height="0.7"/><rect x="228.2" y="72.6" width="0.7" height="0.7"/><rect x="239.1" y="97.6" width="0.7" height="0.7"/><rect x="235.6" y="99.5" width="0.7" height="0.7"/><rect x="235.8" y="64.5" width="0.7" height="0.7"/><rect x="240.9" y="66.2" width="0.7" height="0.7"/><rect x="239.1" y="94.7" width="0.7" height="0.7"/><rect x="233.4" y="78.5" width="0.7" height="0.7"/><rect x="255.6" y="83.1" width="0.7" height="0.7"/><rect x="238.0" y="90.7" width="0.7" height="0.7"/><rect x="235.1" y="78.5" width="0.7" height="0.7"/><rect x="238.9" y="46.3" width="0.7" height="0.7"/><rect x="247.2" y="64.8" width="0.7" height="0.7"/><rect x="227.2" y="87.3" width="0.7" height="0.7"/><rect x="236.1" y="62.3" width="0.7" height="0.7"/><rect x="237.5" y="63.8" width="0.7" height="0.7"/><rect x="230.3" y="58.7" width="0.7" height="0.7"/><rect x="229.3" y="85.3" width="0.7" height="0.7"/><rect x="236.8" y="84.1" width="0.7" height="0.7"/><rect x="243.2" y="79.2" width="0.7" height="0.7"/><rect x="230.6" y="75.8" width="0.7" height="0.7"/><rect x="249.0" y="80.2" width="0.7" height="0.7"/><rect x="238.4" y="78.4" width="0.7" height="0.7"/><rect x="237.8" y="85.8" width="0.7" height="0.7"/><rect x="235.8" y="77.6" width="0.7" height="0.7"/><rect x="229.6" y="67.9" width="0.7" height="0.7"/><rect x="239.1" y="90.2" width="0.7" height="0.7"/><rect x="243.2" y="80.5" width="0.7" height="0.7"/><rect x="229.3" y="88.5" width="0.7" height="0.7"/><rect x="240.8" y="58.8" width="0.7" height="0.7"/><rect x="242.3" y="87.9" width="0.7" height="0.7"/><rect x="249.2" y="64.0" width="0.7" height="0.7"/><rect x="225.6" y="90.7" width="0.7" height="0.7"/><rect x="221.5" y="69.6" width="0.7" height="0.7"/><rect x="227.2" y="65.6" width="0.7" height="0.7"/><rect x="220.7" y="76.5" width="0.7" height="0.7"/><rect x="243.7" y="86.0" width="0.7" height="0.7"/><rect x="239.4" y="74.8" width="0.7" height="0.7"/><rect x="247.4" y="87.2" width="0.7" height="0.7"/><rect x="244.3" y="58.2" width="0.7" height="0.7"/><rect x="238.7" y="63.9" width="0.7" height="0.7"/><rect x="238.7" y="82.6" width="0.7" height="0.7"/><rect x="226.9" y="82.4" width="0.7" height="0.7"/><rect x="245.2" y="86.9" width="0.7" height="0.7"/><rect x="240.7" y="67.9" width="0.7" height="0.7"/><rect x="230.6" y="64.4" width="0.7" height="0.7"/><rect x="237.0" y="96.6" width="0.7" height="0.7"/><rect x="239.5" y="80.0" width="0.7" height="0.7"/><rect x="227.1" y="86.2" width="0.7" height="0.7"/><rect x="234.1" y="53.4" width="0.7" height="0.7"/><rect x="222.2" y="75.3" width="0.7" height="0.7"/><rect x="228.9" y="103.0" width="0.7" height="0.7"/><rect x="236.3" y="65.5" width="0.7" height="0.7"/><rect x="232.1" y="102.2" width="0.7" height="0.7"/><rect x="228.5" y="90.8" width="0.7" height="0.7"/><rect x="239.5" y="100.5" width="0.7" height="0.7"/><rect x="240.3" y="74.4" width="0.7" height="0.7"/><rect x="240.2" y="81.0" width="0.7" height="0.7"/><rect x="243.8" y="79.2" width="0.7" height="0.7"/><rect x="251.8" y="78.7" width="0.7" height="0.7"/><rect x="239.6" y="71.0" width="0.7" height="0.7"/><rect x="237.1" y="80.5" width="0.7" height="0.7"/><rect x="237.4" y="92.7" width="0.7" height="0.7"/><rect x="231.8" y="68.4" width="0.7" height="0.7"/><rect x="244.9" y="76.2" width="0.7" height="0.7"/><rect x="230.8" y="96.3" width="0.7" height="0.7"/><rect x="242.3" y="43.3" width="0.7" height="0.7"/><rect x="233.1" y="91.1" width="0.7" height="0.7"/><rect x="242.8" y="73.1" width="0.7" height="0.7"/><rect x="248.6" y="69.2" width="0.7" height="0.7"/><rect x="234.3" y="82.0" width="0.7" height="0.7"/><rect x="236.1" y="91.5" width="0.7" height="0.7"/><rect x="244.3" y="79.7" width="0.7" height="0.7"/><rect x="247.3" y="70.8" width="0.7" height="0.7"/><rect x="234.5" y="104.3" width="0.7" height="0.7"/><rect x="237.0" y="95.2" width="0.7" height="0.7"/><rect x="232.8" y="76.7" width="0.7" height="0.7"/><rect x="235.4" y="82.8" width="0.7" height="0.7"/><rect x="233.5" y="80.6" width="0.7" height="0.7"/><rect x="241.6" y="97.2" width="0.7" height="0.7"/><rect x="237.1" y="89.5" width="0.7" height="0.7"/><rect x="243.5" y="65.5" width="0.7" height="0.7"/><rect x="223.7" y="103.0" width="0.7" height="0.7"/><rect x="246.8" y="81.3" width="0.7" height="0.7"/><rect x="239.1" y="67.3" width="0.7" height="0.7"/><rect x="225.3" y="84.9" width="0.7" height="0.7"/><rect x="224.4" y="93.2" width="0.7" height="0.7"/><rect x="230.8" y="84.5" width="0.7" height="0.7"/><rect x="251.7" y="106.7" width="0.7" height="0.7"/><rect x="234.1" y="95.3" width="0.7" height="0.7"/><rect x="228.0" y="72.3" width="0.7" height="0.7"/><rect x="239.2" y="99.7" width="0.7" height="0.7"/><rect x="231.7" y="88.0" width="0.7" height="0.7"/><rect x="237.0" y="62.8" width="0.7" height="0.7"/><rect x="235.2" y="101.3" width="0.7" height="0.7"/><rect x="235.5" y="87.4" width="0.7" height="0.7"/><rect x="242.8" y="70.1" width="0.7" height="0.7"/><rect x="246.0" y="101.3" width="0.7" height="0.7"/><rect x="248.9" y="98.7" width="0.7" height="0.7"/><rect x="232.5" y="72.2" width="0.7" height="0.7"/><rect x="229.9" y="67.7" width="0.7" height="0.7"/><rect x="229.9" y="94.2" width="0.7" height="0.7"/><rect x="247.8" y="71.4" width="0.7" height="0.7"/><rect x="242.6" y="62.7" width="0.7" height="0.7"/><rect x="233.6" y="66.4" width="0.7" height="0.7"/><rect x="223.2" y="81.0" width="0.7" height="0.7"/><rect x="236.8" y="74.6" width="0.7" height="0.7"/><rect x="232.0" y="66.5" width="0.7" height="0.7"/><rect x="235.1" y="71.8" width="0.7" height="0.7"/><rect x="238.0" y="63.4" width="0.7" height="0.7"/><rect x="237.9" y="87.3" width="0.7" height="0.7"/><rect x="246.0" y="94.8" width="0.7" height="0.7"/><rect x="237.6" y="70.6" width="0.7" height="0.7"/><rect x="221.5" y="80.0" width="0.7" height="0.7"/><rect x="247.4" y="103.3" width="0.7" height="0.7"/><rect x="215.8" y="69.5" width="0.7" height="0.7"/><rect x="233.3" y="65.6" width="0.7" height="0.7"/><rect x="237.6" y="80.6" width="0.7" height="0.7"/><rect x="231.9" y="79.6" width="0.7" height="0.7"/><rect x="223.3" y="66.5" width="0.7" height="0.7"/><rect x="228.9" y="92.6" width="0.7" height="0.7"/><rect x="223.0" y="77.1" width="0.7" height="0.7"/><rect x="242.3" y="79.3" width="0.7" height="0.7"/><rect x="242.5" y="71.0" width="0.7" height="0.7"/><rect x="239.5" y="92.7" width="0.7" height="0.7"/><rect x="253.9" y="90.3" width="0.7" height="0.7"/><rect x="247.5" y="80.3" width="0.7" height="0.7"/><rect x="236.9" y="102.1" width="0.7" height="0.7"/><rect x="240.7" y="100.0" width="0.7" height="0.7"/><rect x="241.8" y="109.9" width="0.7" height="0.7"/><rect x="255.2" y="68.5" width="0.7" height="0.7"/><rect x="251.0" y="86.3" width="0.7" height="0.7"/><rect x="239.9" y="78.6" width="0.7" height="0.7"/><rect x="241.9" y="64.7" width="0.7" height="0.7"/><rect x="230.3" y="69.6" width="0.7" height="0.7"/><rect x="238.5" y="93.2" width="0.7" height="0.7"/><rect x="242.1" y="85.5" width="0.7" height="0.7"/><rect x="231.5" y="55.7" width="0.7" height="0.7"/><rect x="239.4" y="82.4" width="0.7" height="0.7"/><rect x="239.1" y="100.4" width="0.7" height="0.7"/><rect x="234.8" y="77.6" width="0.7" height="0.7"/><rect x="217.7" y="88.2" width="0.7" height="0.7"/><rect x="235.8" y="70.1" width="0.7" height="0.7"/><rect x="239.3" y="65.8" width="0.7" height="0.7"/><rect x="231.9" y="107.9" width="0.7" height="0.7"/><rect x="242.2" y="93.4" width="0.7" height="0.7"/><rect x="242.2" y="89.4" width="0.7" height="0.7"/><rect x="237.8" y="112.4" width="0.7" height="0.7"/><rect x="235.6" y="90.7" width="0.7" height="0.7"/><rect x="234.5" y="75.4" width="0.7" height="0.7"/><rect x="216.7" y="53.4" width="0.7" height="0.7"/><rect x="248.6" y="101.2" width="0.7" height="0.7"/><rect x="232.7" y="79.9" width="0.7" height="0.7"/><rect x="241.1" y="66.4" width="0.7" height="0.7"/><rect x="250.3" y="65.7" width="0.7" height="0.7"/><rect x="230.4" y="41.6" width="0.7" height="0.7"/><rect x="248.3" y="81.0" width="0.7" height="0.7"/><rect x="249.1" y="66.2" width="0.7" height="0.7"/><rect x="238.8" y="81.3" width="0.7" height="0.7"/><rect x="237.7" y="109.3" width="0.7" height="0.7"/><rect x="254.2" y="99.5" width="0.7" height="0.7"/><rect x="232.9" y="92.7" width="0.7" height="0.7"/><rect x="246.9" y="88.0" width="0.7" height="0.7"/><rect x="240.7" y="86.9" width="0.7" height="0.7"/><rect x="228.9" y="83.6" width="0.7" height="0.7"/><rect x="248.9" y="66.2" width="0.7" height="0.7"/><rect x="236.7" y="91.8" width="0.7" height="0.7"/><rect x="225.2" y="78.2" width="0.7" height="0.7"/><rect x="222.5" y="71.6" width="0.7" height="0.7"/><rect x="224.8" y="67.6" width="0.7" height="0.7"/><rect x="232.1" y="76.2" width="0.7" height="0.7"/><rect x="234.4" y="46.4" width="0.7" height="0.7"/><rect x="248.7" y="76.2" width="0.7" height="0.7"/><rect x="227.3" y="71.2" width="0.7" height="0.7"/><rect x="238.5" y="66.0" width="0.7" height="0.7"/><rect x="232.7" y="73.4" width="0.7" height="0.7"/><rect x="240.3" y="69.5" width="0.7" height="0.7"/><rect x="239.6" y="84.9" width="0.7" height="0.7"/><rect x="234.8" y="97.4" width="0.7" height="0.7"/><rect x="236.2" y="63.5" width="0.7" height="0.7"/><rect x="238.4" y="81.7" width="0.7" height="0.7"/><rect x="235.7" y="83.3" width="0.7" height="0.7"/><rect x="254.8" y="83.3" width="0.7" height="0.7"/><rect x="239.7" y="76.5" width="0.7" height="0.7"/><rect x="246.5" y="79.2" width="0.7" height="0.7"/><rect x="229.6" y="62.9" width="0.7" height="0.7"/><rect x="240.2" y="90.4" width="0.7" height="0.7"/><rect x="223.3" y="69.9" width="0.7" height="0.7"/><rect x="241.1" y="94.4" width="0.7" height="0.7"/><rect x="225.4" y="74.3" width="0.7" height="0.7"/><rect x="242.7" y="72.5" width="0.7" height="0.7"/><rect x="232.4" y="72.4" width="0.7" height="0.7"/><rect x="225.5" y="80.6" width="0.7" height="0.7"/><rect x="238.4" y="60.3" width="0.7" height="0.7"/><rect x="236.8" y="95.5" width="0.7" height="0.7"/><rect x="237.6" y="93.2" width="0.7" height="0.7"/><rect x="231.6" y="99.1" width="0.7" height="0.7"/><rect x="229.7" y="106.4" width="0.7" height="0.7"/><rect x="232.4" y="69.9" width="0.7" height="0.7"/><rect x="228.8" y="74.2" width="0.7" height="0.7"/><rect x="232.0" y="70.3" width="0.7" height="0.7"/><rect x="233.3" y="89.3" width="0.7" height="0.7"/><rect x="243.0" y="75.2" width="0.7" height="0.7"/><rect x="245.9" y="66.0" width="0.7" height="0.7"/><rect x="227.7" y="64.1" width="0.7" height="0.7"/><rect x="240.8" y="58.2" width="0.7" height="0.7"/><rect x="224.8" y="97.9" width="0.7" height="0.7"/><rect x="249.7" y="98.7" width="0.7" height="0.7"/><rect x="224.0" y="80.1" width="0.7" height="0.7"/><rect x="242.6" y="81.3" width="0.7" height="0.7"/><rect x="223.0" y="75.1" width="0.7" height="0.7"/><rect x="222.4" y="62.6" width="0.7" height="0.7"/><rect x="253.2" y="89.4" width="0.7" height="0.7"/><rect x="224.2" y="58.9" width="0.7" height="0.7"/><rect x="239.6" y="71.3" width="0.7" height="0.7"/><rect x="240.5" y="70.8" width="0.7" height="0.7"/><rect x="234.3" y="83.2" width="0.7" height="0.7"/><rect x="227.7" y="53.0" width="0.7" height="0.7"/><rect x="226.4" y="70.1" width="0.7" height="0.7"/><rect x="234.3" y="79.0" width="0.7" height="0.7"/><rect x="235.4" y="87.0" width="0.7" height="0.7"/><rect x="228.8" y="99.3" width="0.7" height="0.7"/><rect x="251.9" y="84.9" width="0.7" height="0.7"/><rect x="237.4" y="97.3" width="0.7" height="0.7"/><rect x="241.1" y="82.4" width="0.7" height="0.7"/><rect x="234.5" y="69.4" width="0.7" height="0.7"/><rect x="226.5" y="89.1" width="0.7" height="0.7"/><rect x="245.4" y="65.0" width="0.7" height="0.7"/><rect x="235.3" y="82.8" width="0.7" height="0.7"/><rect x="232.5" y="69.1" width="0.7" height="0.7"/><rect x="232.7" y="52.2" width="0.7" height="0.7"/><rect x="235.4" y="75.7" width="0.7" height="0.7"/><rect x="252.8" y="92.9" width="0.7" height="0.7"/></g><g filter="url(#b04)"><path d="M227.25,105.75 L226.75,106.50 L227.75,106.75 L228.00,106.50 L228.00,106.00ZM230.75,105.25 L230.25,105.50 L230.25,106.25 L230.00,106.50 L230.25,106.50 L230.75,105.75ZM242.75,100.00 L242.50,99.75 L242.00,99.75 L241.50,100.00 L241.25,100.50 L241.75,100.25 L242.75,100.25ZM243.25,97.25 L243.25,97.50 L243.75,97.50ZM244.50,95.75 L244.50,96.25 L245.00,96.50 L245.00,96.00ZM248.50,91.75 L248.50,92.00 L249.25,92.00 L249.25,91.75ZM250.50,84.00 L250.50,84.25 L250.75,84.25ZM250.25,77.75 L250.25,78.25 L250.50,78.25 L250.50,77.75ZM249.25,75.50 L249.25,75.75 L249.50,75.75 L249.50,75.50ZM222.50,69.50 L222.00,69.75 L222.50,69.75ZM219.00,68.25 L219.00,69.25 L220.00,69.25 L220.25,69.00 L220.25,68.75ZM245.75,65.75 L245.50,65.50 L245.25,66.00ZM220.00,60.50 L219.50,61.25 L219.75,61.50 L220.00,61.50ZM224.25,57.75 L223.75,58.00 L223.25,58.75 L223.75,59.50 L224.50,58.50 L224.50,58.00ZM229.50,53.75 L229.25,54.50 L228.75,55.00 L228.25,54.75 L228.00,55.00 L228.00,55.50 L227.25,56.25 L226.75,56.25 L226.50,56.00 L226.50,57.00 L226.00,57.50 L226.00,58.25 L226.25,58.50 L226.25,59.50 L224.50,60.50 L224.25,60.25 L222.75,60.25 L222.50,60.50 L222.50,61.25 L221.75,61.75 L221.25,61.75 L221.25,62.25 L222.00,62.75 L222.50,61.50 L223.00,61.00 L223.50,61.25 L223.50,62.25 L223.25,62.50 L223.50,64.50 L223.00,65.00 L222.00,65.00 L221.50,65.50 L221.50,66.25 L221.00,66.75 L221.00,67.50 L222.00,67.50 L223.00,68.50 L223.00,69.50 L223.50,69.50 L224.00,70.00 L224.00,70.75 L222.25,71.50 L221.25,71.50 L221.00,72.00 L221.75,73.00 L222.50,72.25 L223.75,72.25 L224.00,72.50 L224.00,73.50 L224.75,73.50 L225.25,74.00 L225.00,75.00 L225.50,75.50 L226.00,75.50 L226.75,76.25 L226.25,76.75 L225.50,77.00 L226.75,78.00 L227.00,79.25 L227.50,79.50 L228.50,78.75 L228.75,79.00 L228.75,79.50 L228.50,80.00 L227.50,80.75 L226.50,80.25 L225.75,79.50 L225.00,78.00 L224.25,78.00 L224.00,77.75 L224.00,77.50 L224.75,77.00 L224.50,76.75 L223.50,76.75 L223.00,77.00 L222.75,76.50 L221.75,77.25 L222.50,77.25 L223.00,77.75 L223.00,78.50 L223.25,78.75 L222.25,79.50 L222.75,79.50 L223.25,79.00 L224.00,79.50 L224.00,80.25 L223.50,81.00 L223.50,81.50 L225.00,83.75 L224.50,84.25 L223.50,84.25 L222.75,85.25 L222.00,84.75 L222.00,83.75 L222.25,83.50 L223.00,83.50 L223.50,83.00 L223.00,82.50 L222.25,82.50 L222.25,83.50 L221.50,84.00 L220.75,84.00 L220.00,83.50 L219.75,83.75 L220.00,85.00 L220.75,85.00 L221.25,85.50 L221.25,86.25 L221.00,86.50 L220.50,86.50 L220.00,86.00 L219.50,86.00 L219.25,86.25 L219.25,86.75 L220.50,86.50 L220.75,86.75 L220.75,87.50 L221.50,87.50 L221.25,86.50 L221.50,86.25 L222.75,86.25 L223.25,87.00 L221.75,88.75 L221.00,88.75 L220.25,89.25 L220.25,90.25 L219.75,90.50 L219.75,91.00 L220.50,91.00 L220.75,91.25 L220.75,91.75 L220.25,92.25 L219.25,92.25 L219.25,93.00 L220.00,93.50 L220.00,94.00 L219.75,94.25 L220.25,95.75 L221.00,96.25 L221.00,97.25 L220.25,98.00 L220.00,99.00 L220.25,99.25 L221.25,98.25 L221.75,98.75 L223.00,98.75 L223.50,99.25 L223.00,100.00 L221.75,100.25 L221.75,100.75 L222.50,101.50 L222.00,103.25 L222.50,103.25 L223.00,102.50 L223.50,102.50 L223.50,101.50 L224.00,101.25 L224.25,100.50 L224.75,100.25 L225.75,101.00 L225.75,102.00 L226.50,102.75 L227.25,102.75 L227.75,103.25 L227.75,104.00 L228.00,104.25 L229.00,104.25 L230.50,103.50 L231.75,102.50 L232.25,102.75 L232.50,103.25 L231.75,104.50 L232.00,105.00 L232.50,105.00 L233.00,104.50 L233.00,103.75 L233.25,103.50 L233.75,103.50 L234.00,103.75 L234.75,103.25 L234.25,102.50 L234.25,101.25 L235.00,100.25 L235.50,101.00 L235.50,101.75 L235.75,102.00 L235.50,104.25 L237.25,103.75 L237.75,104.50 L238.75,104.50 L239.00,104.25 L239.00,103.75 L237.50,103.75 L236.50,103.00 L236.25,102.50 L237.00,101.75 L238.25,102.00 L238.75,100.75 L239.75,101.00 L239.75,100.50 L239.25,99.75 L240.25,98.75 L240.75,98.50 L241.75,98.75 L242.00,98.50 L242.00,97.50 L241.50,97.50 L241.00,97.00 L241.25,96.75 L241.00,95.75 L241.75,95.25 L243.00,95.00 L243.25,94.25 L243.75,93.75 L244.75,93.75 L245.50,94.75 L246.25,94.25 L247.25,94.25 L247.50,94.00 L247.50,93.75 L246.50,93.25 L245.25,93.25 L245.00,93.00 L243.75,93.00 L243.50,93.25 L243.00,92.75 L243.00,92.00 L242.75,91.75 L243.00,91.50 L244.50,91.25 L245.00,92.00 L245.50,92.00 L248.00,90.75 L248.00,90.25 L248.50,89.75 L248.50,89.00 L247.25,89.50 L246.75,89.50 L246.25,89.00 L246.50,88.50 L247.00,88.50 L246.75,87.50 L248.00,86.00 L247.75,85.75 L247.75,86.25 L247.25,86.75 L246.75,86.75 L246.50,87.00 L246.00,86.75 L246.00,86.00 L246.25,85.75 L246.75,85.75 L247.75,84.75 L248.25,84.75 L248.00,84.25 L248.00,83.25 L247.50,82.50 L247.50,82.00 L248.75,80.50 L248.75,80.00 L248.50,79.75 L248.00,79.75 L247.75,80.00 L247.50,81.25 L247.25,81.50 L246.75,81.50 L246.50,81.25 L246.50,80.50 L246.00,80.25 L245.50,79.50 L246.50,79.00 L247.25,78.00 L246.50,77.50 L246.00,78.00 L245.50,78.00 L244.00,79.25 L244.00,79.75 L245.75,81.00 L245.75,82.25 L246.00,82.50 L245.50,83.00 L245.00,83.00 L244.75,82.75 L244.75,82.25 L243.75,81.25 L243.75,80.50 L243.00,79.50 L243.00,78.75 L244.00,77.75 L244.00,77.50 L243.50,77.50 L242.25,78.25 L241.25,78.25 L240.75,79.00 L241.25,79.00 L241.75,79.50 L240.75,80.75 L240.25,80.75 L240.00,80.50 L240.25,79.50 L239.75,79.75 L239.25,79.50 L240.00,77.75 L240.50,77.25 L242.25,77.25 L243.25,76.50 L243.75,76.50 L244.75,77.00 L244.75,76.50 L244.25,76.25 L243.75,75.25 L243.75,73.75 L243.25,73.75 L242.00,72.25 L241.25,72.25 L241.00,72.50 L240.25,72.50 L240.00,72.25 L240.50,71.50 L240.50,70.50 L241.25,69.75 L241.75,70.25 L241.75,71.00 L242.00,71.25 L242.25,71.00 L243.00,71.00 L243.25,71.50 L243.75,71.50 L244.25,70.75 L244.75,71.25 L244.75,71.75 L245.25,72.25 L245.25,72.75 L244.75,73.50 L245.25,73.50 L246.00,74.25 L245.75,74.75 L245.75,75.75 L246.50,76.50 L247.00,75.75 L247.00,74.50 L245.50,72.50 L245.50,71.25 L245.00,70.00 L243.50,69.25 L242.00,69.50 L241.50,69.00 L241.75,68.50 L241.75,67.00 L242.25,66.50 L242.75,67.00 L243.25,66.75 L242.75,66.00 L243.00,65.00 L242.50,65.00 L242.00,65.50 L241.25,65.50 L240.75,65.00 L240.75,64.50 L241.25,64.00 L242.00,64.00 L242.25,63.00 L241.25,63.25 L240.75,62.75 L241.00,61.75 L240.25,61.00 L240.25,60.00 L239.75,59.50 L239.75,59.00 L239.25,58.50 L238.25,58.50 L238.00,58.25 L237.50,58.50 L237.00,59.25 L235.75,59.25 L234.50,60.00 L234.00,59.75 L233.75,59.25 L234.25,58.75 L235.50,58.75 L236.50,57.75 L236.00,57.00 L236.25,55.75 L235.50,55.50 L235.00,55.00 L234.75,55.25 L233.50,55.00 L233.25,56.25 L232.75,56.75 L231.00,57.00 L230.75,57.25 L230.75,57.75 L230.25,58.25 L229.25,57.00 L229.50,56.75 L229.50,56.00 L230.00,55.50 L230.50,55.50 L231.50,56.00 L232.00,55.25 L232.00,54.75 L231.75,54.50 L231.75,53.50 L231.25,53.50 L230.75,54.00 L231.25,54.50 L230.75,55.25 L230.00,54.75 L230.00,54.25 L229.75,53.75ZM232.75,52.75 L233.25,53.25 L233.75,53.25 L233.50,52.75Z" fill="#2c1e8c"/><path d="M223.75,100.00 L222.75,100.75 L223.00,101.00 L223.50,101.00 L223.75,100.75ZM222.75,98.00 L222.25,98.00 L222.25,98.50 L222.50,98.50ZM245.75,93.50 L245.75,94.00 L246.25,94.00 L246.50,93.75 L246.25,93.50ZM219.50,92.75 L219.75,93.00 L220.25,92.75ZM244.75,90.75 L244.50,90.50 L244.25,90.75ZM247.75,90.00 L247.50,89.75 L247.25,90.00 L246.75,90.00 L246.75,90.25 L247.00,90.50 L247.50,90.50ZM240.50,89.25 L240.50,89.75 L240.75,90.25 L241.00,90.25 L241.50,89.50 L241.25,89.25ZM221.00,89.25 L220.75,89.50 L221.00,89.75ZM242.50,86.75 L242.50,87.25 L242.75,87.75 L243.00,87.75 L243.25,87.00 L243.00,86.75ZM241.25,85.75 L241.25,86.25 L241.00,86.50 L241.00,87.00 L241.25,87.25 L242.00,86.50 L242.00,86.25ZM247.50,83.50 L247.00,83.25 L246.25,84.00 L245.25,83.50 L245.00,83.75 L244.50,83.50 L244.25,84.00 L244.50,84.25 L245.75,84.25 L246.00,84.00 L246.25,84.25 L246.25,85.25 L246.50,85.25 L247.50,84.00ZM239.25,82.25 L238.75,82.50 L238.75,83.00 L239.25,82.75ZM239.75,81.50 L239.50,81.25 L239.25,81.75ZM229.25,80.00 L229.00,80.25 L230.00,81.00 L230.25,80.75 L229.75,80.00ZM242.25,79.25 L242.00,80.25 L242.75,80.50 L242.75,80.00ZM237.75,78.50 L238.50,79.25 L238.75,79.00 L238.75,78.75ZM224.00,78.50 L224.50,79.00 L224.50,78.75ZM246.75,78.25 L246.50,78.00 L245.75,78.50 L246.50,78.50ZM235.75,77.75 L235.50,77.75 L235.50,78.50 L235.75,78.75 L235.25,79.25 L235.00,79.25 L234.50,78.50 L233.00,77.75 L232.50,78.75 L233.00,80.00 L232.75,80.25 L232.25,80.25 L232.00,80.50 L232.00,81.00 L231.25,81.50 L230.25,83.00 L230.50,83.25 L230.00,84.50 L229.25,84.00 L229.25,83.25 L229.75,82.75 L229.75,82.00 L228.25,82.00 L227.75,83.75 L226.50,84.25 L226.00,83.75 L226.00,83.00 L225.75,82.75 L226.25,82.25 L226.00,81.25 L225.75,81.00 L224.00,81.00 L223.75,81.25 L225.25,83.00 L225.25,84.00 L224.50,84.50 L224.50,85.50 L223.75,86.00 L223.75,86.50 L224.00,86.75 L224.50,86.75 L225.00,87.25 L225.00,88.00 L225.50,88.75 L225.00,89.50 L225.00,91.25 L224.75,91.50 L224.25,91.50 L223.75,91.00 L223.50,88.50 L223.25,88.25 L222.25,88.75 L222.00,90.00 L221.00,90.75 L221.00,91.25 L221.25,91.50 L221.75,91.50 L222.00,91.25 L222.75,91.25 L223.00,91.50 L223.00,92.25 L222.50,92.75 L221.25,92.75 L221.00,93.00 L221.00,94.25 L222.00,94.25 L222.50,95.00 L223.25,95.25 L223.25,94.75 L223.50,94.50 L223.00,94.00 L222.75,93.25 L223.25,92.50 L224.25,92.50 L224.75,93.25 L224.75,93.75 L224.25,94.25 L224.75,94.75 L225.00,94.50 L225.50,94.50 L226.00,95.00 L226.00,95.50 L226.25,95.75 L226.25,96.25 L226.00,96.50 L225.00,96.50 L223.50,95.75 L223.75,96.25 L223.75,97.75 L223.50,98.00 L223.75,98.25 L225.25,98.00 L225.75,98.50 L226.25,98.50 L226.50,98.75 L228.50,98.75 L228.75,99.00 L228.50,99.50 L227.75,99.50 L227.25,100.00 L227.25,100.75 L226.50,101.25 L226.25,101.75 L227.00,102.25 L228.00,102.25 L229.00,103.25 L230.25,103.00 L230.25,102.50 L230.00,102.00 L229.50,101.75 L228.25,101.75 L228.00,101.50 L228.00,101.00 L228.50,100.50 L229.00,100.50 L229.75,99.75 L231.00,101.00 L231.00,101.50 L232.25,102.25 L233.50,102.25 L234.00,101.50 L234.00,100.50 L234.50,100.00 L235.00,100.00 L235.25,99.75 L235.75,100.25 L235.75,101.25 L236.00,101.50 L236.00,100.75 L236.75,100.00 L238.00,100.50 L238.50,99.25 L240.00,98.00 L240.00,97.50 L239.50,96.75 L239.75,96.50 L240.75,96.50 L240.50,95.75 L241.50,95.00 L241.50,94.50 L240.50,93.25 L240.75,92.50 L241.25,92.00 L242.50,92.50 L242.00,91.75 L241.00,91.75 L240.00,91.25 L239.00,91.25 L238.75,91.00 L239.00,90.50 L238.75,89.50 L239.25,88.75 L239.00,88.25 L237.75,88.25 L237.50,88.00 L237.50,86.50 L236.75,85.00 L236.50,85.00 L236.25,85.50 L235.25,85.50 L235.00,85.25 L235.00,84.50 L235.75,83.75 L236.50,84.00 L236.25,83.25 L237.25,82.50 L237.50,81.75 L236.25,81.75 L234.75,80.75 L234.75,81.25 L235.25,81.50 L235.75,82.25 L235.50,82.50 L234.25,82.50 L233.75,82.00 L233.75,81.25 L233.25,80.50 L234.00,80.00 L235.00,80.25 L235.25,80.00 L236.25,80.00 L236.50,79.75 L237.25,80.25 L236.50,78.25ZM226.75,77.25 L227.75,78.25 L228.00,78.25 L228.25,78.00 L229.25,78.00 L229.50,77.75 L229.50,77.25 L230.00,77.00 L230.00,76.75 L228.00,77.75 L227.75,77.50 L227.75,77.00 L227.25,76.75 L226.75,77.00ZM241.00,76.50 L241.00,76.75 L241.25,76.75 L241.25,76.50ZM236.50,75.25 L236.50,76.25 L238.25,77.50 L239.00,77.50 L239.25,77.25 L239.50,76.00 L238.50,76.50 L238.00,76.00 L238.00,75.25ZM242.50,74.50 L242.25,74.75 L242.25,76.25 L243.25,76.25 L243.50,76.00 L243.50,75.50 L243.00,74.75ZM240.75,72.75 L240.00,73.00 L240.00,74.00 L240.25,74.00 L240.25,73.50ZM225.00,72.75 L224.75,73.00 L225.50,73.75 L225.75,73.50 L225.75,73.00 L225.50,72.75ZM225.25,68.75 L224.75,69.00 L225.00,69.50 L224.75,70.25 L225.50,69.25ZM223.00,66.00 L223.25,67.75 L224.75,67.50 L224.00,67.00 L224.00,66.50 L223.50,66.00ZM225.75,65.75 L226.25,66.25 L226.25,65.75ZM225.25,64.25 L224.50,64.50 L224.50,65.00 L225.00,65.00ZM239.00,60.25 L239.00,60.50 L239.75,60.50 L239.75,60.00 L239.25,60.00ZM229.25,58.00 L229.25,58.75 L229.50,58.75 L229.75,58.25ZM226.75,58.25 L226.75,59.50 L226.25,60.00 L225.50,60.25 L225.00,60.75 L224.50,60.75 L224.00,61.25 L224.00,62.00 L224.25,62.50 L224.50,62.50 L225.00,62.00 L225.00,61.50 L225.25,61.25 L225.75,61.50 L226.50,60.75 L227.25,60.75 L227.50,61.00 L226.75,62.50 L227.50,63.25 L227.50,64.00 L227.00,64.50 L227.00,65.00 L228.25,66.50 L228.25,67.25 L226.50,69.00 L226.75,69.50 L227.00,69.25 L227.50,69.25 L227.75,69.50 L227.75,70.00 L227.25,70.50 L227.00,71.50 L226.50,72.25 L226.50,72.50 L227.25,72.75 L227.75,73.50 L226.75,74.25 L225.75,74.25 L225.50,74.75 L227.50,75.50 L228.50,74.75 L228.25,73.50 L229.00,73.00 L230.25,73.50 L231.00,74.25 L231.75,74.25 L232.00,74.00 L232.50,74.25 L232.50,74.75 L231.25,75.50 L231.50,76.50 L232.00,76.75 L233.00,75.50 L234.00,76.00 L234.25,75.75 L234.00,75.00 L233.50,74.50 L234.00,73.00 L234.50,72.50 L235.75,72.75 L235.75,72.50 L235.00,72.25 L234.25,71.50 L235.25,70.50 L236.75,71.50 L237.50,71.50 L237.75,71.25 L237.75,70.00 L238.00,69.75 L239.00,69.75 L239.00,68.00 L238.75,68.00 L237.25,70.00 L236.50,70.00 L236.25,69.75 L236.25,69.50 L237.25,68.75 L237.50,67.50 L238.75,66.50 L239.50,66.75 L240.50,66.00 L241.00,66.00 L240.25,65.25 L240.25,64.75 L239.75,64.75 L239.25,65.25 L239.00,65.00 L238.00,65.00 L237.75,64.75 L237.75,64.00 L237.00,63.00 L237.00,61.75 L237.25,61.50 L237.25,61.00 L236.50,59.75 L235.75,59.75 L235.00,60.25 L233.75,60.25 L232.50,59.25 L232.50,58.25 L232.00,57.75 L231.25,57.75 L229.75,60.00 L229.25,60.25 L228.00,60.25 L227.25,59.50 L227.50,58.25ZM234.50,57.25 L235.00,58.00 L235.50,58.00 L235.50,57.50Z" fill="#2b48c8"/><path d="M230.00,84.25 L227.00,85.75 L225.25,87.75 L224.25,90.25 L224.25,93.50 L225.25,96.00 L227.00,98.00 L230.00,99.50 L233.25,99.50 L233.50,99.25 L234.75,99.00 L236.00,98.25 L238.25,95.75 L238.75,94.75 L239.00,92.75 L239.25,92.50 L239.00,90.00 L238.75,89.75 L238.75,89.00 L237.75,87.25 L235.25,85.00 L233.25,84.25ZM230.75,61.00 L229.50,61.50 L228.50,62.25 L227.50,63.50 L226.75,65.00 L226.50,68.00 L227.50,70.75 L229.25,72.50 L231.25,73.25 L232.75,73.25 L233.00,73.00 L234.25,72.75 L236.25,71.00 L237.25,68.75 L237.50,66.75 L237.25,66.50 L237.25,65.25 L236.50,63.50 L234.75,61.75 L233.00,61.00Z" fill="#2aa2e0"/><path d="M230.25,85.25 L230.00,85.50 L228.75,85.75 L228.00,86.25 L226.25,88.00 L225.25,90.25 L225.25,93.50 L226.25,95.75 L228.75,98.00 L229.25,98.00 L230.25,98.50 L233.25,98.50 L235.00,97.75 L236.75,96.25 L238.00,93.75 L238.00,93.00 L238.25,92.75 L238.25,91.00 L237.25,88.25 L235.75,86.50 L233.25,85.25ZM231.00,62.25 L229.50,63.00 L228.50,64.00 L227.75,65.75 L227.75,68.50 L228.25,69.75 L229.00,70.75 L230.00,71.50 L231.25,71.75 L231.50,72.00 L232.50,72.00 L232.75,71.75 L234.00,71.50 L235.50,70.00 L236.25,68.25 L236.25,66.00 L236.00,65.75 L235.75,64.50 L234.50,63.00 L233.00,62.25Z" fill="#3cc0b4"/><path d="M230.75,86.00 L228.75,86.75 L227.75,87.50 L226.75,88.75 L226.00,90.75 L226.00,93.00 L226.75,95.00 L227.50,96.00 L228.75,97.00 L230.75,97.75 L232.50,97.75 L235.00,96.75 L236.75,94.75 L236.75,94.25 L237.25,93.50 L237.25,90.25 L236.25,88.25 L235.00,87.00 L232.50,86.00ZM231.00,63.50 L229.75,64.25 L228.75,66.00 L228.75,68.00 L229.25,69.25 L230.25,70.25 L231.25,70.75 L232.75,70.75 L233.75,70.25 L234.50,69.50 L235.25,67.75 L235.25,66.25 L234.75,65.00 L233.50,63.75 L233.00,63.50Z" fill="#6ccc5a"/><path d="M231.00,87.50 L229.25,88.25 L227.75,90.00 L227.75,90.50 L227.50,90.75 L227.50,93.00 L228.25,94.50 L229.25,95.50 L231.00,96.25 L232.50,96.25 L233.75,95.75 L234.75,95.00 L235.75,93.25 L235.75,92.25 L236.00,91.75 L235.75,91.50 L235.75,90.50 L234.50,88.50 L232.50,87.50ZM231.50,66.25 L231.25,66.50 L231.25,67.50 L231.75,68.00 L232.25,68.00 L232.75,67.50 L232.75,66.50 L232.50,66.25Z" fill="#b0d83c"/><path d="M231.25,88.50 L230.00,89.00 L229.00,90.00 L228.50,91.00 L228.50,92.75 L229.00,93.75 L230.00,94.75 L231.25,95.25 L232.00,95.25 L233.75,94.50 L234.25,94.00 L234.75,93.00 L234.75,90.75 L233.75,89.25 L232.00,88.50Z" fill="#e8e02a"/><path d="M230.75,89.50 L229.75,90.25 L229.25,91.25 L229.25,92.50 L230.25,94.00 L230.75,94.25 L232.50,94.25 L233.00,94.00 L234.00,92.75 L234.00,91.00 L233.75,90.50 L232.50,89.50Z" fill="#f4a224"/><path d="M231.25,90.25 L230.25,91.00 L230.00,92.00 L230.25,92.25 L230.25,92.75 L230.75,93.25 L232.00,93.50 L233.00,92.75 L233.25,91.50 L232.50,90.50Z" fill="#e6261a"/></g><rect x="20.4" y="34.5" width="81.1" height="80.5" fill="none" stroke="#222" stroke-width="1.15" /><rect x="115.7" y="34.5" width="80.8" height="80.5" fill="none" stroke="#222" stroke-width="1.15" /><rect x="210.5" y="34.5" width="80.69999999999999" height="80.5" fill="none" stroke="#222" stroke-width="1.15" /><line x1="18.799999999999997" y1="43.3" x2="20.4" y2="43.3" stroke="#222" stroke-width="0.7" /><line x1="18.799999999999997" y1="57.9" x2="20.4" y2="57.9" stroke="#222" stroke-width="0.7" /><line x1="18.799999999999997" y1="76.5" x2="20.4" y2="76.5" stroke="#222" stroke-width="0.7" /><line x1="18.799999999999997" y1="95" x2="20.4" y2="95" stroke="#222" stroke-width="0.7" /><line x1="18.799999999999997" y1="108" x2="20.4" y2="108" stroke="#222" stroke-width="0.7" /><line x1="32.4" y1="115" x2="32.4" y2="116.6" stroke="#222" stroke-width="0.7" /><line x1="45.4" y1="115" x2="45.4" y2="116.6" stroke="#222" stroke-width="0.7" /><line x1="60.4" y1="115" x2="60.4" y2="116.6" stroke="#222" stroke-width="0.7" /><line x1="78.4" y1="115" x2="78.4" y2="116.6" stroke="#222" stroke-width="0.7" /><line x1="90.4" y1="115" x2="90.4" y2="116.6" stroke="#222" stroke-width="0.7" /><line x1="114.10000000000001" y1="43.3" x2="115.7" y2="43.3" stroke="#222" stroke-width="0.7" /><line x1="114.10000000000001" y1="57.9" x2="115.7" y2="57.9" stroke="#222" stroke-width="0.7" /><line x1="114.10000000000001" y1="76.5" x2="115.7" y2="76.5" stroke="#222" stroke-width="0.7" /><line x1="114.10000000000001" y1="95" x2="115.7" y2="95" stroke="#222" stroke-width="0.7" /><line x1="114.10000000000001" y1="108" x2="115.7" y2="108" stroke="#222" stroke-width="0.7" /><line x1="127.7" y1="115" x2="127.7" y2="116.6" stroke="#222" stroke-width="0.7" /><line x1="140.7" y1="115" x2="140.7" y2="116.6" stroke="#222" stroke-width="0.7" /><line x1="155.7" y1="115" x2="155.7" y2="116.6" stroke="#222" stroke-width="0.7" /><line x1="173.7" y1="115" x2="173.7" y2="116.6" stroke="#222" stroke-width="0.7" /><line x1="185.7" y1="115" x2="185.7" y2="116.6" stroke="#222" stroke-width="0.7" /><line x1="208.9" y1="43.3" x2="210.5" y2="43.3" stroke="#222" stroke-width="0.7" /><line x1="208.9" y1="57.9" x2="210.5" y2="57.9" stroke="#222" stroke-width="0.7" /><line x1="208.9" y1="76.5" x2="210.5" y2="76.5" stroke="#222" stroke-width="0.7" /><line x1="208.9" y1="95" x2="210.5" y2="95" stroke="#222" stroke-width="0.7" /><line x1="208.9" y1="108" x2="210.5" y2="108" stroke="#222" stroke-width="0.7" /><line x1="222.5" y1="115" x2="222.5" y2="116.6" stroke="#222" stroke-width="0.7" /><line x1="235.5" y1="115" x2="235.5" y2="116.6" stroke="#222" stroke-width="0.7" /><line x1="250.5" y1="115" x2="250.5" y2="116.6" stroke="#222" stroke-width="0.7" /><line x1="268.5" y1="115" x2="268.5" y2="116.6" stroke="#222" stroke-width="0.7" /><line x1="280.5" y1="115" x2="280.5" y2="116.6" stroke="#222" stroke-width="0.7" /><rect x="51.5" y="36.8" width="38.9" height="48.8" fill="none" stroke="#222" stroke-width="0.9" /><rect x="150.7" y="48.4" width="33.8" height="29.7" fill="none" stroke="#222" stroke-width="0.9" /><rect x="244.7" y="48.7" width="34.7" height="29.7" fill="none" stroke="#222" stroke-width="0.9" /><text x="71" y="95" font-size="8" text-anchor="middle" font-weight="normal" fill="#222" >57.8</text><text x="175" y="45.5" font-size="8" text-anchor="middle" font-weight="normal" fill="#222" >17.8</text><text x="269" y="45.3" font-size="8" text-anchor="middle" font-weight="normal" fill="#222" >0.11</text><line x1="90.4" y1="49.4" x2="104.5" y2="49.4" stroke="#444" stroke-width="0.9" stroke-dasharray="2.2,1.8"/><path d="M103.5,47.4 L107.3,49.4 L103.5,51.4 Z" fill="#777"/><line x1="90.4" y1="82.4" x2="199.5" y2="82.4" stroke="#444" stroke-width="0.9" stroke-dasharray="2.2,1.8"/><path d="M198.3,80.4 L202.1,82.4 L198.3,84.4 Z" fill="#777"/><line x1="11.5" y1="38.6" x2="11.5" y2="97.5" stroke="#222" stroke-width="1.15" /><path d="M9.3,39.6 L11.5,35.2 L13.7,39.6 Z" fill="#222"/><text transform="translate(14.2 114.9) rotate(-90) scale(0.6489 1)" font-size="8.8" text-anchor="start" fill="#222" font-weight="normal" stroke="#222" stroke-width="0.18"><tspan>CD45</tspan></text><line x1="106.6" y1="38.8" x2="106.6" y2="101.5" stroke="#222" stroke-width="1.15" /><path d="M104.39999999999999,39.8 L106.6,35.4 L108.8,39.8 Z" fill="#222"/><text transform="translate(109.5 115) rotate(-90) scale(0.6362 1)" font-size="8.8" text-anchor="start" fill="#222" font-weight="normal" stroke="#222" stroke-width="0.18"><tspan>CD8</tspan></text><line x1="201.8" y1="38.8" x2="201.8" y2="101.5" stroke="#222" stroke-width="1.15" /><path d="M199.60000000000002,39.8 L201.8,35.4 L204.0,39.8 Z" fill="#222"/><text transform="translate(205.5 114.6) rotate(-90) scale(0.6021 1)" font-size="8.8" text-anchor="start" fill="#222" font-weight="normal" stroke="#222" stroke-width="0.18"><tspan>CD8</tspan></text><text transform="translate(21.2 127.7) scale(0.6078 1)" font-size="8.8" text-anchor="start" fill="#222" font-weight="normal" stroke="#222" stroke-width="0.18"><tspan>CD3</tspan></text><line x1="35" y1="125.1" x2="97.2" y2="125.1" stroke="#222" stroke-width="1.15" /><path d="M96.2,123.19999999999999 L101.2,125.1 L96.2,127.0 Z" fill="#222"/><text transform="translate(115.5 127.7) scale(0.6697 1)" font-size="8.8" text-anchor="start" fill="#222" font-weight="normal" stroke="#222" stroke-width="0.18"><tspan>CAR19</tspan></text><line x1="136" y1="125.1" x2="192.3" y2="125.1" stroke="#222" stroke-width="1.15" /><path d="M191.3,123.19999999999999 L196.3,125.1 L191.3,127.0 Z" fill="#222"/><text transform="translate(210 127.7) scale(0.6451 1)" font-size="8.8" text-anchor="start" fill="#222" font-weight="normal" stroke="#222" stroke-width="0.18"><tspan>CAR19</tspan></text><line x1="230" y1="125.1" x2="287.2" y2="125.1" stroke="#222" stroke-width="1.15" /><path d="M286.2,123.19999999999999 L291.2,125.1 L286.2,127.0 Z" fill="#222"/><text x="306.2" y="16.4" font-size="10.5" text-anchor="start" font-weight="bold" fill="#231f20" style="stroke-width:0.45px">B</text><line x1="336.6" y1="31.7" x2="336.6" y2="115.2" stroke="#222" stroke-width="1" /><line x1="336.1" y1="114.7" x2="393.5" y2="114.7" stroke="#222" stroke-width="1" /><line x1="333.70000000000005" y1="55.9" x2="336.6" y2="55.9" stroke="#222" stroke-width="0.9" /><text transform="translate(331.0 58.5) scale(1.0488 1)" font-size="7.2" text-anchor="end" fill="#222" font-weight="normal" stroke="#222" stroke-width="0.18"><tspan>20</tspan></text><line x1="333.70000000000005" y1="84.6" x2="336.6" y2="84.6" stroke="#222" stroke-width="0.9" /><text transform="translate(331.0 87.19999999999999) scale(1.0488 1)" font-size="7.2" text-anchor="end" fill="#222" font-weight="normal" stroke="#222" stroke-width="0.18"><tspan>10</tspan></text><line x1="333.70000000000005" y1="113.3" x2="336.6" y2="113.3" stroke="#222" stroke-width="0.9" /><text transform="translate(331.0 115.89999999999999) scale(1.0488 1)" font-size="7.2" text-anchor="end" fill="#222" font-weight="normal" stroke="#222" stroke-width="0.18"><tspan>0</tspan></text><line x1="352.2" y1="114.7" x2="352.2" y2="117.5" stroke="#222" stroke-width="0.9" /><line x1="378" y1="114.7" x2="378" y2="117.5" stroke="#222" stroke-width="0.9" /><line x1="352.2" y1="76" x2="352.2" y2="83.9" stroke="#163d6e" stroke-width="0.9" /><line x1="352.2" y1="107.5" x2="352.2" y2="111" stroke="#163d6e" stroke-width="0.9" /><rect x="342.2" y="83.9" width="19.600000000000023" height="23.599999999999994" fill="#1d4f8c" stroke="#163d6e" stroke-width="0.7" /><line x1="342.2" y1="103.4" x2="361.8" y2="103.4" stroke="#0e2c52" stroke-width="1.3" /><line x1="378" y1="77.2" x2="378" y2="85.2" stroke="#9a0c22" stroke-width="0.9" /><line x1="378" y1="105.2" x2="378" y2="110.6" stroke="#9a0c22" stroke-width="0.9" /><rect x="368" y="85.2" width="19.80000000000001" height="20.0" fill="#c8102e" stroke="#9a0c22" stroke-width="0.7" /><line x1="368" y1="92.8" x2="387.8" y2="92.8" stroke="#6d0618" stroke-width="1.3" /><g fill="#111"><circle cx="356" cy="48.7" r="0.85"/><circle cx="343.4" cy="75.9" r="0.85"/><circle cx="347" cy="78.6" r="0.85"/><circle cx="354.6" cy="81.8" r="0.85"/><circle cx="352" cy="88" r="0.85"/><circle cx="360" cy="103" r="0.85"/><circle cx="345" cy="105" r="0.85"/><circle cx="349" cy="109" r="0.85"/><circle cx="356" cy="110.8" r="0.85"/><circle cx="357" cy="107" r="0.85"/><circle cx="353" cy="104" r="0.85"/><circle cx="368.6" cy="77" r="0.85"/><circle cx="385" cy="78.6" r="0.85"/><circle cx="372" cy="86" r="0.85"/><circle cx="376" cy="91" r="0.85"/><circle cx="371" cy="98" r="0.85"/><circle cx="384" cy="99" r="0.85"/><circle cx="374" cy="107" r="0.85"/><circle cx="371" cy="106" r="0.85"/><circle cx="380" cy="110.5" r="0.85"/></g><text x="352.2" y="127.1" font-size="7.6" text-anchor="middle" font-weight="normal" fill="#222" >CR</text><text x="378" y="127.1" font-size="7.6" text-anchor="middle" font-weight="normal" fill="#222" >PD</text><text transform="translate(316.5 92.5) rotate(-90) scale(0.6784 1)" font-size="8.4" text-anchor="start" fill="#222" font-weight="normal" stroke="#222" stroke-width="0.18"><tspan>% CAR19</tspan><tspan font-size="5.04" dy="-2.77">+</tspan><tspan dy="2.77"> CD8</tspan><tspan font-size="5.04" dy="-2.77">+</tspan></text><line x1="438.3" y1="32" x2="438.3" y2="114.9" stroke="#222" stroke-width="1" /><line x1="437.8" y1="114.4" x2="494.8" y2="114.4" stroke="#222" stroke-width="1" /><line x1="435.40000000000003" y1="35.6" x2="438.3" y2="35.6" stroke="#222" stroke-width="0.9" /><text transform="translate(432.7 38.2) scale(1.0488 1)" font-size="7.2" text-anchor="end" fill="#222" font-weight="normal" stroke="#222" stroke-width="0.18"><tspan>100</tspan></text><line x1="435.40000000000003" y1="74.4" x2="438.3" y2="74.4" stroke="#222" stroke-width="0.9" /><text transform="translate(432.7 77.0) scale(1.0488 1)" font-size="7.2" text-anchor="end" fill="#222" font-weight="normal" stroke="#222" stroke-width="0.18"><tspan>50</tspan></text><line x1="435.40000000000003" y1="112.9" x2="438.3" y2="112.9" stroke="#222" stroke-width="0.9" /><text transform="translate(432.7 115.5) scale(1.0488 1)" font-size="7.2" text-anchor="end" fill="#222" font-weight="normal" stroke="#222" stroke-width="0.18"><tspan>0</tspan></text><line x1="453.5" y1="114.4" x2="453.5" y2="117.2" stroke="#222" stroke-width="0.9" /><line x1="479.3" y1="114.4" x2="479.3" y2="117.2" stroke="#222" stroke-width="0.9" /><line x1="453.5" y1="80.6" x2="453.5" y2="91" stroke="#163d6e" stroke-width="0.9" /><line x1="453.5" y1="108.2" x2="453.5" y2="112.3" stroke="#163d6e" stroke-width="0.9" /><rect x="443.8" y="91" width="19.399999999999977" height="17.200000000000003" fill="#1d4f8c" stroke="#163d6e" stroke-width="0.7" /><line x1="443.8" y1="105.4" x2="463.2" y2="105.4" stroke="#0e2c52" stroke-width="1.3" /><line x1="479.3" y1="96" x2="479.3" y2="98.7" stroke="#9a0c22" stroke-width="0.9" /><line x1="479.3" y1="105.6" x2="479.3" y2="110" stroke="#9a0c22" stroke-width="0.9" /><rect x="469.3" y="98.7" width="20.19999999999999" height="6.8999999999999915" fill="#c8102e" stroke="#9a0c22" stroke-width="0.7" /><line x1="469.3" y1="102.4" x2="489.5" y2="102.4" stroke="#6d0618" stroke-width="1.3" /><g fill="#111"><circle cx="447.7" cy="53.1" r="0.85"/><circle cx="455.4" cy="57" r="0.85"/><circle cx="489.7" cy="48.2" r="0.85"/><circle cx="487.5" cy="76" r="0.85"/><circle cx="452" cy="88" r="0.85"/><circle cx="454" cy="94" r="0.85"/><circle cx="445" cy="101" r="0.85"/><circle cx="449" cy="103" r="0.85"/><circle cx="457" cy="110" r="0.85"/><circle cx="441" cy="111" r="0.85"/><circle cx="444" cy="113" r="0.85"/><circle cx="460" cy="113" r="0.85"/><circle cx="462" cy="111" r="0.85"/><circle cx="467" cy="111" r="0.85"/><circle cx="470" cy="104.5" r="0.85"/><circle cx="474" cy="99" r="0.85"/><circle cx="478" cy="102" r="0.85"/><circle cx="485" cy="103" r="0.85"/><circle cx="472" cy="113" r="0.85"/><circle cx="488" cy="110" r="0.85"/><circle cx="480" cy="100.5" r="0.85"/></g><text x="453.5" y="127.2" font-size="7.6" text-anchor="middle" font-weight="normal" fill="#222" >CR</text><text x="479.3" y="127.2" font-size="7.6" text-anchor="middle" font-weight="normal" fill="#222" >PD</text><text transform="translate(414.5 110.7) rotate(-90) scale(0.8335 1)" font-size="8.0" text-anchor="start" fill="#222" font-weight="normal" stroke="#222" stroke-width="0.18"><tspan># of CAR19</tspan><tspan font-size="4.80" dy="-2.64">+</tspan><tspan dy="2.64"> CD8</tspan><tspan font-size="4.80" dy="-2.64">+</tspan><tspan dy="2.64"> cells/µl</tspan></text><path d="M30.00,215.00 C30.00,207.50 31.67,204.17 33.00,200.00 C34.33,195.83 36.50,189.17 38.00,190.00 C39.50,190.83 41.67,198.33 42.00,205.00 C42.33,211.67 40.67,222.50 40.00,230.00 C39.33,237.50 39.17,247.50 38.00,250.00 C36.83,252.50 34.33,250.83 33.00,245.00 C31.67,239.17 30.00,222.50 30.00,215.00Z" fill="#dcdaf0" opacity="0.385" filter="url(#b10)"/><path d="M88.00,183.00 C88.83,181.33 94.33,186.33 97.00,190.00 C99.67,193.67 102.17,200.00 104.00,205.00 C105.83,210.00 108.67,218.33 108.00,220.00 C107.33,221.67 102.67,218.33 100.00,215.00 C97.33,211.67 94.00,205.33 92.00,200.00 C90.00,194.67 87.17,184.67 88.00,183.00Z" fill="#dcdaf0" opacity="0.33" filter="url(#b10)"/><path d="M50.00,248.00 C50.00,245.00 57.83,240.00 62.00,238.00 C66.17,236.00 71.67,234.83 75.00,236.00 C78.33,237.17 81.50,241.67 82.00,245.00 C82.50,248.33 81.33,254.17 78.00,256.00 C74.67,257.83 66.67,257.33 62.00,256.00 C57.33,254.67 50.00,251.00 50.00,248.00Z" fill="#dcdaf0" opacity="0.385" filter="url(#b10)"/><g fill="#9a96cc" opacity="0.3"><rect x="34.6" y="224.6" width="0.7" height="0.7"/><rect x="42.8" y="250.4" width="0.7" height="0.7"/><rect x="36.7" y="222.7" width="0.7" height="0.7"/><rect x="30.2" y="219.5" width="0.7" height="0.7"/><rect x="35.3" y="212.9" width="0.7" height="0.7"/><rect x="42.9" y="194.7" width="0.7" height="0.7"/><rect x="35.4" y="231.2" width="0.7" height="0.7"/><rect x="37.7" y="251.7" width="0.7" height="0.7"/><rect x="30.3" y="212.8" width="0.7" height="0.7"/><rect x="36.3" y="226.8" width="0.7" height="0.7"/><rect x="34.4" y="212.5" width="0.7" height="0.7"/><rect x="40.2" y="207.9" width="0.7" height="0.7"/><rect x="33.6" y="247.7" width="0.7" height="0.7"/><rect x="42.9" y="238.7" width="0.7" height="0.7"/><rect x="32.5" y="211.1" width="0.7" height="0.7"/><rect x="32.3" y="206.6" width="0.7" height="0.7"/><rect x="34.3" y="245.0" width="0.7" height="0.7"/><rect x="36.8" y="212.6" width="0.7" height="0.7"/><rect x="32.8" y="205.9" width="0.7" height="0.7"/><rect x="40.7" y="192.4" width="0.7" height="0.7"/><rect x="37.0" y="201.6" width="0.7" height="0.7"/><rect x="31.7" y="200.8" width="0.7" height="0.7"/><rect x="39.8" y="223.3" width="0.7" height="0.7"/><rect x="46.9" y="208.0" width="0.7" height="0.7"/><rect x="31.5" y="234.0" width="0.7" height="0.7"/><rect x="38.1" y="220.0" width="0.7" height="0.7"/><rect x="27.8" y="247.6" width="0.7" height="0.7"/><rect x="38.1" y="230.8" width="0.7" height="0.7"/><rect x="33.5" y="234.7" width="0.7" height="0.7"/><rect x="33.6" y="225.0" width="0.7" height="0.7"/><rect x="35.1" y="244.4" width="0.7" height="0.7"/><rect x="33.9" y="218.8" width="0.7" height="0.7"/><rect x="40.2" y="227.9" width="0.7" height="0.7"/><rect x="35.7" y="220.4" width="0.7" height="0.7"/><rect x="39.6" y="213.8" width="0.7" height="0.7"/><rect x="37.7" y="256.7" width="0.7" height="0.7"/><rect x="37.4" y="211.6" width="0.7" height="0.7"/><rect x="31.0" y="226.5" width="0.7" height="0.7"/><rect x="30.9" y="198.6" width="0.7" height="0.7"/><rect x="32.7" y="206.5" width="0.7" height="0.7"/><rect x="39.3" y="200.8" width="0.7" height="0.7"/><rect x="42.1" y="212.0" width="0.7" height="0.7"/><rect x="36.2" y="234.7" width="0.7" height="0.7"/><rect x="36.6" y="235.5" width="0.7" height="0.7"/><rect x="31.8" y="187.5" width="0.7" height="0.7"/><rect x="34.9" y="197.0" width="0.7" height="0.7"/><rect x="33.4" y="239.0" width="0.7" height="0.7"/><rect x="34.9" y="214.3" width="0.7" height="0.7"/><rect x="31.2" y="219.1" width="0.7" height="0.7"/><rect x="35.0" y="198.4" width="0.7" height="0.7"/><rect x="36.9" y="206.5" width="0.7" height="0.7"/><rect x="36.6" y="216.5" width="0.7" height="0.7"/><rect x="39.6" y="237.4" width="0.7" height="0.7"/><rect x="35.7" y="222.0" width="0.7" height="0.7"/><rect x="37.4" y="245.9" width="0.7" height="0.7"/><rect x="40.0" y="226.4" width="0.7" height="0.7"/><rect x="37.0" y="249.3" width="0.7" height="0.7"/><rect x="29.2" y="232.8" width="0.7" height="0.7"/><rect x="32.2" y="245.9" width="0.7" height="0.7"/><rect x="33.8" y="222.5" width="0.7" height="0.7"/><rect x="31.5" y="224.6" width="0.7" height="0.7"/><rect x="39.0" y="251.2" width="0.7" height="0.7"/><rect x="30.8" y="217.5" width="0.7" height="0.7"/><rect x="51.5" y="239.7" width="0.7" height="0.7"/><rect x="35.9" y="233.1" width="0.7" height="0.7"/><rect x="25.3" y="250.7" width="0.7" height="0.7"/><rect x="36.6" y="201.9" width="0.7" height="0.7"/><rect x="40.6" y="214.8" width="0.7" height="0.7"/><rect x="31.9" y="233.3" width="0.7" height="0.7"/><rect x="37.6" y="217.6" width="0.7" height="0.7"/><rect x="35.7" y="203.5" width="0.7" height="0.7"/><rect x="30.2" y="239.4" width="0.7" height="0.7"/><rect x="41.3" y="231.9" width="0.7" height="0.7"/><rect x="37.5" y="218.7" width="0.7" height="0.7"/><rect x="35.5" y="210.0" width="0.7" height="0.7"/><rect x="43.0" y="215.9" width="0.7" height="0.7"/><rect x="37.6" y="225.0" width="0.7" height="0.7"/><rect x="30.4" y="256.0" width="0.7" height="0.7"/><rect x="34.5" y="212.7" width="0.7" height="0.7"/><rect x="36.5" y="210.6" width="0.7" height="0.7"/><rect x="36.1" y="209.6" width="0.7" height="0.7"/><rect x="38.3" y="225.9" width="0.7" height="0.7"/><rect x="30.5" y="241.6" width="0.7" height="0.7"/><rect x="36.8" y="207.4" width="0.7" height="0.7"/><rect x="37.4" y="231.9" width="0.7" height="0.7"/><rect x="43.5" y="211.2" width="0.7" height="0.7"/><rect x="39.4" y="223.6" width="0.7" height="0.7"/><rect x="38.5" y="220.9" width="0.7" height="0.7"/><rect x="35.8" y="233.1" width="0.7" height="0.7"/><rect x="31.3" y="191.4" width="0.7" height="0.7"/><rect x="36.0" y="218.0" width="0.7" height="0.7"/><rect x="36.4" y="235.5" width="0.7" height="0.7"/><rect x="35.2" y="244.4" width="0.7" height="0.7"/><rect x="35.9" y="227.1" width="0.7" height="0.7"/><rect x="39.4" y="234.8" width="0.7" height="0.7"/><rect x="35.7" y="227.4" width="0.7" height="0.7"/><rect x="33.1" y="215.6" width="0.7" height="0.7"/><rect x="36.5" y="238.5" width="0.7" height="0.7"/><rect x="34.4" y="239.0" width="0.7" height="0.7"/><rect x="43.9" y="260.0" width="0.7" height="0.7"/><rect x="36.3" y="242.5" width="0.7" height="0.7"/><rect x="38.6" y="238.3" width="0.7" height="0.7"/><rect x="39.5" y="234.1" width="0.7" height="0.7"/><rect x="39.5" y="228.9" width="0.7" height="0.7"/><rect x="35.2" y="229.9" width="0.7" height="0.7"/><rect x="38.2" y="245.5" width="0.7" height="0.7"/><rect x="37.7" y="237.8" width="0.7" height="0.7"/><rect x="41.9" y="210.9" width="0.7" height="0.7"/><rect x="35.2" y="234.5" width="0.7" height="0.7"/><rect x="36.3" y="209.6" width="0.7" height="0.7"/><rect x="40.2" y="224.7" width="0.7" height="0.7"/><rect x="32.2" y="256.2" width="0.7" height="0.7"/><rect x="31.1" y="225.6" width="0.7" height="0.7"/><rect x="33.5" y="227.6" width="0.7" height="0.7"/><rect x="38.5" y="212.7" width="0.7" height="0.7"/><rect x="35.8" y="223.7" width="0.7" height="0.7"/><rect x="32.2" y="244.5" width="0.7" height="0.7"/><rect x="36.9" y="221.1" width="0.7" height="0.7"/><rect x="33.5" y="220.4" width="0.7" height="0.7"/><rect x="36.8" y="218.3" width="0.7" height="0.7"/></g><g fill="#9a96cc" opacity="0.3"><rect x="103.5" y="179.9" width="0.7" height="0.7"/><rect x="86.5" y="202.9" width="0.7" height="0.7"/><rect x="88.0" y="204.8" width="0.7" height="0.7"/><rect x="93.9" y="211.3" width="0.7" height="0.7"/><rect x="99.3" y="218.6" width="0.7" height="0.7"/><rect x="101.8" y="218.0" width="0.7" height="0.7"/><rect x="99.9" y="216.1" width="0.7" height="0.7"/><rect x="99.7" y="199.5" width="0.7" height="0.7"/><rect x="91.0" y="193.3" width="0.7" height="0.7"/><rect x="99.6" y="181.6" width="0.7" height="0.7"/><rect x="98.1" y="197.9" width="0.7" height="0.7"/><rect x="100.9" y="207.5" width="0.7" height="0.7"/><rect x="93.5" y="205.6" width="0.7" height="0.7"/><rect x="85.8" y="208.2" width="0.7" height="0.7"/><rect x="99.6" y="187.0" width="0.7" height="0.7"/><rect x="101.5" y="204.3" width="0.7" height="0.7"/><rect x="98.1" y="191.2" width="0.7" height="0.7"/><rect x="100.3" y="211.3" width="0.7" height="0.7"/><rect x="97.2" y="195.6" width="0.7" height="0.7"/><rect x="101.1" y="218.0" width="0.7" height="0.7"/><rect x="99.3" y="215.6" width="0.7" height="0.7"/><rect x="94.3" y="207.1" width="0.7" height="0.7"/><rect x="99.2" y="207.1" width="0.7" height="0.7"/><rect x="111.4" y="209.9" width="0.7" height="0.7"/><rect x="94.5" y="214.0" width="0.7" height="0.7"/><rect x="91.9" y="209.4" width="0.7" height="0.7"/><rect x="101.2" y="200.9" width="0.7" height="0.7"/><rect x="95.8" y="196.4" width="0.7" height="0.7"/><rect x="98.1" y="199.1" width="0.7" height="0.7"/><rect x="106.1" y="212.4" width="0.7" height="0.7"/><rect x="96.4" y="191.8" width="0.7" height="0.7"/><rect x="107.7" y="219.0" width="0.7" height="0.7"/><rect x="99.9" y="208.0" width="0.7" height="0.7"/><rect x="98.4" y="201.3" width="0.7" height="0.7"/><rect x="106.9" y="208.1" width="0.7" height="0.7"/><rect x="90.3" y="199.5" width="0.7" height="0.7"/><rect x="84.6" y="212.6" width="0.7" height="0.7"/><rect x="101.3" y="223.8" width="0.7" height="0.7"/><rect x="108.0" y="198.2" width="0.7" height="0.7"/><rect x="99.8" y="216.0" width="0.7" height="0.7"/><rect x="101.5" y="200.9" width="0.7" height="0.7"/><rect x="101.5" y="211.0" width="0.7" height="0.7"/><rect x="104.3" y="205.7" width="0.7" height="0.7"/><rect x="96.3" y="200.9" width="0.7" height="0.7"/><rect x="95.6" y="198.3" width="0.7" height="0.7"/><rect x="95.8" y="210.9" width="0.7" height="0.7"/><rect x="99.7" y="219.1" width="0.7" height="0.7"/><rect x="102.9" y="212.1" width="0.7" height="0.7"/><rect x="91.7" y="211.5" width="0.7" height="0.7"/><rect x="103.2" y="192.7" width="0.7" height="0.7"/><rect x="91.8" y="196.2" width="0.7" height="0.7"/><rect x="92.2" y="202.8" width="0.7" height="0.7"/><rect x="92.7" y="209.5" width="0.7" height="0.7"/><rect x="91.3" y="204.4" width="0.7" height="0.7"/><rect x="94.8" y="195.9" width="0.7" height="0.7"/><rect x="102.5" y="205.9" width="0.7" height="0.7"/><rect x="100.0" y="202.2" width="0.7" height="0.7"/><rect x="100.8" y="211.7" width="0.7" height="0.7"/><rect x="96.5" y="187.8" width="0.7" height="0.7"/><rect x="101.4" y="212.5" width="0.7" height="0.7"/><rect x="98.2" y="208.0" width="0.7" height="0.7"/><rect x="97.9" y="207.5" width="0.7" height="0.7"/><rect x="92.3" y="205.0" width="0.7" height="0.7"/><rect x="98.9" y="199.5" width="0.7" height="0.7"/><rect x="92.4" y="224.2" width="0.7" height="0.7"/><rect x="100.3" y="202.5" width="0.7" height="0.7"/><rect x="94.8" y="179.1" width="0.7" height="0.7"/><rect x="90.2" y="203.1" width="0.7" height="0.7"/><rect x="103.7" y="185.0" width="0.7" height="0.7"/><rect x="93.8" y="224.7" width="0.7" height="0.7"/><rect x="100.6" y="209.7" width="0.7" height="0.7"/><rect x="103.3" y="204.4" width="0.7" height="0.7"/><rect x="96.4" y="212.7" width="0.7" height="0.7"/><rect x="101.6" y="194.9" width="0.7" height="0.7"/><rect x="104.9" y="188.2" width="0.7" height="0.7"/><rect x="93.8" y="236.4" width="0.7" height="0.7"/><rect x="94.7" y="212.2" width="0.7" height="0.7"/><rect x="92.3" y="202.4" width="0.7" height="0.7"/><rect x="93.7" y="201.6" width="0.7" height="0.7"/><rect x="100.6" y="223.1" width="0.7" height="0.7"/></g><g fill="#9a96cc" opacity="0.3"><rect x="74.4" y="254.1" width="0.7" height="0.7"/><rect x="62.0" y="253.6" width="0.7" height="0.7"/><rect x="71.6" y="253.2" width="0.7" height="0.7"/><rect x="62.8" y="245.1" width="0.7" height="0.7"/><rect x="78.9" y="249.4" width="0.7" height="0.7"/><rect x="67.5" y="242.9" width="0.7" height="0.7"/><rect x="65.6" y="248.7" width="0.7" height="0.7"/><rect x="73.0" y="243.5" width="0.7" height="0.7"/><rect x="63.4" y="248.4" width="0.7" height="0.7"/><rect x="56.4" y="250.9" width="0.7" height="0.7"/><rect x="66.3" y="245.5" width="0.7" height="0.7"/><rect x="44.5" y="238.1" width="0.7" height="0.7"/><rect x="56.8" y="243.1" width="0.7" height="0.7"/><rect x="56.2" y="247.9" width="0.7" height="0.7"/><rect x="67.2" y="244.7" width="0.7" height="0.7"/><rect x="47.7" y="253.0" width="0.7" height="0.7"/><rect x="63.5" y="249.0" width="0.7" height="0.7"/><rect x="60.0" y="246.0" width="0.7" height="0.7"/><rect x="72.2" y="247.2" width="0.7" height="0.7"/><rect x="74.6" y="245.1" width="0.7" height="0.7"/><rect x="83.9" y="236.5" width="0.7" height="0.7"/><rect x="61.0" y="250.9" width="0.7" height="0.7"/><rect x="63.7" y="243.8" width="0.7" height="0.7"/><rect x="50.0" y="252.0" width="0.7" height="0.7"/><rect x="48.8" y="248.5" width="0.7" height="0.7"/><rect x="67.7" y="250.3" width="0.7" height="0.7"/><rect x="79.0" y="242.4" width="0.7" height="0.7"/><rect x="58.6" y="244.3" width="0.7" height="0.7"/><rect x="50.4" y="250.0" width="0.7" height="0.7"/><rect x="62.2" y="246.7" width="0.7" height="0.7"/><rect x="55.6" y="245.9" width="0.7" height="0.7"/><rect x="60.2" y="245.5" width="0.7" height="0.7"/><rect x="55.9" y="251.0" width="0.7" height="0.7"/><rect x="59.9" y="233.1" width="0.7" height="0.7"/><rect x="71.5" y="244.3" width="0.7" height="0.7"/><rect x="57.7" y="258.3" width="0.7" height="0.7"/><rect x="65.2" y="239.1" width="0.7" height="0.7"/><rect x="60.1" y="247.7" width="0.7" height="0.7"/><rect x="63.6" y="252.0" width="0.7" height="0.7"/><rect x="75.2" y="241.8" width="0.7" height="0.7"/><rect x="66.0" y="249.0" width="0.7" height="0.7"/><rect x="61.9" y="243.5" width="0.7" height="0.7"/><rect x="73.5" y="248.0" width="0.7" height="0.7"/><rect x="53.0" y="243.0" width="0.7" height="0.7"/><rect x="61.9" y="245.2" width="0.7" height="0.7"/><rect x="59.2" y="252.5" width="0.7" height="0.7"/><rect x="56.9" y="240.4" width="0.7" height="0.7"/><rect x="67.5" y="234.5" width="0.7" height="0.7"/><rect x="56.3" y="248.9" width="0.7" height="0.7"/><rect x="53.7" y="241.6" width="0.7" height="0.7"/><rect x="75.4" y="248.1" width="0.7" height="0.7"/><rect x="66.2" y="247.0" width="0.7" height="0.7"/><rect x="59.6" y="247.4" width="0.7" height="0.7"/><rect x="63.9" y="258.3" width="0.7" height="0.7"/><rect x="70.6" y="244.2" width="0.7" height="0.7"/><rect x="65.3" y="246.1" width="0.7" height="0.7"/><rect x="53.3" y="241.7" width="0.7" height="0.7"/><rect x="79.5" y="238.8" width="0.7" height="0.7"/><rect x="60.5" y="251.0" width="0.7" height="0.7"/><rect x="79.4" y="240.8" width="0.7" height="0.7"/><rect x="79.0" y="244.1" width="0.7" height="0.7"/><rect x="80.7" y="248.4" width="0.7" height="0.7"/><rect x="63.3" y="249.6" width="0.7" height="0.7"/><rect x="70.9" y="242.1" width="0.7" height="0.7"/><rect x="85.2" y="244.2" width="0.7" height="0.7"/><rect x="76.2" y="243.5" width="0.7" height="0.7"/><rect x="49.4" y="240.3" width="0.7" height="0.7"/><rect x="65.0" y="249.3" width="0.7" height="0.7"/><rect x="81.7" y="246.3" width="0.7" height="0.7"/><rect x="63.3" y="239.8" width="0.7" height="0.7"/><rect x="65.5" y="247.4" width="0.7" height="0.7"/><rect x="46.0" y="252.5" width="0.7" height="0.7"/><rect x="76.1" y="257.3" width="0.7" height="0.7"/><rect x="57.7" y="246.1" width="0.7" height="0.7"/><rect x="66.0" y="239.3" width="0.7" height="0.7"/><rect x="58.2" y="241.0" width="0.7" height="0.7"/><rect x="70.5" y="248.1" width="0.7" height="0.7"/><rect x="78.0" y="243.9" width="0.7" height="0.7"/><rect x="53.2" y="248.1" width="0.7" height="0.7"/><rect x="69.2" y="249.2" width="0.7" height="0.7"/><rect x="77.0" y="243.0" width="0.7" height="0.7"/><rect x="73.0" y="240.9" width="0.7" height="0.7"/><rect x="67.2" y="249.3" width="0.7" height="0.7"/><rect x="64.8" y="247.0" width="0.7" height="0.7"/><rect x="53.3" y="242.6" width="0.7" height="0.7"/><rect x="67.2" y="239.9" width="0.7" height="0.7"/><rect x="58.1" y="258.1" width="0.7" height="0.7"/><rect x="68.1" y="241.7" width="0.7" height="0.7"/><rect x="56.4" y="252.7" width="0.7" height="0.7"/><rect x="40.4" y="244.0" width="0.7" height="0.7"/><rect x="70.9" y="242.7" width="0.7" height="0.7"/><rect x="69.8" y="240.2" width="0.7" height="0.7"/><rect x="64.9" y="245.7" width="0.7" height="0.7"/><rect x="65.1" y="246.1" width="0.7" height="0.7"/><rect x="65.3" y="251.0" width="0.7" height="0.7"/><rect x="62.5" y="242.4" width="0.7" height="0.7"/><rect x="62.3" y="243.8" width="0.7" height="0.7"/><rect x="51.1" y="235.8" width="0.7" height="0.7"/><rect x="52.6" y="246.8" width="0.7" height="0.7"/><rect x="58.8" y="243.3" width="0.7" height="0.7"/><rect x="90.6" y="251.0" width="0.7" height="0.7"/><rect x="62.9" y="242.2" width="0.7" height="0.7"/><rect x="77.2" y="241.4" width="0.7" height="0.7"/><rect x="75.9" y="248.3" width="0.7" height="0.7"/><rect x="77.3" y="241.7" width="0.7" height="0.7"/><rect x="72.9" y="236.3" width="0.7" height="0.7"/><rect x="63.2" y="250.7" width="0.7" height="0.7"/><rect x="71.0" y="236.1" width="0.7" height="0.7"/><rect x="70.9" y="247.6" width="0.7" height="0.7"/><rect x="64.2" y="241.7" width="0.7" height="0.7"/><rect x="62.2" y="242.4" width="0.7" height="0.7"/><rect x="73.3" y="247.6" width="0.7" height="0.7"/><rect x="74.4" y="248.8" width="0.7" height="0.7"/><rect x="53.2" y="246.0" width="0.7" height="0.7"/><rect x="84.0" y="239.7" width="0.7" height="0.7"/><rect x="67.3" y="241.4" width="0.7" height="0.7"/><rect x="56.7" y="246.4" width="0.7" height="0.7"/><rect x="73.0" y="249.1" width="0.7" height="0.7"/><rect x="68.9" y="250.1" width="0.7" height="0.7"/><rect x="50.1" y="249.4" width="0.7" height="0.7"/></g><path d="M43.88,189.62 L42.88,190.62 L41.88,192.38 L41.88,193.38 L41.12,195.38 L41.12,196.62 L38.62,202.12 L37.88,205.38 L37.12,207.12 L37.12,208.62 L36.62,209.62 L36.62,211.38 L36.38,211.62 L36.38,213.38 L35.88,215.62 L35.62,221.62 L35.38,221.88 L35.38,230.62 L35.62,230.88 L35.62,234.38 L35.88,234.62 L36.12,239.12 L37.88,245.88 L38.62,247.62 L38.62,248.88 L39.88,252.12 L41.12,253.38 L42.12,253.12 L44.12,251.12 L47.62,245.38 L50.12,242.88 L59.12,235.88 L60.62,235.12 L63.62,232.62 L65.12,231.88 L66.38,230.62 L67.38,230.12 L70.38,227.12 L74.62,224.88 L75.88,224.88 L76.88,225.62 L77.12,226.88 L77.62,227.62 L77.62,231.38 L75.12,235.62 L74.88,238.62 L77.12,240.62 L78.38,241.12 L79.38,241.12 L80.12,241.62 L81.12,241.62 L83.12,243.38 L84.88,246.62 L85.38,248.38 L86.62,250.38 L87.38,252.88 L89.62,255.88 L90.38,256.12 L91.12,256.88 L92.38,257.12 L93.12,257.62 L96.12,257.62 L98.38,256.88 L99.88,255.38 L102.38,251.12 L104.38,246.88 L104.38,246.12 L105.62,242.62 L105.88,240.12 L106.12,239.88 L106.12,237.38 L106.38,237.12 L106.38,231.12 L106.12,230.88 L105.88,226.88 L104.88,223.88 L103.12,220.62 L97.62,215.12 L96.88,213.88 L96.12,211.38 L95.12,209.62 L94.38,206.62 L93.62,205.38 L93.12,202.88 L91.88,199.88 L91.88,199.12 L90.88,197.62 L90.12,195.62 L86.62,190.38 L81.88,185.62 L80.38,184.62 L78.12,182.38 L76.62,181.62 L74.38,179.88 L70.38,178.62 L68.38,178.62 L66.88,179.12 L64.88,180.38 L61.62,183.62 L58.12,185.38 L55.88,185.88 L53.38,187.12 L47.12,188.12Z" fill="#2f62ab" fill-rule="evenodd"/><path d="M66.88,179.12 L64.88,180.38 L61.62,183.62 L58.38,185.12 L56.62,187.12 L54.12,189.12 L45.88,191.62 L44.12,193.38 L43.38,195.62 L43.12,199.88 L41.62,204.38 L40.12,210.38 L39.62,215.88 L39.38,216.12 L39.38,218.38 L39.12,218.62 L39.12,222.12 L38.88,222.38 L38.88,230.12 L39.12,230.38 L39.12,233.88 L39.38,234.12 L39.62,238.62 L42.12,247.38 L44.62,243.38 L48.12,239.88 L54.12,235.12 L58.38,232.38 L58.88,232.38 L60.38,231.38 L60.88,231.38 L61.62,230.62 L63.88,229.62 L69.38,225.62 L72.88,223.88 L74.62,223.38 L75.88,223.62 L77.12,224.38 L77.88,225.12 L78.62,226.88 L78.62,232.38 L78.12,233.38 L77.12,237.62 L80.62,241.62 L81.62,241.88 L83.12,243.38 L84.88,246.62 L85.38,248.38 L86.62,250.38 L87.12,252.38 L88.38,254.38 L89.62,255.88 L90.38,256.12 L91.12,256.88 L92.38,257.12 L93.12,257.62 L96.12,257.62 L97.88,257.12 L99.88,255.38 L102.38,251.12 L104.38,246.88 L104.38,246.12 L105.88,241.62 L105.88,240.12 L106.12,239.88 L105.88,231.62 L106.12,231.38 L105.88,231.12 L105.62,227.12 L104.88,224.88 L102.62,221.12 L99.62,217.62 L98.62,216.88 L96.62,214.12 L94.38,208.12 L94.12,206.38 L93.38,204.62 L92.62,201.38 L91.88,199.88 L91.88,199.12 L90.88,197.62 L90.12,195.62 L86.62,190.38 L81.88,185.62 L80.38,184.62 L79.38,183.38 L74.38,179.88 L70.38,178.62 L68.38,178.62Z" fill="#4a89c5" fill-rule="evenodd"/><path d="M66.88,179.12 L64.88,180.38 L62.12,183.12 L59.88,187.88 L58.12,189.62 L55.62,190.88 L49.88,192.62 L47.62,193.88 L47.12,193.88 L46.38,195.12 L46.12,198.38 L46.62,199.88 L46.62,202.12 L44.12,209.62 L43.62,214.12 L43.38,214.38 L43.38,218.12 L43.12,218.38 L42.88,225.12 L43.12,225.38 L43.12,230.62 L43.38,230.88 L43.38,234.38 L43.62,234.62 L43.88,238.12 L47.88,234.62 L52.62,231.38 L54.88,230.38 L58.62,229.38 L62.12,227.62 L68.12,222.88 L71.88,220.62 L74.62,220.62 L78.12,222.62 L80.12,224.88 L80.38,225.62 L80.38,232.88 L79.88,234.62 L79.88,237.12 L82.38,240.88 L83.38,243.38 L83.38,244.12 L84.12,245.12 L85.38,248.38 L86.62,250.38 L87.38,252.88 L89.38,255.62 L91.62,257.12 L92.38,257.12 L93.12,257.62 L95.88,257.62 L97.38,257.12 L99.62,255.62 L101.12,253.38 L103.62,248.38 L104.88,244.62 L105.12,238.88 L104.38,235.62 L104.62,228.38 L103.88,225.88 L101.88,222.88 L95.88,217.38 L94.38,215.12 L92.62,210.62 L89.88,199.62 L87.12,193.88 L84.62,190.12 L81.38,186.38 L77.88,183.12 L73.88,180.38 L69.62,178.88Z" fill="#8bbfde" fill-rule="evenodd"/><path d="M66.38,180.62 L65.38,181.12 L63.38,183.38 L61.38,189.62 L60.12,191.12 L58.88,191.62 L56.38,191.88 L52.62,192.88 L49.38,194.62 L48.38,195.88 L48.38,197.88 L50.38,201.12 L50.38,202.88 L47.62,208.62 L46.62,212.88 L46.62,216.12 L46.38,216.88 L46.62,217.12 L46.62,221.38 L46.88,221.62 L46.62,221.88 L46.62,223.62 L46.88,223.88 L47.12,230.12 L51.38,227.88 L53.88,227.62 L54.12,227.38 L56.62,227.38 L59.62,226.12 L62.62,223.38 L66.88,218.62 L69.38,217.12 L71.62,216.88 L74.62,218.12 L77.38,220.62 L79.62,222.12 L81.62,224.38 L81.88,226.62 L81.62,226.88 L81.62,230.12 L81.38,230.38 L81.38,236.38 L81.88,236.88 L81.88,237.38 L83.38,240.12 L85.38,246.38 L85.38,248.38 L86.62,250.38 L87.38,252.88 L89.62,255.88 L91.62,256.62 L94.62,256.88 L97.38,256.12 L98.88,255.12 L100.62,253.12 L104.12,244.38 L104.38,239.88 L103.38,236.62 L103.38,233.12 L103.88,230.62 L103.38,227.12 L102.38,225.12 L100.88,223.62 L96.88,221.12 L94.62,218.88 L92.38,215.88 L90.88,211.62 L88.38,200.38 L86.38,195.88 L83.62,191.38 L81.38,188.62 L76.62,183.88 L73.88,181.88 L71.88,180.88 L69.38,180.12Z" fill="#bcdcee" fill-rule="evenodd"/><path d="M67.38,181.38 L65.88,182.12 L64.38,183.88 L63.62,185.62 L62.62,191.62 L61.12,193.62 L59.62,193.62 L58.38,193.12 L53.88,193.38 L51.38,194.62 L49.88,196.62 L50.38,198.12 L53.12,200.12 L56.88,200.12 L57.62,200.62 L57.62,201.62 L54.38,207.62 L52.12,209.12 L50.62,210.62 L49.88,212.38 L50.12,216.12 L51.62,217.88 L52.38,218.12 L53.38,217.88 L54.12,217.12 L54.62,215.88 L55.38,211.62 L56.88,210.12 L58.62,210.12 L65.62,211.88 L68.12,213.38 L70.88,213.62 L73.38,214.62 L78.62,220.38 L80.38,221.38 L82.62,223.38 L82.88,226.38 L82.38,228.62 L82.38,235.62 L83.88,238.62 L86.12,245.38 L86.38,250.12 L87.38,252.88 L89.38,254.88 L91.62,255.88 L94.62,256.12 L96.62,255.62 L98.62,254.38 L99.88,252.88 L100.62,251.38 L101.38,248.62 L102.62,246.38 L103.62,243.62 L103.62,242.12 L103.88,241.88 L103.62,239.62 L102.12,235.12 L103.12,230.88 L103.12,228.88 L102.62,227.12 L100.88,224.88 L96.62,222.88 L91.12,217.12 L89.38,211.62 L87.88,203.88 L86.88,200.38 L84.62,195.38 L81.62,190.88 L78.88,187.62 L74.38,183.38 L72.88,182.38 L70.38,181.38 L69.12,181.38 L68.88,181.12 L68.62,181.38Z" fill="#e2f1f5" fill-rule="evenodd"/><path d="M57.62,194.88 L56.62,194.12 L53.88,194.38 L51.88,195.88 L51.62,196.62 L51.88,197.38 L52.62,197.88 L53.88,198.12 L55.88,197.62 L57.38,196.38ZM67.38,182.38 L65.62,183.62 L64.88,184.88 L64.38,186.62 L64.12,193.12 L63.38,196.62 L63.38,198.12 L63.62,198.38 L63.38,205.12 L64.12,206.12 L68.88,208.38 L71.88,210.62 L75.38,214.12 L77.38,217.88 L79.62,220.12 L82.38,221.62 L83.62,222.88 L83.88,225.12 L83.12,228.38 L83.12,234.12 L83.38,234.38 L83.38,235.62 L84.12,236.88 L85.88,242.88 L86.88,244.88 L87.38,251.38 L88.38,253.12 L90.62,254.88 L92.12,255.38 L96.12,255.12 L97.88,254.12 L99.38,252.38 L100.38,249.88 L100.62,248.38 L102.88,244.12 L103.12,243.12 L102.88,239.38 L101.12,235.88 L101.38,233.88 L102.38,231.38 L102.12,227.62 L101.38,226.38 L100.12,225.38 L96.12,224.12 L89.88,217.88 L89.12,214.12 L87.12,207.62 L86.88,204.88 L85.88,200.88 L83.38,195.38 L81.12,191.88 L77.38,187.38 L73.38,183.62 L71.62,182.62 L69.88,182.12Z" fill="#fbf3c0" fill-rule="evenodd"/><path d="M67.62,183.12 L65.62,185.12 L65.12,187.12 L65.38,196.88 L67.12,201.88 L69.12,205.12 L75.12,211.12 L76.62,213.88 L76.88,215.12 L78.12,217.62 L80.12,219.62 L83.88,221.38 L84.88,222.38 L84.88,224.38 L83.62,229.38 L83.62,232.62 L83.88,232.88 L84.12,235.38 L84.88,236.62 L86.12,241.38 L87.88,245.62 L87.88,250.62 L88.62,252.38 L90.12,253.88 L91.62,254.62 L94.88,254.88 L96.38,254.38 L98.62,252.38 L99.62,249.88 L100.12,247.38 L101.38,245.62 L102.62,242.62 L102.38,239.88 L99.62,235.62 L99.88,234.62 L101.62,231.62 L101.88,230.62 L101.62,228.12 L99.62,226.12 L96.12,225.62 L92.62,221.88 L90.62,220.62 L88.88,218.88 L88.38,216.88 L88.38,215.12 L86.12,208.38 L85.62,203.88 L84.12,198.88 L81.62,194.12 L76.38,187.38 L72.88,184.12 L69.88,182.88Z" fill="#fdd27a" fill-rule="evenodd"/><path d="M68.38,183.88 L66.62,185.38 L66.12,186.62 L66.12,189.88 L66.62,191.88 L66.88,195.88 L68.38,199.88 L70.38,203.38 L72.62,206.12 L76.88,210.38 L77.38,211.62 L77.88,214.88 L79.12,217.62 L81.62,219.62 L86.88,220.62 L87.12,221.12 L84.62,227.62 L84.38,232.62 L84.88,234.88 L86.12,237.38 L87.38,242.38 L88.88,245.38 L88.62,250.62 L89.12,251.88 L90.62,253.38 L92.38,254.12 L95.88,253.88 L97.88,252.12 L98.62,250.38 L99.12,246.38 L101.38,243.88 L101.88,242.12 L101.62,240.38 L100.12,238.62 L97.62,238.38 L96.38,237.38 L95.88,234.88 L96.12,234.12 L96.88,233.38 L98.88,233.12 L100.62,231.62 L100.88,228.62 L99.88,227.38 L99.12,227.12 L95.88,227.38 L92.38,223.12 L87.38,220.38 L87.12,219.88 L87.38,215.12 L86.88,213.12 L84.88,208.88 L84.62,205.12 L83.88,201.38 L83.12,199.12 L81.38,195.62 L78.62,191.62 L74.38,186.38 L72.88,185.12 L70.62,183.88Z" fill="#fb9d57" fill-rule="evenodd"/><path d="M99.62,241.38 L99.38,242.38 L99.88,242.38ZM88.38,223.12 L86.88,224.62 L85.62,227.38 L85.38,229.88 L85.12,230.12 L85.38,232.88 L87.12,236.62 L88.12,241.12 L90.38,244.88 L90.38,246.62 L89.62,248.88 L89.88,251.12 L91.88,253.12 L94.62,253.38 L95.88,252.88 L97.38,251.12 L97.62,248.62 L96.88,246.88 L94.88,244.12 L94.88,239.38 L93.88,236.38 L93.88,233.38 L94.38,231.62 L94.38,229.12 L93.88,227.38 L92.62,225.12 L90.38,223.38ZM68.62,185.12 L67.62,186.12 L67.38,186.88 L67.38,190.12 L67.88,191.62 L68.12,194.62 L69.62,198.62 L70.62,200.62 L72.88,203.88 L78.88,209.38 L79.38,210.38 L79.12,214.88 L79.88,216.88 L81.38,218.38 L83.12,218.88 L84.88,218.62 L85.88,217.88 L86.12,217.12 L86.12,214.62 L85.62,213.12 L83.62,210.38 L82.88,208.62 L82.88,202.62 L81.62,198.62 L78.88,193.88 L74.38,187.88 L72.62,186.12 L70.12,184.88Z" fill="#f2683f" fill-rule="evenodd"/><path d="M92.88,246.62 L91.88,247.12 L90.88,248.62 L90.62,249.62 L90.88,250.88 L91.62,251.88 L92.62,252.38 L94.88,252.38 L95.88,251.62 L96.38,250.62 L96.38,248.88 L94.88,246.88ZM88.88,224.62 L87.38,225.88 L86.38,227.88 L86.12,231.88 L86.88,234.12 L89.12,237.12 L89.62,240.88 L90.88,242.12 L91.88,242.12 L92.62,241.12 L92.62,239.38 L91.62,237.38 L91.62,235.38 L92.38,233.88 L93.12,230.62 L93.12,229.38 L92.12,226.38 L90.62,224.88ZM81.88,211.88 L80.62,212.88 L80.38,215.12 L80.88,216.38 L81.62,217.12 L82.62,217.62 L84.12,217.38 L85.12,216.12 L84.88,214.38 L83.12,212.12ZM69.38,186.38 L68.62,187.38 L68.38,188.62 L68.62,188.88 L68.62,190.38 L69.12,191.62 L69.38,193.88 L71.62,199.62 L73.62,202.62 L75.88,204.88 L78.88,206.62 L80.62,206.62 L81.38,205.12 L81.38,201.88 L80.88,199.88 L79.38,196.62 L73.38,188.38 L71.38,186.62Z" fill="#e0372a" fill-rule="evenodd"/><path d="M93.38,248.38 L92.38,249.12 L92.12,250.38 L92.88,251.12 L94.12,251.38 L94.88,250.88 L95.12,249.38 L94.38,248.38ZM89.12,226.12 L87.88,227.12 L87.38,228.12 L87.12,231.62 L87.62,232.88 L88.38,233.62 L89.88,233.88 L91.38,232.38 L91.88,230.38 L91.88,228.88 L91.12,226.88 L90.38,226.12ZM82.62,214.62 L82.62,215.38 L83.12,215.38 L83.12,214.62ZM70.38,188.38 L70.12,188.62 L70.12,190.62 L70.62,193.12 L71.38,194.88 L71.62,196.38 L73.12,199.62 L75.88,202.88 L78.38,204.12 L79.38,203.88 L79.88,202.62 L79.88,201.38 L78.62,197.62 L77.38,195.62 L73.38,191.12 L72.88,190.12 L71.38,188.62Z" fill="#c61f29" fill-rule="evenodd"/><path d="M182.00,218.00 C185.33,215.83 192.00,215.67 196.00,215.00 C200.00,214.33 203.67,211.50 206.00,214.00 C208.33,216.50 209.67,224.00 210.00,230.00 C210.33,236.00 210.33,245.67 208.00,250.00 C205.67,254.33 199.83,255.67 196.00,256.00 C192.17,256.33 188.00,254.67 185.00,252.00 C182.00,249.33 179.50,244.00 178.00,240.00 C176.50,236.00 175.33,231.67 176.00,228.00 C176.67,224.33 178.67,220.17 182.00,218.00Z" fill="#dcdaf0" opacity="0.41250000000000003" filter="url(#b10)"/><path d="M136.00,202.00 C134.33,200.50 137.67,193.17 140.00,190.00 C142.33,186.83 146.33,184.67 150.00,183.00 C153.67,181.33 158.67,179.83 162.00,180.00 C165.33,180.17 169.67,181.83 170.00,184.00 C170.33,186.17 167.33,190.50 164.00,193.00 C160.67,195.50 154.67,197.50 150.00,199.00 C145.33,200.50 137.67,203.50 136.00,202.00Z" fill="#dcdaf0" opacity="0.33" filter="url(#b10)"/><g fill="#9a96cc" opacity="0.3"><rect x="197.1" y="232.1" width="0.7" height="0.7"/><rect x="193.8" y="224.0" width="0.7" height="0.7"/><rect x="203.2" y="225.2" width="0.7" height="0.7"/><rect x="182.0" y="234.2" width="0.7" height="0.7"/><rect x="189.2" y="233.4" width="0.7" height="0.7"/><rect x="206.0" y="232.6" width="0.7" height="0.7"/><rect x="194.9" y="261.5" width="0.7" height="0.7"/><rect x="182.6" y="238.7" width="0.7" height="0.7"/><rect x="203.2" y="252.5" width="0.7" height="0.7"/><rect x="211.9" y="226.4" width="0.7" height="0.7"/><rect x="198.8" y="233.2" width="0.7" height="0.7"/><rect x="190.3" y="225.7" width="0.7" height="0.7"/><rect x="182.2" y="238.4" width="0.7" height="0.7"/><rect x="200.0" y="221.6" width="0.7" height="0.7"/><rect x="200.1" y="227.8" width="0.7" height="0.7"/><rect x="185.8" y="202.8" width="0.7" height="0.7"/><rect x="202.8" y="243.1" width="0.7" height="0.7"/><rect x="191.5" y="229.8" width="0.7" height="0.7"/><rect x="183.5" y="240.7" width="0.7" height="0.7"/><rect x="193.5" y="241.0" width="0.7" height="0.7"/><rect x="195.4" y="217.5" width="0.7" height="0.7"/><rect x="181.5" y="239.6" width="0.7" height="0.7"/><rect x="180.4" y="237.9" width="0.7" height="0.7"/><rect x="201.4" y="219.1" width="0.7" height="0.7"/><rect x="199.6" y="235.3" width="0.7" height="0.7"/><rect x="198.5" y="227.2" width="0.7" height="0.7"/><rect x="194.1" y="240.1" width="0.7" height="0.7"/><rect x="209.1" y="243.9" width="0.7" height="0.7"/><rect x="198.4" y="219.4" width="0.7" height="0.7"/><rect x="197.1" y="226.9" width="0.7" height="0.7"/><rect x="193.9" y="238.5" width="0.7" height="0.7"/><rect x="202.3" y="242.5" width="0.7" height="0.7"/><rect x="196.1" y="234.7" width="0.7" height="0.7"/><rect x="205.5" y="224.7" width="0.7" height="0.7"/><rect x="194.9" y="252.1" width="0.7" height="0.7"/><rect x="193.1" y="245.5" width="0.7" height="0.7"/><rect x="201.8" y="259.4" width="0.7" height="0.7"/><rect x="203.8" y="215.5" width="0.7" height="0.7"/><rect x="194.6" y="239.0" width="0.7" height="0.7"/><rect x="201.3" y="240.1" width="0.7" height="0.7"/><rect x="209.8" y="248.7" width="0.7" height="0.7"/><rect x="185.0" y="227.6" width="0.7" height="0.7"/><rect x="177.8" y="256.1" width="0.7" height="0.7"/><rect x="193.4" y="233.3" width="0.7" height="0.7"/><rect x="181.5" y="229.5" width="0.7" height="0.7"/><rect x="197.6" y="229.7" width="0.7" height="0.7"/><rect x="190.8" y="227.0" width="0.7" height="0.7"/><rect x="209.9" y="227.7" width="0.7" height="0.7"/><rect x="182.1" y="227.9" width="0.7" height="0.7"/><rect x="190.9" y="232.9" width="0.7" height="0.7"/><rect x="191.7" y="220.3" width="0.7" height="0.7"/><rect x="191.9" y="238.5" width="0.7" height="0.7"/><rect x="182.2" y="257.8" width="0.7" height="0.7"/><rect x="207.3" y="211.6" width="0.7" height="0.7"/><rect x="190.5" y="246.0" width="0.7" height="0.7"/><rect x="204.3" y="255.4" width="0.7" height="0.7"/><rect x="178.5" y="220.2" width="0.7" height="0.7"/><rect x="189.3" y="240.4" width="0.7" height="0.7"/><rect x="184.8" y="239.0" width="0.7" height="0.7"/><rect x="197.2" y="242.6" width="0.7" height="0.7"/><rect x="183.1" y="236.3" width="0.7" height="0.7"/><rect x="194.2" y="228.9" width="0.7" height="0.7"/><rect x="204.3" y="230.5" width="0.7" height="0.7"/><rect x="205.5" y="226.9" width="0.7" height="0.7"/><rect x="207.7" y="254.4" width="0.7" height="0.7"/><rect x="187.2" y="238.5" width="0.7" height="0.7"/><rect x="196.5" y="222.6" width="0.7" height="0.7"/><rect x="200.4" y="241.8" width="0.7" height="0.7"/><rect x="187.0" y="235.9" width="0.7" height="0.7"/><rect x="201.4" y="232.8" width="0.7" height="0.7"/><rect x="188.4" y="254.8" width="0.7" height="0.7"/><rect x="186.3" y="239.1" width="0.7" height="0.7"/><rect x="203.4" y="244.7" width="0.7" height="0.7"/><rect x="179.4" y="231.1" width="0.7" height="0.7"/><rect x="193.3" y="232.6" width="0.7" height="0.7"/><rect x="199.6" y="241.9" width="0.7" height="0.7"/><rect x="195.6" y="238.6" width="0.7" height="0.7"/><rect x="202.9" y="250.7" width="0.7" height="0.7"/><rect x="179.3" y="262.2" width="0.7" height="0.7"/><rect x="190.2" y="245.1" width="0.7" height="0.7"/><rect x="181.5" y="229.4" width="0.7" height="0.7"/><rect x="184.6" y="249.0" width="0.7" height="0.7"/><rect x="202.0" y="235.8" width="0.7" height="0.7"/><rect x="193.5" y="240.5" width="0.7" height="0.7"/><rect x="187.2" y="228.4" width="0.7" height="0.7"/><rect x="188.6" y="245.8" width="0.7" height="0.7"/><rect x="195.1" y="220.3" width="0.7" height="0.7"/><rect x="197.7" y="242.2" width="0.7" height="0.7"/><rect x="206.1" y="229.0" width="0.7" height="0.7"/><rect x="198.2" y="261.2" width="0.7" height="0.7"/><rect x="192.2" y="231.4" width="0.7" height="0.7"/><rect x="199.0" y="229.7" width="0.7" height="0.7"/><rect x="194.9" y="229.7" width="0.7" height="0.7"/><rect x="188.5" y="246.5" width="0.7" height="0.7"/><rect x="191.8" y="223.5" width="0.7" height="0.7"/><rect x="192.5" y="234.0" width="0.7" height="0.7"/><rect x="197.3" y="247.1" width="0.7" height="0.7"/><rect x="209.2" y="220.8" width="0.7" height="0.7"/><rect x="192.8" y="213.5" width="0.7" height="0.7"/><rect x="196.6" y="242.0" width="0.7" height="0.7"/><rect x="189.4" y="224.4" width="0.7" height="0.7"/><rect x="186.6" y="217.3" width="0.7" height="0.7"/><rect x="199.8" y="258.7" width="0.7" height="0.7"/><rect x="185.4" y="255.2" width="0.7" height="0.7"/><rect x="193.6" y="218.4" width="0.7" height="0.7"/><rect x="199.1" y="244.5" width="0.7" height="0.7"/><rect x="197.7" y="232.1" width="0.7" height="0.7"/><rect x="208.0" y="231.7" width="0.7" height="0.7"/><rect x="199.6" y="243.0" width="0.7" height="0.7"/><rect x="187.2" y="212.6" width="0.7" height="0.7"/><rect x="180.4" y="230.2" width="0.7" height="0.7"/><rect x="197.3" y="213.4" width="0.7" height="0.7"/><rect x="188.5" y="253.6" width="0.7" height="0.7"/><rect x="179.8" y="240.6" width="0.7" height="0.7"/><rect x="197.2" y="244.5" width="0.7" height="0.7"/><rect x="182.3" y="239.0" width="0.7" height="0.7"/><rect x="183.0" y="251.1" width="0.7" height="0.7"/><rect x="187.2" y="239.5" width="0.7" height="0.7"/><rect x="187.7" y="236.5" width="0.7" height="0.7"/><rect x="181.8" y="238.3" width="0.7" height="0.7"/><rect x="199.1" y="234.7" width="0.7" height="0.7"/><rect x="207.3" y="239.3" width="0.7" height="0.7"/><rect x="200.6" y="241.0" width="0.7" height="0.7"/><rect x="209.4" y="226.8" width="0.7" height="0.7"/><rect x="192.0" y="232.2" width="0.7" height="0.7"/><rect x="199.2" y="238.0" width="0.7" height="0.7"/><rect x="201.0" y="238.5" width="0.7" height="0.7"/><rect x="190.1" y="234.2" width="0.7" height="0.7"/><rect x="197.8" y="207.1" width="0.7" height="0.7"/><rect x="205.6" y="228.1" width="0.7" height="0.7"/><rect x="191.5" y="238.2" width="0.7" height="0.7"/><rect x="192.4" y="217.4" width="0.7" height="0.7"/><rect x="192.6" y="252.1" width="0.7" height="0.7"/><rect x="203.0" y="250.3" width="0.7" height="0.7"/><rect x="190.0" y="232.6" width="0.7" height="0.7"/><rect x="203.1" y="253.5" width="0.7" height="0.7"/><rect x="194.8" y="223.6" width="0.7" height="0.7"/><rect x="178.9" y="252.8" width="0.7" height="0.7"/><rect x="182.3" y="240.8" width="0.7" height="0.7"/><rect x="196.3" y="234.3" width="0.7" height="0.7"/><rect x="198.6" y="242.0" width="0.7" height="0.7"/><rect x="205.8" y="244.3" width="0.7" height="0.7"/><rect x="188.6" y="209.9" width="0.7" height="0.7"/><rect x="197.3" y="227.5" width="0.7" height="0.7"/><rect x="206.5" y="219.7" width="0.7" height="0.7"/><rect x="196.6" y="226.9" width="0.7" height="0.7"/><rect x="187.8" y="256.5" width="0.7" height="0.7"/><rect x="196.4" y="233.7" width="0.7" height="0.7"/><rect x="201.1" y="226.3" width="0.7" height="0.7"/><rect x="192.0" y="228.1" width="0.7" height="0.7"/><rect x="211.3" y="240.1" width="0.7" height="0.7"/><rect x="200.2" y="249.8" width="0.7" height="0.7"/><rect x="193.5" y="234.1" width="0.7" height="0.7"/><rect x="181.5" y="241.9" width="0.7" height="0.7"/><rect x="197.1" y="230.9" width="0.7" height="0.7"/><rect x="204.9" y="213.8" width="0.7" height="0.7"/><rect x="198.4" y="218.9" width="0.7" height="0.7"/><rect x="185.5" y="233.3" width="0.7" height="0.7"/><rect x="206.0" y="221.2" width="0.7" height="0.7"/><rect x="186.7" y="220.9" width="0.7" height="0.7"/><rect x="211.6" y="242.4" width="0.7" height="0.7"/><rect x="198.3" y="261.6" width="0.7" height="0.7"/><rect x="197.0" y="209.8" width="0.7" height="0.7"/><rect x="190.8" y="221.1" width="0.7" height="0.7"/><rect x="211.8" y="218.3" width="0.7" height="0.7"/><rect x="197.5" y="229.5" width="0.7" height="0.7"/><rect x="191.3" y="236.2" width="0.7" height="0.7"/><rect x="193.8" y="227.4" width="0.7" height="0.7"/><rect x="184.7" y="227.8" width="0.7" height="0.7"/><rect x="186.3" y="224.6" width="0.7" height="0.7"/><rect x="195.9" y="234.0" width="0.7" height="0.7"/><rect x="198.9" y="232.9" width="0.7" height="0.7"/><rect x="210.9" y="226.8" width="0.7" height="0.7"/><rect x="186.6" y="248.6" width="0.7" height="0.7"/><rect x="189.0" y="237.4" width="0.7" height="0.7"/><rect x="203.0" y="234.6" width="0.7" height="0.7"/><rect x="191.9" y="247.9" width="0.7" height="0.7"/><rect x="197.7" y="229.2" width="0.7" height="0.7"/><rect x="184.9" y="231.1" width="0.7" height="0.7"/><rect x="181.1" y="224.9" width="0.7" height="0.7"/><rect x="185.8" y="239.5" width="0.7" height="0.7"/><rect x="201.2" y="227.7" width="0.7" height="0.7"/><rect x="191.2" y="222.0" width="0.7" height="0.7"/><rect x="183.4" y="230.4" width="0.7" height="0.7"/><rect x="199.5" y="241.6" width="0.7" height="0.7"/><rect x="199.7" y="232.3" width="0.7" height="0.7"/><rect x="172.1" y="247.3" width="0.7" height="0.7"/><rect x="205.8" y="247.1" width="0.7" height="0.7"/><rect x="202.4" y="249.5" width="0.7" height="0.7"/><rect x="217.2" y="239.9" width="0.7" height="0.7"/><rect x="207.8" y="246.0" width="0.7" height="0.7"/><rect x="200.6" y="234.3" width="0.7" height="0.7"/><rect x="192.1" y="221.9" width="0.7" height="0.7"/><rect x="199.8" y="232.1" width="0.7" height="0.7"/><rect x="185.0" y="226.5" width="0.7" height="0.7"/><rect x="185.1" y="255.9" width="0.7" height="0.7"/><rect x="192.9" y="237.3" width="0.7" height="0.7"/><rect x="184.9" y="223.1" width="0.7" height="0.7"/><rect x="203.7" y="233.0" width="0.7" height="0.7"/><rect x="196.8" y="258.8" width="0.7" height="0.7"/><rect x="212.3" y="244.6" width="0.7" height="0.7"/><rect x="199.0" y="238.9" width="0.7" height="0.7"/><rect x="192.6" y="261.2" width="0.7" height="0.7"/><rect x="184.9" y="234.9" width="0.7" height="0.7"/><rect x="179.0" y="220.2" width="0.7" height="0.7"/><rect x="198.3" y="241.7" width="0.7" height="0.7"/><rect x="197.8" y="232.0" width="0.7" height="0.7"/><rect x="189.1" y="229.3" width="0.7" height="0.7"/><rect x="191.8" y="249.6" width="0.7" height="0.7"/><rect x="207.1" y="241.5" width="0.7" height="0.7"/><rect x="190.5" y="224.3" width="0.7" height="0.7"/><rect x="197.5" y="233.1" width="0.7" height="0.7"/><rect x="179.8" y="253.1" width="0.7" height="0.7"/><rect x="194.9" y="232.0" width="0.7" height="0.7"/><rect x="187.8" y="225.1" width="0.7" height="0.7"/><rect x="202.5" y="224.2" width="0.7" height="0.7"/><rect x="195.8" y="243.9" width="0.7" height="0.7"/><rect x="210.3" y="243.5" width="0.7" height="0.7"/><rect x="194.7" y="230.5" width="0.7" height="0.7"/><rect x="202.1" y="248.5" width="0.7" height="0.7"/><rect x="191.5" y="243.3" width="0.7" height="0.7"/><rect x="193.9" y="215.8" width="0.7" height="0.7"/><rect x="186.6" y="246.1" width="0.7" height="0.7"/><rect x="207.0" y="244.5" width="0.7" height="0.7"/><rect x="193.3" y="227.1" width="0.7" height="0.7"/><rect x="199.5" y="240.1" width="0.7" height="0.7"/><rect x="181.6" y="244.1" width="0.7" height="0.7"/><rect x="189.1" y="244.4" width="0.7" height="0.7"/><rect x="199.5" y="245.1" width="0.7" height="0.7"/><rect x="203.9" y="244.8" width="0.7" height="0.7"/><rect x="186.3" y="223.3" width="0.7" height="0.7"/><rect x="203.6" y="242.0" width="0.7" height="0.7"/><rect x="181.9" y="211.0" width="0.7" height="0.7"/><rect x="202.4" y="263.8" width="0.7" height="0.7"/><rect x="201.9" y="233.1" width="0.7" height="0.7"/><rect x="197.2" y="202.1" width="0.7" height="0.7"/><rect x="186.7" y="248.7" width="0.7" height="0.7"/><rect x="202.2" y="209.5" width="0.7" height="0.7"/><rect x="204.9" y="242.7" width="0.7" height="0.7"/><rect x="202.8" y="233.5" width="0.7" height="0.7"/><rect x="195.1" y="222.6" width="0.7" height="0.7"/><rect x="197.7" y="247.2" width="0.7" height="0.7"/><rect x="187.2" y="240.6" width="0.7" height="0.7"/><rect x="190.6" y="249.0" width="0.7" height="0.7"/><rect x="203.2" y="206.6" width="0.7" height="0.7"/><rect x="198.8" y="248.7" width="0.7" height="0.7"/><rect x="190.4" y="233.3" width="0.7" height="0.7"/><rect x="193.8" y="221.7" width="0.7" height="0.7"/><rect x="194.1" y="255.4" width="0.7" height="0.7"/><rect x="199.0" y="255.0" width="0.7" height="0.7"/><rect x="203.3" y="251.0" width="0.7" height="0.7"/><rect x="196.0" y="245.7" width="0.7" height="0.7"/><rect x="211.8" y="254.4" width="0.7" height="0.7"/><rect x="197.7" y="227.3" width="0.7" height="0.7"/><rect x="187.4" y="239.0" width="0.7" height="0.7"/><rect x="198.7" y="213.1" width="0.7" height="0.7"/><rect x="196.9" y="240.4" width="0.7" height="0.7"/><rect x="197.5" y="229.2" width="0.7" height="0.7"/><rect x="214.2" y="246.9" width="0.7" height="0.7"/></g><g fill="#9a96cc" opacity="0.3"><rect x="138.8" y="186.3" width="0.7" height="0.7"/><rect x="161.3" y="192.7" width="0.7" height="0.7"/><rect x="154.3" y="189.8" width="0.7" height="0.7"/><rect x="150.7" y="187.6" width="0.7" height="0.7"/><rect x="142.3" y="192.9" width="0.7" height="0.7"/><rect x="124.0" y="186.1" width="0.7" height="0.7"/><rect x="165.7" y="185.8" width="0.7" height="0.7"/><rect x="140.4" y="199.7" width="0.7" height="0.7"/><rect x="163.5" y="189.1" width="0.7" height="0.7"/><rect x="146.6" y="188.6" width="0.7" height="0.7"/><rect x="149.0" y="188.6" width="0.7" height="0.7"/><rect x="145.0" y="192.6" width="0.7" height="0.7"/><rect x="146.8" y="180.4" width="0.7" height="0.7"/><rect x="139.1" y="189.8" width="0.7" height="0.7"/><rect x="141.9" y="176.9" width="0.7" height="0.7"/><rect x="168.0" y="192.3" width="0.7" height="0.7"/><rect x="147.5" y="187.0" width="0.7" height="0.7"/><rect x="157.7" y="196.8" width="0.7" height="0.7"/><rect x="145.9" y="191.8" width="0.7" height="0.7"/><rect x="145.8" y="191.3" width="0.7" height="0.7"/><rect x="140.5" y="180.2" width="0.7" height="0.7"/><rect x="153.2" y="189.3" width="0.7" height="0.7"/><rect x="159.8" y="186.2" width="0.7" height="0.7"/><rect x="166.5" y="190.1" width="0.7" height="0.7"/><rect x="168.2" y="187.9" width="0.7" height="0.7"/><rect x="167.9" y="189.3" width="0.7" height="0.7"/><rect x="153.7" y="194.6" width="0.7" height="0.7"/><rect x="133.9" y="184.1" width="0.7" height="0.7"/><rect x="171.3" y="181.8" width="0.7" height="0.7"/><rect x="147.1" y="192.5" width="0.7" height="0.7"/><rect x="167.4" y="187.0" width="0.7" height="0.7"/><rect x="153.6" y="183.8" width="0.7" height="0.7"/><rect x="148.3" y="195.0" width="0.7" height="0.7"/><rect x="155.7" y="189.5" width="0.7" height="0.7"/><rect x="156.7" y="190.4" width="0.7" height="0.7"/><rect x="154.1" y="187.9" width="0.7" height="0.7"/><rect x="142.2" y="193.2" width="0.7" height="0.7"/><rect x="140.5" y="195.0" width="0.7" height="0.7"/><rect x="174.4" y="197.6" width="0.7" height="0.7"/><rect x="176.4" y="184.3" width="0.7" height="0.7"/><rect x="155.0" y="185.5" width="0.7" height="0.7"/><rect x="144.9" y="180.9" width="0.7" height="0.7"/><rect x="140.0" y="194.2" width="0.7" height="0.7"/><rect x="159.8" y="196.0" width="0.7" height="0.7"/><rect x="164.3" y="193.9" width="0.7" height="0.7"/><rect x="144.4" y="189.2" width="0.7" height="0.7"/><rect x="160.3" y="196.3" width="0.7" height="0.7"/><rect x="148.9" y="187.3" width="0.7" height="0.7"/><rect x="148.3" y="198.1" width="0.7" height="0.7"/><rect x="158.7" y="188.3" width="0.7" height="0.7"/><rect x="144.9" y="192.2" width="0.7" height="0.7"/><rect x="135.5" y="188.8" width="0.7" height="0.7"/><rect x="147.0" y="186.9" width="0.7" height="0.7"/><rect x="155.0" y="192.1" width="0.7" height="0.7"/><rect x="184.3" y="190.5" width="0.7" height="0.7"/><rect x="160.2" y="185.9" width="0.7" height="0.7"/><rect x="136.0" y="195.9" width="0.7" height="0.7"/><rect x="173.3" y="184.9" width="0.7" height="0.7"/><rect x="152.3" y="195.8" width="0.7" height="0.7"/><rect x="154.1" y="177.7" width="0.7" height="0.7"/><rect x="163.5" y="189.3" width="0.7" height="0.7"/><rect x="160.6" y="185.1" width="0.7" height="0.7"/><rect x="162.2" y="195.4" width="0.7" height="0.7"/><rect x="145.7" y="192.6" width="0.7" height="0.7"/><rect x="146.6" y="187.5" width="0.7" height="0.7"/><rect x="143.8" y="187.9" width="0.7" height="0.7"/><rect x="146.2" y="196.1" width="0.7" height="0.7"/><rect x="150.8" y="184.3" width="0.7" height="0.7"/><rect x="167.3" y="192.9" width="0.7" height="0.7"/><rect x="163.4" y="189.8" width="0.7" height="0.7"/><rect x="160.4" y="189.6" width="0.7" height="0.7"/><rect x="143.4" y="190.7" width="0.7" height="0.7"/><rect x="154.7" y="190.8" width="0.7" height="0.7"/><rect x="161.9" y="181.2" width="0.7" height="0.7"/><rect x="156.3" y="186.0" width="0.7" height="0.7"/><rect x="150.4" y="192.4" width="0.7" height="0.7"/><rect x="154.0" y="186.7" width="0.7" height="0.7"/><rect x="161.1" y="189.9" width="0.7" height="0.7"/><rect x="163.0" y="196.5" width="0.7" height="0.7"/><rect x="149.8" y="184.6" width="0.7" height="0.7"/><rect x="154.3" y="194.4" width="0.7" height="0.7"/><rect x="156.8" y="184.3" width="0.7" height="0.7"/><rect x="136.1" y="185.4" width="0.7" height="0.7"/><rect x="143.8" y="193.5" width="0.7" height="0.7"/><rect x="154.2" y="194.8" width="0.7" height="0.7"/><rect x="152.7" y="198.9" width="0.7" height="0.7"/><rect x="153.7" y="193.1" width="0.7" height="0.7"/><rect x="149.4" y="192.6" width="0.7" height="0.7"/><rect x="164.7" y="194.3" width="0.7" height="0.7"/><rect x="166.7" y="187.2" width="0.7" height="0.7"/><rect x="158.3" y="199.1" width="0.7" height="0.7"/><rect x="156.3" y="189.5" width="0.7" height="0.7"/><rect x="151.4" y="187.7" width="0.7" height="0.7"/><rect x="155.2" y="197.5" width="0.7" height="0.7"/><rect x="158.3" y="190.2" width="0.7" height="0.7"/><rect x="145.6" y="184.6" width="0.7" height="0.7"/><rect x="178.0" y="188.0" width="0.7" height="0.7"/><rect x="154.7" y="187.9" width="0.7" height="0.7"/><rect x="155.4" y="188.2" width="0.7" height="0.7"/><rect x="154.7" y="197.7" width="0.7" height="0.7"/></g><path d="M195.38,186.38 L193.62,185.38 L190.62,184.38 L184.88,183.62 L182.38,182.88 L177.38,182.62 L175.12,183.12 L173.38,184.12 L171.38,186.12 L170.38,187.88 L167.62,190.62 L162.88,194.12 L161.12,194.88 L159.88,195.88 L152.88,199.12 L152.12,199.12 L149.88,200.12 L147.88,200.38 L146.38,201.12 L144.88,201.38 L143.62,202.12 L141.38,202.62 L140.12,203.38 L138.12,203.88 L135.62,205.38 L133.12,207.62 L130.62,211.38 L130.12,216.12 L129.88,216.38 L129.88,219.88 L129.62,220.12 L129.88,237.12 L130.12,237.38 L130.12,240.62 L130.62,242.12 L130.62,244.38 L131.12,245.88 L131.12,247.88 L131.62,248.88 L131.62,249.62 L133.88,254.38 L135.88,256.38 L138.38,257.88 L141.12,257.62 L142.88,256.62 L145.38,254.12 L145.62,253.38 L146.88,252.12 L150.12,246.12 L153.38,241.12 L158.62,235.62 L160.38,234.62 L161.62,233.38 L163.38,232.38 L167.38,229.12 L171.38,226.88 L172.62,225.62 L177.62,222.38 L178.62,221.38 L180.12,220.88 L182.12,219.38 L184.12,218.38 L184.62,218.38 L186.38,217.38 L187.12,217.38 L188.38,216.62 L193.88,215.12 L195.38,215.12 L199.38,213.62 L201.12,213.38 L202.62,212.62 L207.38,211.62 L208.88,210.38 L209.12,209.62 L208.88,207.12 L207.88,205.38 L207.12,204.88 L205.62,202.88 L205.62,202.38 L203.38,198.38 L203.12,197.12 L199.88,191.38 L198.38,189.38Z" fill="#2f62ab" fill-rule="evenodd"/><path d="M195.38,186.38 L193.62,185.38 L190.62,184.38 L189.12,184.38 L188.12,183.88 L186.62,183.88 L184.62,183.38 L184.38,183.62 L181.62,183.88 L180.38,184.38 L178.88,184.38 L177.12,185.12 L176.38,185.12 L173.88,187.12 L172.62,189.38 L169.62,192.62 L165.62,195.62 L162.38,197.38 L161.12,198.38 L155.62,200.62 L154.62,200.62 L153.88,201.12 L152.12,201.12 L150.62,201.62 L149.62,201.38 L148.62,201.62 L148.38,201.38 L148.12,201.62 L144.38,201.88 L144.12,202.12 L143.88,201.88 L142.12,202.62 L141.38,202.62 L140.12,203.38 L137.12,204.38 L134.62,206.12 L133.12,207.62 L130.62,211.38 L130.12,216.12 L129.88,216.38 L129.88,219.88 L129.62,220.12 L129.88,237.12 L130.12,237.38 L130.12,240.62 L130.62,242.12 L130.62,244.38 L131.12,245.88 L131.12,247.88 L131.62,248.88 L131.62,249.62 L133.88,254.38 L135.88,256.38 L138.38,257.88 L141.12,257.62 L142.88,256.62 L145.38,254.12 L145.62,253.38 L146.88,252.12 L150.12,246.12 L153.38,241.12 L154.62,239.88 L155.12,238.38 L157.12,235.12 L161.38,230.62 L165.88,226.88 L166.38,226.88 L168.12,225.62 L170.38,224.62 L176.88,219.62 L179.12,218.62 L181.38,217.12 L185.38,215.88 L192.62,215.62 L193.88,215.12 L195.38,215.12 L199.38,213.62 L200.12,213.62 L205.12,210.38 L205.62,210.38 L207.12,209.12 L207.12,208.12 L206.62,206.88 L205.88,205.88 L205.38,204.12 L204.88,203.62 L204.88,202.88 L204.12,201.12 L204.12,200.12 L203.62,199.38 L202.88,196.62 L199.88,191.38 L198.38,189.38Z" fill="#4a89c5" fill-rule="evenodd"/><path d="M195.12,186.88 L191.62,185.12 L187.38,184.88 L183.62,186.12 L181.88,186.38 L180.38,187.12 L178.62,187.38 L177.38,187.88 L176.12,189.12 L174.38,192.12 L171.62,195.12 L165.62,199.62 L164.62,199.88 L161.62,201.62 L161.12,201.62 L159.38,202.62 L155.12,203.88 L147.38,204.12 L147.12,204.38 L146.12,204.12 L145.88,204.38 L143.38,204.38 L139.62,205.12 L137.12,206.38 L134.62,208.62 L132.38,212.38 L131.12,217.38 L131.12,218.88 L130.38,222.38 L130.38,224.88 L130.12,225.12 L129.88,231.62 L130.12,231.88 L130.38,240.62 L130.88,242.12 L130.88,244.12 L131.38,245.62 L131.38,246.88 L132.12,249.88 L133.88,254.38 L135.88,256.38 L138.38,257.88 L140.12,257.88 L142.88,256.62 L145.38,254.12 L145.62,253.38 L146.88,252.12 L148.38,249.62 L148.62,248.38 L149.62,246.62 L151.88,240.62 L155.62,233.12 L157.88,230.12 L161.88,226.12 L163.88,224.62 L165.88,223.62 L169.88,222.38 L175.88,216.88 L180.12,214.62 L184.38,213.38 L190.38,213.38 L190.62,213.62 L195.38,213.38 L197.62,212.62 L199.88,211.38 L204.38,207.88 L203.12,204.62 L202.38,200.38 L200.62,194.88 L197.88,189.88Z" fill="#8bbfde" fill-rule="evenodd"/><path d="M194.38,187.88 L191.12,186.38 L187.88,186.38 L185.62,187.12 L179.88,190.12 L178.62,190.38 L177.38,192.12 L176.62,193.88 L172.62,198.38 L167.12,202.38 L166.62,202.38 L164.12,203.88 L158.38,205.88 L155.62,206.12 L155.38,206.38 L142.38,206.62 L139.88,207.12 L138.38,207.88 L136.12,209.62 L133.88,213.12 L131.88,221.38 L131.62,225.38 L131.38,225.62 L131.38,229.12 L131.12,229.38 L131.12,235.38 L131.38,235.62 L131.38,239.12 L131.62,239.38 L131.88,243.12 L133.12,249.12 L134.88,253.62 L135.88,255.12 L137.88,257.12 L138.88,257.62 L141.12,257.38 L142.62,256.38 L144.62,253.88 L147.38,248.38 L150.38,240.62 L150.88,238.62 L154.12,231.38 L156.38,227.88 L159.88,224.12 L164.12,221.38 L165.12,221.12 L167.88,221.38 L170.12,220.62 L171.38,219.38 L173.62,215.62 L174.88,214.38 L180.12,211.88 L182.88,211.12 L187.62,211.12 L191.62,211.88 L195.38,211.62 L198.62,210.12 L201.88,207.38 L201.62,204.38 L201.12,202.62 L201.12,200.88 L199.38,194.88 L196.88,190.38Z" fill="#bcdcee" fill-rule="evenodd"/><path d="M194.62,189.38 L191.38,187.62 L188.38,187.62 L185.62,188.88 L180.62,192.62 L179.88,192.88 L178.62,194.88 L178.62,200.62 L177.88,202.38 L175.62,204.62 L171.88,207.38 L167.38,207.88 L165.88,208.38 L159.88,207.88 L156.38,208.62 L148.62,208.62 L148.38,208.38 L148.12,208.62 L147.88,208.38 L147.62,208.62 L142.12,208.62 L141.88,208.88 L140.62,208.88 L138.88,209.62 L136.38,211.88 L135.62,212.88 L134.62,215.38 L133.12,221.12 L132.62,226.12 L132.38,226.38 L132.38,229.38 L132.12,229.62 L132.12,236.38 L132.38,236.62 L132.38,239.88 L132.88,241.88 L132.88,243.62 L133.88,248.38 L134.88,251.12 L136.12,253.62 L137.12,254.88 L138.88,256.12 L140.38,256.12 L142.12,255.12 L143.62,253.38 L146.38,247.88 L149.88,237.12 L150.88,235.12 L152.38,230.62 L155.62,224.88 L158.62,221.62 L163.88,218.88 L165.38,218.88 L167.38,219.88 L169.62,219.62 L170.88,218.38 L171.88,216.38 L172.12,214.88 L173.12,212.62 L173.88,211.88 L174.38,211.88 L177.38,210.12 L181.38,208.88 L184.62,208.62 L190.38,210.12 L193.88,210.38 L195.88,209.88 L197.38,209.12 L199.62,207.38 L200.12,206.62 L200.12,202.12 L199.62,200.38 L199.62,198.88 L198.62,195.62 L197.38,192.88Z" fill="#e2f1f5" fill-rule="evenodd"/><path d="M168.12,211.38 L166.88,212.12 L166.12,213.12 L165.62,214.62 L165.62,216.38 L165.88,217.12 L167.62,218.62 L169.12,218.62 L169.88,218.12 L170.88,216.38 L171.12,213.12 L169.88,211.62ZM159.12,213.12 L156.62,212.62 L154.62,212.62 L152.88,211.62 L151.88,210.62 L145.62,210.62 L145.38,210.38 L143.62,210.62 L143.12,210.38 L142.88,210.62 L140.88,210.62 L139.12,211.38 L136.88,213.62 L135.88,215.62 L134.38,220.38 L133.38,225.62 L133.12,233.12 L132.88,233.38 L133.12,239.62 L133.38,239.88 L133.62,243.38 L134.38,247.12 L135.62,250.62 L136.88,252.88 L138.38,254.38 L139.38,254.88 L141.38,254.12 L142.88,252.62 L144.38,250.12 L145.62,247.12 L147.38,241.88 L148.38,237.62 L149.62,234.38 L149.62,233.62 L151.38,228.38 L152.12,227.12 L151.88,222.62 L151.62,222.38 L152.12,219.62 L152.62,219.12 L158.38,219.12 L160.38,218.38 L161.62,217.12 L161.88,216.38 L161.62,214.88 L160.62,213.88ZM188.38,188.88 L185.88,190.38 L182.62,193.88 L182.38,194.62 L182.62,199.62 L183.62,204.62 L184.12,205.88 L184.88,206.62 L191.38,208.88 L194.62,208.88 L196.88,207.88 L198.88,206.12 L198.88,202.88 L199.12,202.38 L198.88,202.12 L198.88,199.88 L198.38,197.38 L196.88,193.62 L195.38,191.38 L193.12,189.38 L191.12,188.62Z" fill="#fbf3c0" fill-rule="evenodd"/><path d="M154.12,215.62 L154.38,217.12 L156.12,218.12 L158.88,217.88 L160.12,216.38 L159.62,215.12 L158.12,214.38 L155.88,214.38ZM169.38,213.38 L167.88,213.62 L167.12,215.12 L167.12,216.38 L168.12,217.38 L168.88,217.38 L169.88,216.12 L170.12,214.38ZM146.38,212.62 L141.12,212.38 L139.38,213.12 L137.88,214.62 L136.38,217.62 L135.88,219.62 L135.12,221.12 L135.12,222.12 L134.38,224.62 L134.12,227.88 L133.88,228.12 L133.88,231.12 L133.62,231.38 L133.62,236.62 L133.88,236.88 L133.88,240.12 L134.12,240.38 L134.38,243.62 L135.88,249.12 L137.12,251.62 L139.12,253.38 L140.12,253.38 L141.12,252.88 L142.88,250.88 L143.88,249.12 L146.12,242.88 L149.62,229.12 L149.12,224.38 L147.88,218.12 L147.88,216.38 L147.12,213.62ZM189.62,189.62 L187.38,190.62 L185.88,192.12 L184.38,194.38 L184.38,197.62 L185.12,201.38 L186.88,205.38 L188.12,206.38 L192.62,207.88 L194.62,207.62 L197.38,206.12 L197.88,205.12 L198.12,200.38 L197.38,196.62 L195.38,192.62 L193.12,190.38 L191.38,189.62Z" fill="#fdd27a" fill-rule="evenodd"/><path d="M156.88,216.12 L157.12,216.62 L157.62,216.38 L157.62,216.12ZM141.88,214.62 L140.12,215.12 L138.12,217.38 L135.88,222.62 L134.62,229.12 L134.38,236.38 L134.62,236.62 L134.62,239.88 L134.88,240.12 L135.12,243.38 L136.38,247.88 L137.88,250.62 L139.38,251.88 L141.12,251.12 L143.38,247.88 L145.12,242.88 L147.62,231.38 L147.12,226.38 L145.62,220.38 L144.12,216.88ZM189.62,190.88 L187.88,191.88 L186.12,194.38 L186.12,198.62 L186.62,200.62 L188.12,203.88 L189.38,205.38 L191.88,206.38 L194.12,206.38 L195.88,205.62 L196.88,203.88 L197.12,199.38 L196.62,197.12 L195.38,194.12 L193.12,191.62 L191.62,190.88Z" fill="#fb9d57" fill-rule="evenodd"/><path d="M140.88,218.62 L140.12,218.88 L138.38,220.62 L137.62,221.88 L136.12,226.38 L135.88,228.88 L135.62,229.12 L135.62,231.38 L135.38,231.62 L135.38,238.12 L135.62,238.38 L135.62,240.62 L136.12,242.12 L136.12,243.38 L137.88,248.12 L139.38,249.62 L140.38,249.38 L141.88,247.88 L143.62,244.12 L144.88,239.38 L145.62,233.38 L145.88,233.12 L145.62,232.62 L145.38,227.88 L144.12,223.12 L142.38,219.88ZM190.12,192.38 L189.12,192.88 L187.62,194.88 L187.88,199.38 L189.38,202.62 L191.12,204.38 L192.38,204.88 L193.62,204.88 L194.88,204.38 L195.88,201.88 L195.62,197.38 L194.88,195.38 L193.12,193.12 L191.62,192.38Z" fill="#f2683f" fill-rule="evenodd"/><path d="M140.62,222.12 L139.62,222.38 L137.88,224.88 L136.62,229.12 L136.38,234.12 L136.12,234.38 L136.38,239.62 L137.38,244.12 L138.62,246.62 L139.62,247.38 L140.12,247.38 L141.38,246.12 L142.38,244.38 L143.38,241.38 L144.38,236.38 L144.38,231.12 L143.62,227.12 L142.38,223.88ZM190.12,194.12 L189.12,195.12 L188.88,195.88 L188.88,197.38 L189.62,200.12 L191.38,202.38 L192.38,202.88 L193.62,202.88 L194.62,201.38 L194.62,200.12 L194.88,199.88 L194.38,196.88 L193.12,194.88 L192.12,194.12 L191.38,193.88Z" fill="#e0372a" fill-rule="evenodd"/><path d="M140.62,225.38 L139.88,225.38 L138.38,227.38 L137.62,229.62 L137.38,232.62 L137.12,232.88 L137.38,239.88 L138.12,242.62 L138.88,244.12 L140.12,245.12 L141.88,242.62 L143.38,236.62 L143.38,233.62 L143.12,233.38 L142.88,229.88 L142.12,227.38ZM190.88,196.38 L190.62,196.62 L190.88,199.12 L191.62,200.12 L192.62,200.38 L193.12,199.88 L193.12,197.88 L192.12,196.38Z" fill="#c61f29" fill-rule="evenodd"/><g transform="rotate(-28 173.8 241.9)"><path d="M163.40,241.90 C163.40,241.05 165.40,239.82 166.50,239.60 C167.60,239.38 169.03,240.33 170.00,240.60 C170.97,240.87 171.55,241.27 172.30,241.20 C173.05,241.13 173.47,240.50 174.50,240.20 C175.53,239.90 176.98,239.25 178.50,239.40 C180.02,239.55 182.72,240.42 183.60,241.10 C184.48,241.78 184.65,242.92 183.80,243.50 C182.95,244.08 180.03,244.58 178.50,244.60 C176.97,244.62 175.63,243.83 174.60,243.60 C173.57,243.37 173.07,243.17 172.30,243.20 C171.53,243.23 170.97,243.55 170.00,243.80 C169.03,244.05 167.60,245.02 166.50,244.70 C165.40,244.38 163.40,242.75 163.40,241.90Z" fill="#3467ae"/></g><g transform="rotate(-28 173.8 241.9)"><path d="M165.50,241.90 C165.50,241.58 166.75,241.13 167.50,241.10 C168.25,241.07 169.20,241.53 170.00,241.70 C170.80,241.87 171.55,242.15 172.30,242.10 C173.05,242.05 173.47,241.62 174.50,241.40 C175.53,241.18 177.25,240.72 178.50,240.80 C179.75,240.88 182.00,241.50 182.00,241.90 C182.00,242.30 179.73,243.10 178.50,243.20 C177.27,243.30 175.63,242.63 174.60,242.50 C173.57,242.37 173.07,242.38 172.30,242.40 C171.53,242.42 170.80,242.50 170.00,242.60 C169.20,242.70 168.25,243.12 167.50,243.00 C166.75,242.88 165.50,242.22 165.50,241.90Z" fill="#4f8fc8"/></g><text x="6.8" y="154.2" font-size="10.5" text-anchor="start" font-weight="bold" fill="#231f20" style="stroke-width:0.45px">C</text><text x="67.8" y="168" font-size="8.8" text-anchor="middle" font-weight="normal" fill="#231f20" >CR</text><text x="171" y="168" font-size="8.8" text-anchor="middle" font-weight="normal" fill="#231f20" >PD</text><text x="330" y="168" font-size="8.8" text-anchor="middle" font-weight="normal" fill="#231f20" >Combined</text><text x="6.8" y="310.6" font-size="10.5" text-anchor="start" font-weight="bold" fill="#231f20" style="stroke-width:0.45px">E</text><text x="67.8" y="328" font-size="8.8" text-anchor="middle" font-weight="normal" fill="#231f20" >CR</text><text x="171" y="328" font-size="8.8" text-anchor="middle" font-weight="normal" fill="#231f20" >PD</text><text x="267.3" y="154.6" font-size="10.5" text-anchor="start" font-weight="bold" fill="#231f20" style="stroke-width:0.45px">D</text><text x="233.5" y="310.6" font-size="10.5" text-anchor="start" font-weight="bold" fill="#231f20" style="stroke-width:0.45px">F</text><rect x="20.6" y="171.8" width="94.6" height="94.5" fill="none" stroke="#222" stroke-width="1.2" /><rect x="123.9" y="171.8" width="94.29999999999998" height="94.5" fill="none" stroke="#222" stroke-width="1.2" /><rect x="281.6" y="171.7" width="96.59999999999997" height="94.60000000000002" fill="none" stroke="#222" stroke-width="1.2" /><rect x="20.6" y="336.1" width="94.6" height="94.29999999999995" fill="none" stroke="#222" stroke-width="1.2" /><rect x="123.9" y="336.1" width="94.29999999999998" height="94.29999999999995" fill="none" stroke="#222" stroke-width="1.2" /><line x1="11.5" y1="176.20000000000002" x2="11.5" y2="238.5" stroke="#222" stroke-width="1.15" /><path d="M9.1,177.20000000000002 L11.5,171.9 L13.9,177.20000000000002 Z" fill="#222"/><text transform="translate(14.2 266.1) rotate(-90) scale(0.7043 1)" font-size="8.8" text-anchor="start" fill="#222" font-weight="normal" stroke="#222" stroke-width="0.18"><tspan>UMAP_2</tspan></text><text transform="translate(24.8 278.8) scale(0.6872 1)" font-size="8.8" text-anchor="start" fill="#222" font-weight="normal" stroke="#222" stroke-width="0.18"><tspan>UMAP_1</tspan></text><line x1="53" y1="275.7" x2="213.7" y2="275.7" stroke="#222" stroke-width="1.4" /><path d="M212.7,273.3 L218,275.7 L212.7,278.09999999999997 Z" fill="#222"/><rect x="226" y="227.2" width="8" height="39.3" fill="url(#rdylbu)"/><text x="236.8" y="233.8" font-size="7.3" text-anchor="start" font-weight="normal" fill="#222" >High</text><text x="236.8" y="264.8" font-size="7.3" text-anchor="start" font-weight="normal" fill="#222" >Low</text><clipPath id="cD"><path d="M288.30,208.30 C289.27,205.92 291.95,203.67 293.80,201.70 C295.65,199.73 298.10,198.35 299.40,196.50 C300.70,194.65 300.33,192.32 301.60,190.60 C302.87,188.88 304.97,187.38 307.00,186.20 C309.03,185.02 311.75,184.23 313.80,183.50 C315.85,182.77 317.60,182.58 319.30,181.80 C321.00,181.02 322.55,179.73 324.00,178.80 C325.45,177.87 326.23,176.50 328.00,176.20 C329.77,175.90 332.38,176.32 334.60,177.00 C336.82,177.68 338.72,179.42 341.30,180.30 C343.88,181.18 347.90,181.38 350.10,182.30 C352.30,183.22 353.10,184.42 354.50,185.80 C355.90,187.18 357.17,188.73 358.50,190.60 C359.83,192.47 361.17,195.18 362.50,197.00 C363.83,198.82 365.28,200.25 366.50,201.50 C367.72,202.75 369.05,203.08 369.80,204.50 C370.55,205.92 371.05,208.00 371.00,210.00 C370.95,212.00 369.38,213.10 369.50,216.50 C369.62,219.90 371.22,226.43 371.70,230.40 C372.18,234.37 372.47,237.17 372.40,240.30 C372.33,243.43 372.07,246.62 371.30,249.20 C370.53,251.78 369.12,253.97 367.80,255.80 C366.48,257.63 365.05,259.23 363.40,260.20 C361.75,261.17 359.57,261.75 357.90,261.60 C356.23,261.45 354.70,260.63 353.40,259.30 C352.10,257.97 351.20,255.28 350.10,253.60 C349.00,251.92 347.72,250.38 346.80,249.20 C345.88,248.02 345.90,246.87 344.60,246.50 C343.30,246.13 340.93,246.65 339.00,247.00 C337.07,247.35 335.00,248.17 333.00,248.60 C331.00,249.03 329.28,249.57 327.00,249.60 C324.72,249.63 321.55,249.32 319.30,248.80 C317.05,248.28 315.53,246.07 313.50,246.50 C311.47,246.93 309.08,249.65 307.10,251.40 C305.12,253.15 303.17,255.77 301.60,257.00 C300.03,258.23 298.90,258.97 297.70,258.80 C296.50,258.63 295.50,257.78 294.40,256.00 C293.30,254.22 292.02,251.08 291.10,248.10 C290.18,245.12 289.45,241.60 288.90,238.10 C288.35,234.60 287.95,230.78 287.80,227.10 C287.65,223.42 287.92,219.13 288.00,216.00 C288.08,212.87 287.33,210.68 288.30,208.30Z"/></clipPath><g filter="url(#spk)"><g clip-path="url(#cD)"><g filter="url(#b10)"><path d="M330,175 L372,200 L374,260 L330,262Z" fill="#9a9ab0"/><path d="M280.00,190.00 C281.67,179.67 287.18,201.22 290.00,203.00 C292.82,204.78 294.70,201.50 296.90,200.70 C299.10,199.90 301.08,198.83 303.20,198.20 C305.32,197.57 307.47,197.00 309.60,196.90 C311.73,196.80 314.05,196.78 316.00,197.60 C317.95,198.42 320.07,200.22 321.30,201.80 C322.53,203.38 323.03,204.73 323.40,207.10 C323.77,209.47 323.23,213.18 323.50,216.00 C323.77,218.82 323.92,221.83 325.00,224.00 C326.08,226.17 329.00,227.50 330.00,229.00 C331.00,230.50 333.50,230.17 331.00,233.00 C328.50,235.83 320.17,240.67 315.00,246.00 C309.83,251.33 305.83,261.83 300.00,265.00 C294.17,268.17 283.33,277.50 280.00,265.00 C276.67,252.50 278.33,200.33 280.00,190.00Z" fill="#e0333c"/><path d="M292.00,196.00 C292.02,193.88 294.83,190.33 297.00,188.00 C299.17,185.67 302.17,183.67 305.00,182.00 C307.83,180.33 311.17,179.00 314.00,178.00 C316.83,177.00 320.25,173.63 322.00,176.00 C323.75,178.37 323.02,187.72 324.50,192.20 C325.98,196.68 328.78,200.07 330.90,202.90 C333.02,205.73 337.57,208.68 337.20,209.20 C336.83,209.72 331.00,206.35 328.70,206.00 C326.40,205.65 324.63,207.80 323.40,207.10 C322.17,206.40 322.53,203.38 321.30,201.80 C320.07,200.22 317.95,198.42 316.00,197.60 C314.05,196.78 311.73,196.80 309.60,196.90 C307.47,197.00 305.32,197.57 303.20,198.20 C301.08,198.83 298.77,201.07 296.90,200.70 C295.03,200.33 291.98,198.12 292.00,196.00Z" fill="#2d6a2d"/><path d="M321.00,175.00 C322.27,173.50 326.50,171.83 330.00,172.00 C333.50,172.17 340.08,174.40 342.00,176.00 C343.92,177.60 341.77,178.90 341.50,181.60 C341.23,184.30 340.77,188.65 340.40,192.20 C340.03,195.75 338.95,199.35 339.30,202.90 C339.65,206.45 342.85,212.45 342.50,213.50 C342.15,214.55 339.13,210.97 337.20,209.20 C335.27,207.43 333.02,205.73 330.90,202.90 C328.78,200.07 325.92,195.85 324.50,192.20 C323.08,188.55 322.98,183.87 322.40,181.00 C321.82,178.13 319.73,176.50 321.00,175.00Z" fill="#5534a8"/><path d="M321.30,202.90 C322.33,202.32 326.05,204.48 328.70,205.50 C331.35,206.52 334.90,207.67 337.20,209.00 C339.50,210.33 341.53,211.83 342.50,213.50 C343.47,215.17 343.17,217.50 343.00,219.00 C342.83,220.50 343.17,221.58 341.50,222.50 C339.83,223.42 335.83,223.83 333.00,224.50 C330.17,225.17 326.17,227.58 324.50,226.50 C322.83,225.42 323.33,220.92 323.00,218.00 C322.67,215.08 322.78,211.52 322.50,209.00 C322.22,206.48 320.27,203.48 321.30,202.90Z" fill="#3fa540"/><path d="M341.50,178.00 C343.43,176.13 349.25,179.67 352.00,181.00 C354.75,182.33 356.42,184.00 358.00,186.00 C359.58,188.00 361.17,190.50 361.50,193.00 C361.83,195.50 361.25,198.83 360.00,201.00 C358.75,203.17 356.33,204.50 354.00,206.00 C351.67,207.50 347.92,208.75 346.00,210.00 C344.08,211.25 343.62,214.68 342.50,213.50 C341.38,212.32 339.65,206.45 339.30,202.90 C338.95,199.35 340.03,196.35 340.40,192.20 C340.77,188.05 339.57,179.87 341.50,178.00Z" fill="#78aa45"/><path d="M351.00,200.50 C352.42,198.92 355.08,198.92 357.00,199.50 C358.92,200.08 361.33,201.92 362.50,204.00 C363.67,206.08 364.08,209.50 364.00,212.00 C363.92,214.50 363.33,217.50 362.00,219.00 C360.67,220.50 357.92,221.17 356.00,221.00 C354.08,220.83 351.75,220.00 350.50,218.00 C349.25,216.00 348.42,211.92 348.50,209.00 C348.58,206.08 349.58,202.08 351.00,200.50Z" fill="#ef8a38"/><path d="M361.60,205.00 C362.43,203.75 364.35,203.67 366.00,204.50 C367.65,205.33 370.67,207.75 371.50,210.00 C372.33,212.25 371.92,216.00 371.00,218.00 C370.08,220.00 367.50,221.67 366.00,222.00 C364.50,222.33 362.83,221.67 362.00,220.00 C361.17,218.33 361.07,214.50 361.00,212.00 C360.93,209.50 360.77,206.25 361.60,205.00Z" fill="#3f86c2"/><path d="M359.00,214.00 C360.00,212.67 363.33,213.00 364.50,214.00 C365.67,215.00 366.25,218.33 366.00,220.00 C365.75,221.67 364.25,223.67 363.00,224.00 C361.75,224.33 359.17,223.67 358.50,222.00 C357.83,220.33 358.00,215.33 359.00,214.00Z" fill="#55bcd6"/><path d="M324.50,223.00 C326.17,221.75 330.17,221.83 333.00,221.50 C335.83,221.17 339.83,219.92 341.50,221.00 C343.17,222.08 343.58,226.08 343.00,228.00 C342.42,229.92 340.50,231.67 338.00,232.50 C335.50,233.33 330.50,233.58 328.00,233.00 C325.50,232.42 323.58,230.67 323.00,229.00 C322.42,227.33 322.83,224.25 324.50,223.00Z" fill="#e46a52"/><path d="M345.70,214.50 C347.20,211.92 351.78,213.25 355.00,213.50 C358.22,213.75 362.83,214.42 365.00,216.00 C367.17,217.58 367.83,220.33 368.00,223.00 C368.17,225.67 368.00,230.33 366.00,232.00 C364.00,233.67 359.33,233.50 356.00,233.00 C352.67,232.50 347.72,232.08 346.00,229.00 C344.28,225.92 344.20,217.08 345.70,214.50Z" fill="#d89ccb"/><path d="M352.00,224.00 C353.67,222.83 358.83,223.00 361.00,224.00 C363.17,225.00 364.37,227.83 365.00,230.00 C365.63,232.17 366.47,235.75 364.80,237.00 C363.13,238.25 357.30,238.50 355.00,237.50 C352.70,236.50 351.50,233.25 351.00,231.00 C350.50,228.75 350.33,225.17 352.00,224.00Z" fill="#ad9fb8"/><path d="M341.50,219.90 C342.92,218.82 347.17,218.15 349.00,219.50 C350.83,220.85 352.00,224.75 352.50,228.00 C353.00,231.25 353.08,236.83 352.00,239.00 C350.92,241.17 347.67,242.00 346.00,241.00 C344.33,240.00 342.92,235.50 342.00,233.00 C341.08,230.50 340.58,228.18 340.50,226.00 C340.42,223.82 340.08,220.98 341.50,219.90Z" fill="#8a5ebf"/><path d="M364.50,228.30 C365.50,226.55 368.42,227.55 370.00,229.50 C371.58,231.45 373.58,236.25 374.00,240.00 C374.42,243.75 373.83,249.92 372.50,252.00 C371.17,254.08 367.42,254.50 366.00,252.50 C364.58,250.50 364.25,244.03 364.00,240.00 C363.75,235.97 363.50,230.05 364.50,228.30Z" fill="#c8c645"/><path d="M345.70,234.50 C346.70,231.60 349.28,232.68 352.00,232.60 C354.72,232.52 359.42,232.43 362.00,234.00 C364.58,235.57 366.58,238.50 367.50,242.00 C368.42,245.50 368.42,251.58 367.50,255.00 C366.58,258.42 364.58,261.50 362.00,262.50 C359.42,263.50 354.67,263.08 352.00,261.00 C349.33,258.92 347.05,254.42 346.00,250.00 C344.95,245.58 344.70,237.40 345.70,234.50Z" fill="#6fc88e"/><path d="M319.00,246.00 C320.00,244.00 323.67,240.33 326.00,238.00 C328.33,235.67 330.67,233.33 333.00,232.00 C335.33,230.67 338.00,230.00 340.00,230.00 C342.00,230.00 344.08,229.17 345.00,232.00 C345.92,234.83 347.00,244.42 345.50,247.00 C344.00,249.58 339.08,247.00 336.00,247.50 C332.92,248.00 329.67,249.58 327.00,250.00 C324.33,250.42 321.33,250.67 320.00,250.00 C318.67,249.33 318.00,248.00 319.00,246.00Z" fill="#fbf3f5"/><path d="M334.00,238.00 C334.83,236.67 338.08,234.50 340.00,234.00 C341.92,233.50 344.58,233.67 345.50,235.00 C346.42,236.33 346.42,240.67 345.50,242.00 C344.58,243.33 341.75,243.00 340.00,243.00 C338.25,243.00 336.00,242.83 335.00,242.00 C334.00,241.17 333.17,239.33 334.00,238.00Z" fill="#8a3060" opacity="0.45"/><path d="M320.00,236.00 C321.00,233.83 324.17,232.17 326.00,232.00 C327.83,231.83 330.83,233.33 331.00,235.00 C331.17,236.67 328.83,240.33 327.00,242.00 C325.17,243.67 321.17,246.00 320.00,245.00 C318.83,244.00 319.00,238.17 320.00,236.00Z" fill="#e8a0a8" opacity="0.35"/></g></g></g><g filter="url(#sp2)" opacity="0.7"><path d="M318.00,248.00 C318.00,246.75 323.33,243.17 326.00,241.00 C328.67,238.83 331.33,236.67 334.00,235.00 C336.67,233.33 340.00,231.33 342.00,231.00 C344.00,230.67 345.50,231.33 346.00,233.00 C346.50,234.67 346.67,239.00 345.00,241.00 C343.33,243.00 339.17,243.75 336.00,245.00 C332.83,246.25 329.00,248.00 326.00,248.50 C323.00,249.00 318.00,249.25 318.00,248.00Z" fill="#7a2050"/></g><g filter="url(#sp1)" opacity="0.5"><path d="M321.00,245.00 C321.67,243.33 325.17,239.17 327.00,237.00 C328.83,234.83 330.67,232.33 332.00,232.00 C333.33,231.67 335.50,233.50 335.00,235.00 C334.50,236.50 331.00,239.00 329.00,241.00 C327.00,243.00 324.33,246.33 323.00,247.00 C321.67,247.67 320.33,246.67 321.00,245.00Z" fill="#e07070"/></g><line x1="271.9" y1="176.4" x2="271.9" y2="237" stroke="#222" stroke-width="1.15" /><path d="M269.5,177.4 L271.9,172.1 L274.29999999999995,177.4 Z" fill="#222"/><text transform="translate(274.6 265.8) rotate(-90) scale(0.6901 1)" font-size="8.8" text-anchor="start" fill="#222" font-weight="normal" stroke="#222" stroke-width="0.18"><tspan>UMAP_2</tspan></text><text transform="translate(283 278.8) scale(0.6759 1)" font-size="8.8" text-anchor="start" fill="#222" font-weight="normal" stroke="#222" stroke-width="0.18"><tspan>UMAP_1</tspan></text><line x1="311.2" y1="275.7" x2="373.7" y2="275.7" stroke="#222" stroke-width="1.4" /><path d="M372.7,273.3 L378,275.7 L372.7,278.09999999999997 Z" fill="#222"/><rect x="384.7" y="184.00" width="5.6" height="5.6" fill="#1f77b4"/><text x="393.7" y="189.3" font-size="6.9" text-anchor="start" font-weight="normal" fill="#222" >Cluster 01</text><rect x="384.7" y="194.67" width="5.6" height="5.6" fill="#ff7f0e"/><text x="393.7" y="199.97" font-size="6.9" text-anchor="start" font-weight="normal" fill="#222" >Cluster 02</text><rect x="384.7" y="205.34" width="5.6" height="5.6" fill="#2ca02c"/><text x="393.7" y="210.64" font-size="6.9" text-anchor="start" font-weight="normal" fill="#222" >Cluster 03</text><rect x="384.7" y="216.01" width="5.6" height="5.6" fill="#d62728"/><text x="393.7" y="221.31" font-size="6.9" text-anchor="start" font-weight="normal" fill="#222" >Cluster 04</text><rect x="384.7" y="226.68" width="5.6" height="5.6" fill="#9467bd"/><text x="393.7" y="231.98" font-size="6.9" text-anchor="start" font-weight="normal" fill="#222" >Cluster 05</text><rect x="384.7" y="237.35" width="5.6" height="5.6" fill="#8c564b"/><text x="393.7" y="242.65" font-size="6.9" text-anchor="start" font-weight="normal" fill="#222" >Cluster 06</text><rect x="384.7" y="248.02" width="5.6" height="5.6" fill="#e377c2"/><text x="393.7" y="253.32" font-size="6.9" text-anchor="start" font-weight="normal" fill="#222" >Cluster 07</text><rect x="434.9" y="184.00" width="5.6" height="5.6" fill="#7f7f7f"/><text x="443.9" y="189.3" font-size="6.9" text-anchor="start" font-weight="normal" fill="#222" >Cluster 08</text><rect x="434.9" y="194.67" width="5.6" height="5.6" fill="#bcbd22"/><text x="443.9" y="199.97" font-size="6.9" text-anchor="start" font-weight="normal" fill="#222" >Cluster 09</text><rect x="434.9" y="205.34" width="5.6" height="5.6" fill="#17becf"/><text x="443.9" y="210.64" font-size="6.9" text-anchor="start" font-weight="normal" fill="#222" >Cluster 10</text><rect x="434.9" y="216.01" width="5.6" height="5.6" fill="#3c1a9c"/><text x="443.9" y="221.31" font-size="6.9" text-anchor="start" font-weight="normal" fill="#222" >Cluster 11</text><rect x="434.9" y="226.68" width="5.6" height="5.6" fill="#0b3b12"/><text x="443.9" y="231.98" font-size="6.9" text-anchor="start" font-weight="normal" fill="#222" >Cluster 12</text><rect x="434.9" y="237.35" width="5.6" height="5.6" fill="#6cc48a"/><text x="443.9" y="242.65" font-size="6.9" text-anchor="start" font-weight="normal" fill="#222" >Cluster 13</text><rect x="434.9" y="248.02" width="5.6" height="5.6" fill="#4a0b30"/><text x="443.9" y="253.32" font-size="6.9" text-anchor="start" font-weight="normal" fill="#222" >Cluster 14</text><clipPath id="cE1"><path d="M29.60,372.20 C29.07,374.68 28.62,379.83 28.50,383.90 C28.38,387.97 28.55,392.72 28.90,396.60 C29.25,400.48 29.88,404.02 30.60,407.20 C31.32,410.38 32.13,413.57 33.20,415.70 C34.27,417.83 35.67,419.37 37.00,420.00 C38.33,420.63 39.43,420.22 41.20,419.50 C42.97,418.78 45.12,417.40 47.60,415.70 C50.08,414.00 53.27,411.42 56.10,409.30 C58.93,407.18 61.77,405.12 64.60,403.00 C67.43,400.88 70.80,398.38 73.10,396.60 C75.40,394.82 77.17,391.95 78.40,392.30 C79.63,392.65 79.78,396.22 80.50,398.70 C81.22,401.18 81.63,404.37 82.70,407.20 C83.77,410.03 85.32,413.40 86.90,415.70 C88.48,418.00 90.25,419.87 92.20,421.00 C94.15,422.13 96.47,422.85 98.60,422.50 C100.73,422.15 103.42,421.10 105.00,418.90 C106.58,416.70 107.75,412.67 108.10,409.30 C108.45,405.93 107.80,401.88 107.10,398.70 C106.40,395.52 104.78,392.67 103.90,390.20 C103.02,387.73 102.33,386.02 101.80,383.90 C101.27,381.78 101.05,380.33 100.70,377.50 C100.35,374.67 100.58,370.08 99.70,366.90 C98.82,363.72 97.35,361.07 95.40,358.40 C93.45,355.73 90.65,353.03 88.00,350.90 C85.35,348.77 82.33,346.90 79.50,345.60 C76.67,344.30 73.30,343.52 71.00,343.10 C68.70,342.68 67.83,342.68 65.70,343.10 C63.57,343.52 60.87,344.65 58.20,345.60 C55.53,346.55 52.17,347.55 49.70,348.80 C47.23,350.05 45.17,351.50 43.40,353.10 C41.63,354.70 40.52,356.47 39.10,358.40 C37.68,360.33 36.13,362.93 34.90,364.70 C33.67,366.47 32.58,367.75 31.70,369.00 C30.82,370.25 30.13,369.72 29.60,372.20Z"/></clipPath><g filter="url(#spk)"><g clip-path="url(#cE1)"><g filter="url(#b06)"><rect x="20" y="335" width="95" height="95" fill="url(#eRed)"/><path d="M39.10,358.40 C39.98,356.45 42.67,353.95 45.50,352.00 C48.33,350.05 52.38,348.30 56.10,346.70 C59.82,345.10 64.27,342.75 67.80,342.40 C71.33,342.05 75.00,343.78 77.30,344.60 C79.60,345.42 81.32,345.37 81.60,347.30 C81.88,349.23 79.28,352.93 79.00,356.20 C78.72,359.47 79.40,363.70 79.90,366.90 C80.40,370.10 81.18,372.85 82.00,375.40 C82.82,377.95 83.10,380.72 84.80,382.20 C86.50,383.68 89.55,383.32 92.20,384.30 C94.85,385.28 98.40,386.05 100.70,388.10 C103.00,390.15 104.65,393.07 106.00,396.60 C107.35,400.13 108.62,405.40 108.80,409.30 C108.98,413.20 108.45,417.52 107.10,420.00 C105.75,422.48 103.18,423.85 100.70,424.20 C98.22,424.55 94.68,423.33 92.20,422.10 C89.72,420.87 87.57,419.28 85.80,416.80 C84.03,414.32 82.73,410.57 81.60,407.20 C80.47,403.83 79.63,399.60 79.00,396.60 C78.37,393.60 78.35,391.85 77.80,389.20 C77.25,386.55 76.48,383.37 75.70,380.70 C74.92,378.03 74.07,375.15 73.10,373.20 C72.13,371.25 71.67,369.88 69.90,369.00 C68.13,368.12 65.15,368.33 62.50,367.90 C59.85,367.47 56.83,367.00 54.00,366.40 C51.17,365.80 47.80,364.75 45.50,364.30 C43.20,363.85 41.27,364.68 40.20,363.70 C39.13,362.72 38.22,360.35 39.10,358.40Z" fill="#53269c"/><path d="M58.00,356.00 C58.83,354.50 63.33,353.83 66.00,354.00 C68.67,354.17 72.50,355.67 74.00,357.00 C75.50,358.33 75.67,360.83 75.00,362.00 C74.33,363.17 72.33,363.83 70.00,364.00 C67.67,364.17 63.00,364.33 61.00,363.00 C59.00,361.67 57.17,357.50 58.00,356.00Z" fill="#8a3a80" opacity="0.3"/></g></g></g><g filter="url(#sp1)"><path d="M58.00,396.00 C59.33,393.33 64.83,392.83 68.00,392.00 C71.17,391.17 75.00,390.17 77.00,391.00 C79.00,391.83 79.67,394.83 80.00,397.00 C80.33,399.17 80.67,402.50 79.00,404.00 C77.33,405.50 73.17,405.33 70.00,406.00 C66.83,406.67 62.00,409.67 60.00,408.00 C58.00,406.33 56.67,398.67 58.00,396.00Z" fill="#f07a68"/></g><g filter="url(#sp2)"><path d="M55.00,402.00 C56.33,400.00 60.17,397.67 62.00,398.00 C63.83,398.33 66.33,402.00 66.00,404.00 C65.67,406.00 62.00,409.00 60.00,410.00 C58.00,411.00 54.83,411.33 54.00,410.00 C53.17,408.67 53.67,404.00 55.00,402.00Z" fill="#e85a48"/></g><path d="M137.00,368.00 C136.07,367.25 137.73,363.08 139.00,361.00 C140.27,358.92 142.38,357.25 144.60,355.50 C146.82,353.75 149.90,351.92 152.30,350.50 C154.70,349.08 156.78,348.08 159.00,347.00 C161.22,345.92 163.40,344.75 165.60,344.00 C167.80,343.25 170.13,342.70 172.20,342.50 C174.27,342.30 176.03,342.22 178.00,342.80 C179.97,343.38 183.50,343.80 184.00,346.00 C184.50,348.20 181.67,352.67 181.00,356.00 C180.33,359.33 181.83,364.25 180.00,366.00 C178.17,367.75 173.13,366.75 170.00,366.50 C166.87,366.25 164.15,364.92 161.20,364.50 C158.25,364.08 155.07,363.83 152.30,364.00 C149.53,364.17 147.15,364.83 144.60,365.50 C142.05,366.17 137.93,368.75 137.00,368.00Z" fill="#f1e6f0"/><path d="M176.00,384.00 C177.17,381.77 181.65,381.58 184.00,381.00 C186.35,380.42 187.23,380.20 190.10,380.50 C192.97,380.80 198.43,381.42 201.20,382.80 C203.97,384.18 205.47,386.32 206.70,388.80 C207.93,391.28 208.38,394.55 208.60,397.70 C208.82,400.85 208.47,404.75 208.00,407.70 C207.53,410.65 206.93,413.15 205.80,415.40 C204.67,417.65 202.88,420.23 201.20,421.20 C199.52,422.17 197.55,422.17 195.70,421.20 C193.85,420.23 191.77,417.47 190.10,415.40 C188.43,413.33 187.17,411.02 185.70,408.80 C184.23,406.58 182.75,404.50 181.30,402.10 C179.85,399.70 177.88,397.42 177.00,394.40 C176.12,391.38 174.83,386.23 176.00,384.00Z" fill="#ebe8f5"/><g filter="url(#sp1)" opacity="0.85"><path d="M152.00,352.00 C153.33,349.33 157.33,347.53 160.00,346.00 C162.67,344.47 165.33,343.38 168.00,342.80 C170.67,342.22 173.33,341.97 176.00,342.50 C178.67,343.03 183.17,343.58 184.00,346.00 C184.83,348.42 181.67,353.67 181.00,357.00 C180.33,360.33 181.83,364.50 180.00,366.00 C178.17,367.50 173.33,366.33 170.00,366.00 C166.67,365.67 163.00,364.67 160.00,364.00 C157.00,363.33 153.33,364.00 152.00,362.00 C150.67,360.00 150.67,354.67 152.00,352.00Z" fill="#6a50b4"/></g><g filter="url(#sp2)"><path d="M137.00,368.00 C136.50,367.17 137.50,363.17 139.00,361.00 C140.50,358.83 143.50,356.67 146.00,355.00 C148.50,353.33 151.67,350.83 154.00,351.00 C156.33,351.17 158.67,353.83 160.00,356.00 C161.33,358.17 163.67,362.58 162.00,364.00 C160.33,365.42 153.33,364.17 150.00,364.50 C146.67,364.83 144.17,365.42 142.00,366.00 C139.83,366.58 137.50,368.83 137.00,368.00Z" fill="#e8604c"/></g><g filter="url(#sp3)"><path d="M142.00,362.00 C140.67,360.67 145.67,356.00 148.00,354.00 C150.33,352.00 154.00,349.67 156.00,350.00 C158.00,350.33 160.00,354.00 160.00,356.00 C160.00,358.00 159.00,361.00 156.00,362.00 C153.00,363.00 143.33,363.33 142.00,362.00Z" fill="#8a60b8"/></g><g filter="url(#sp1)" opacity="0.75"><path d="M176.00,384.00 C177.17,381.77 181.65,381.58 184.00,381.00 C186.35,380.42 187.23,380.20 190.10,380.50 C192.97,380.80 198.43,381.42 201.20,382.80 C203.97,384.18 205.47,386.32 206.70,388.80 C207.93,391.28 208.38,394.55 208.60,397.70 C208.82,400.85 208.47,404.75 208.00,407.70 C207.53,410.65 206.93,413.15 205.80,415.40 C204.67,417.65 202.88,420.23 201.20,421.20 C199.52,422.17 197.55,422.17 195.70,421.20 C193.85,420.23 191.77,417.47 190.10,415.40 C188.43,413.33 187.17,411.02 185.70,408.80 C184.23,406.58 182.75,404.50 181.30,402.10 C179.85,399.70 177.88,397.42 177.00,394.40 C176.12,391.38 174.83,386.23 176.00,384.00Z" fill="#7a68c0"/></g><g filter="url(#sp3)"><path d="M180.00,384.00 C180.83,382.33 184.33,381.67 186.00,382.00 C187.67,382.33 190.00,384.00 190.00,386.00 C190.00,388.00 187.50,393.00 186.00,394.00 C184.50,395.00 182.00,393.67 181.00,392.00 C180.00,390.33 179.17,385.67 180.00,384.00Z" fill="#e86050"/></g><g filter="url(#sp1)" opacity="0.9"><path d="M134.00,371.00 C132.33,369.83 137.33,364.17 140.00,362.00 C142.67,359.83 146.33,358.67 150.00,358.00 C153.67,357.33 158.33,357.67 162.00,358.00 C165.67,358.33 169.00,359.33 172.00,360.00 C175.00,360.67 178.50,360.33 180.00,362.00 C181.50,363.67 182.67,368.67 181.00,370.00 C179.33,371.33 175.17,370.17 170.00,370.00 C164.83,369.83 156.00,368.83 150.00,369.00 C144.00,369.17 135.67,372.17 134.00,371.00Z" fill="#ee4a30"/></g><g filter="url(#sp3)" opacity="0.9"><path d="M138.00,364.00 C137.67,362.50 141.67,357.17 144.00,355.00 C146.33,352.83 149.67,350.83 152.00,351.00 C154.33,351.17 157.33,354.17 158.00,356.00 C158.67,357.83 158.00,360.67 156.00,362.00 C154.00,363.33 149.00,363.67 146.00,364.00 C143.00,364.33 138.33,365.50 138.00,364.00Z" fill="#ee5a40"/></g><g filter="url(#spk)"><g filter="url(#b06)"><path d="M131.30,380.00 C131.50,376.90 131.45,374.33 132.00,372.50 C132.55,370.67 133.27,370.00 134.60,369.00 C135.93,368.00 138.10,367.23 140.00,366.50 C141.90,365.77 143.83,365.10 146.00,364.60 C148.17,364.10 150.67,363.63 153.00,363.50 C155.33,363.37 157.83,363.55 160.00,363.80 C162.17,364.05 164.00,364.63 166.00,365.00 C168.00,365.37 170.25,365.83 172.00,366.00 C173.75,366.17 175.25,366.67 176.50,366.00 C177.75,365.33 178.83,363.83 179.50,362.00 C180.17,360.17 180.02,357.25 180.50,355.00 C180.98,352.75 181.17,349.87 182.40,348.50 C183.63,347.13 185.88,346.52 187.90,346.80 C189.92,347.08 192.65,348.72 194.50,350.20 C196.35,351.68 197.80,353.68 199.00,355.70 C200.20,357.72 201.15,359.90 201.70,362.30 C202.25,364.70 202.38,367.88 202.30,370.10 C202.22,372.32 202.12,373.95 201.20,375.60 C200.28,377.25 198.65,378.90 196.80,380.00 C194.95,381.10 192.13,382.03 190.10,382.20 C188.07,382.37 186.28,380.37 184.60,381.00 C182.92,381.63 182.07,384.13 180.00,386.00 C177.93,387.87 174.60,390.25 172.20,392.20 C169.80,394.15 167.80,395.68 165.60,397.70 C163.40,399.72 161.22,402.08 159.00,404.30 C156.78,406.52 154.52,408.78 152.30,411.00 C150.08,413.22 147.53,415.95 145.70,417.60 C143.87,419.25 142.58,420.53 141.30,420.90 C140.02,421.27 139.12,421.08 138.00,419.80 C136.88,418.52 135.53,416.15 134.60,413.20 C133.67,410.25 133.03,405.78 132.40,402.10 C131.77,398.42 130.98,394.78 130.80,391.10 C130.62,387.42 131.10,383.10 131.30,380.00Z" fill="#f03c20"/></g></g><g fill="#e04030" opacity="0.8"><rect x="162.6" y="409.9" width="0.9" height="0.9"/><rect x="164.0" y="410.2" width="0.9" height="0.9"/><rect x="162.7" y="409.7" width="0.9" height="0.9"/><rect x="162.1" y="406.3" width="0.9" height="0.9"/><rect x="161.4" y="407.6" width="0.9" height="0.9"/><rect x="161.8" y="408.5" width="0.9" height="0.9"/><rect x="166.3" y="407.3" width="0.9" height="0.9"/><rect x="164.9" y="409.3" width="0.9" height="0.9"/><rect x="162.6" y="407.6" width="0.9" height="0.9"/><rect x="164.9" y="409.7" width="0.9" height="0.9"/></g><line x1="11.5" y1="340.3" x2="11.5" y2="403.5" stroke="#222" stroke-width="1.15" /><path d="M9.1,341.3 L11.5,336 L13.9,341.3 Z" fill="#222"/><text transform="translate(14.2 430) rotate(-90) scale(0.7099 1)" font-size="8.8" text-anchor="start" fill="#222" font-weight="normal" stroke="#222" stroke-width="0.18"><tspan>UMAP_2</tspan></text><text transform="translate(25 443.2) scale(0.6815 1)" font-size="8.8" text-anchor="start" fill="#222" font-weight="normal" stroke="#222" stroke-width="0.18"><tspan>UMAP_1</tspan></text><line x1="53" y1="440" x2="213.7" y2="440" stroke="#222" stroke-width="1.4" /><path d="M212.7,437.6 L218,440 L212.7,442.4 Z" fill="#222"/><text transform="translate(309.5 327.6) scale(0.9810 1)" font-size="9.1" text-anchor="start" fill="#222" font-weight="normal" stroke="#222" stroke-width="0.18"><tspan>Gated on CAR19</tspan><tspan font-size="8.01" dy="-2.73">+</tspan><tspan dy="2.73"> CD8</tspan><tspan font-size="8.01" dy="-2.73">+</tspan></text><line x1="275" y1="335" x2="275" y2="430.5" stroke="#222" stroke-width="1" /><line x1="274.5" y1="430" x2="340.5" y2="430" stroke="#222" stroke-width="1" /><line x1="272.1" y1="345" x2="275" y2="345" stroke="#222" stroke-width="0.9" /><text transform="translate(269.4 347.6) scale(1.0488 1)" font-size="7.2" text-anchor="end" fill="#222" font-weight="normal" stroke="#222" stroke-width="0.18"><tspan>100</tspan></text><line x1="272.1" y1="386.2" x2="275" y2="386.2" stroke="#222" stroke-width="0.9" /><text transform="translate(269.4 388.8) scale(1.0488 1)" font-size="7.2" text-anchor="end" fill="#222" font-weight="normal" stroke="#222" stroke-width="0.18"><tspan>50</tspan></text><line x1="272.1" y1="429.6" x2="275" y2="429.6" stroke="#222" stroke-width="0.9" /><text transform="translate(269.4 432.20000000000005) scale(1.0488 1)" font-size="7.2" text-anchor="end" fill="#222" font-weight="normal" stroke="#222" stroke-width="0.18"><tspan>0</tspan></text><line x1="292.9" y1="430" x2="292.9" y2="432.8" stroke="#222" stroke-width="0.9" /><line x1="322" y1="430" x2="322" y2="432.8" stroke="#222" stroke-width="0.9" /><line x1="292.9" y1="355.9" x2="292.9" y2="377" stroke="#163d6e" stroke-width="0.9" /><line x1="292.9" y1="406.1" x2="292.9" y2="419.4" stroke="#163d6e" stroke-width="0.9" /><rect x="282" y="377" width="21.600000000000023" height="29.100000000000023" fill="#1d4f8c" stroke="#163d6e" stroke-width="0.7" /><line x1="282" y1="399.5" x2="303.6" y2="399.5" stroke="#0e2c52" stroke-width="1.3" /><rect x="311" y="412.9" width="22" height="8.400000000000034" fill="#8e9cc8" stroke="#55649a" stroke-width="0.7" /><line x1="311" y1="420.3" x2="333" y2="420.3" stroke="#2b3566" stroke-width="1.3" /><g fill="#111"><circle cx="285.6" cy="355.9" r="0.85"/><circle cx="302.9" cy="357.9" r="0.85"/><circle cx="298.4" cy="366.5" r="0.85"/><circle cx="303.5" cy="372.2" r="0.85"/><circle cx="296.4" cy="383.8" r="0.85"/><circle cx="286.2" cy="409.6" r="0.85"/><circle cx="300.4" cy="411.6" r="0.85"/><circle cx="302.5" cy="411.6" r="0.85"/><circle cx="303.1" cy="419.4" r="0.85"/><circle cx="292" cy="385" r="0.85"/><circle cx="299" cy="390" r="0.85"/><circle cx="318.8" cy="391.3" r="0.85"/><circle cx="314.1" cy="398.6" r="0.85"/><circle cx="320.8" cy="412.2" r="0.85"/><circle cx="315.7" cy="415.7" r="0.85"/><circle cx="322.2" cy="423.4" r="0.85"/><circle cx="329.5" cy="425.9" r="0.85"/><circle cx="333" cy="421.4" r="0.85"/></g><line x1="292.9" y1="347.5" x2="322.2" y2="347.5" stroke="#222" stroke-width="0.9" /><text x="307.3" y="346.2" font-size="7" text-anchor="middle" font-weight="normal" fill="#222" >***</text><text x="292.9" y="443.3" font-size="7.6" text-anchor="middle" font-weight="normal" fill="#222" >CR</text><text x="322" y="443.3" font-size="7.6" text-anchor="middle" font-weight="normal" fill="#222" >PD</text><text transform="translate(240.4 383.6) rotate(-90) scale(0.8527 1)" font-size="7.9" text-anchor="middle" fill="#222" font-weight="normal" stroke="#222" stroke-width="0.18"><tspan>% Cluster</tspan></text><text transform="translate(250.2 383.1) rotate(-90) scale(0.7996 1)" font-size="7.9" text-anchor="middle" fill="#222" font-weight="normal" stroke="#222" stroke-width="0.18"><tspan>7, 8, 9, 11, 12, 13</tspan></text><line x1="379.3" y1="335" x2="379.3" y2="430.5" stroke="#222" stroke-width="1" /><line x1="378.8" y1="430" x2="443.5" y2="430" stroke="#222" stroke-width="1" /><line x1="376.40000000000003" y1="337.6" x2="379.3" y2="337.6" stroke="#222" stroke-width="0.9" /><text transform="translate(373.7 340.20000000000005) scale(1.0488 1)" font-size="7.2" text-anchor="end" fill="#222" font-weight="normal" stroke="#222" stroke-width="0.18"><tspan>120</tspan></text><line x1="376.40000000000003" y1="363.3" x2="379.3" y2="363.3" stroke="#222" stroke-width="0.9" /><text transform="translate(373.7 365.90000000000003) scale(1.0488 1)" font-size="7.2" text-anchor="end" fill="#222" font-weight="normal" stroke="#222" stroke-width="0.18"><tspan>90</tspan></text><line x1="376.40000000000003" y1="387.5" x2="379.3" y2="387.5" stroke="#222" stroke-width="0.9" /><text transform="translate(373.7 390.1) scale(1.0488 1)" font-size="7.2" text-anchor="end" fill="#222" font-weight="normal" stroke="#222" stroke-width="0.18"><tspan>60</tspan></text><line x1="376.40000000000003" y1="411.8" x2="379.3" y2="411.8" stroke="#222" stroke-width="0.9" /><text transform="translate(373.7 414.40000000000003) scale(1.0488 1)" font-size="7.2" text-anchor="end" fill="#222" font-weight="normal" stroke="#222" stroke-width="0.18"><tspan>30</tspan></text><line x1="397.8" y1="430" x2="397.8" y2="432.8" stroke="#222" stroke-width="0.9" /><line x1="426.4" y1="430" x2="426.4" y2="432.8" stroke="#222" stroke-width="0.9" /><line x1="397.8" y1="363" x2="397.8" y2="378.2" stroke="#9a0c22" stroke-width="0.9" /><line x1="397.8" y1="406.2" x2="397.8" y2="425" stroke="#9a0c22" stroke-width="0.9" /><rect x="387" y="378.2" width="21.5" height="28.0" fill="#c8102e" stroke="#9a0c22" stroke-width="0.7" /><line x1="387" y1="384.5" x2="408.5" y2="384.5" stroke="#6d0618" stroke-width="1.3" /><line x1="426.4" y1="357.3" x2="426.4" y2="363" stroke="#c8756c" stroke-width="0.9" /><line x1="426.4" y1="372.5" x2="426.4" y2="385.2" stroke="#c8756c" stroke-width="0.9" /><rect x="415.7" y="363" width="21.900000000000034" height="9.5" fill="#eb9a90" stroke="#c8756c" stroke-width="0.7" /><line x1="415.7" y1="368.2" x2="437.6" y2="368.2" stroke="#5a1a14" stroke-width="1.3" /><g fill="#111"><circle cx="396" cy="367" r="0.85"/><circle cx="385" cy="378" r="0.85"/><circle cx="385" cy="380" r="0.85"/><circle cx="389" cy="385" r="0.85"/><circle cx="395" cy="389" r="0.85"/><circle cx="401" cy="381" r="0.85"/><circle cx="406" cy="398" r="0.85"/><circle cx="397" cy="404" r="0.85"/><circle cx="392" cy="400" r="0.85"/><circle cx="403" cy="407" r="0.85"/><circle cx="407" cy="409" r="0.85"/><circle cx="399" cy="413" r="0.85"/><circle cx="404" cy="417" r="0.85"/><circle cx="394" cy="423" r="0.85"/><circle cx="402" cy="426" r="0.85"/><circle cx="432.9" cy="357.3" r="0.85"/><circle cx="428.7" cy="359.3" r="0.85"/><circle cx="417.2" cy="362.9" r="0.85"/><circle cx="429.6" cy="362.9" r="0.85"/><circle cx="415.6" cy="372.6" r="0.85"/><circle cx="433.6" cy="372.6" r="0.85"/><circle cx="437.6" cy="385.2" r="0.85"/><circle cx="428.9" cy="393.8" r="0.85"/><circle cx="424.3" cy="369.9" r="0.85"/><circle cx="420" cy="368" r="0.85"/></g><line x1="397.6" y1="348.4" x2="426.3" y2="348.4" stroke="#222" stroke-width="0.9" /><text x="412" y="347" font-size="7" text-anchor="middle" font-weight="normal" fill="#222" >**</text><text x="398.1" y="443.3" font-size="7.6" text-anchor="middle" font-weight="normal" fill="#222" >CR</text><text x="426.6" y="443.3" font-size="7.6" text-anchor="middle" font-weight="normal" fill="#222" >PD</text><text transform="translate(355.2 405.6) rotate(-90) scale(0.7779 1)" font-size="8.0" text-anchor="start" fill="#222" font-weight="normal" stroke="#222" stroke-width="0.18"><tspan>% Cluster 2, 3, 4</tspan></text><rect x="449.6" y="374.2" width="5.8" height="5.6" fill="#1d4f8c"/><rect x="449.6" y="389.8" width="5.8" height="5.6" fill="#c8102e"/><text x="458.8" y="375.6" font-size="6.9" text-anchor="start" font-weight="normal" fill="#222" >Clusters</text><text x="458.8" y="384" font-size="6.9" text-anchor="start" font-weight="normal" fill="#222" >7, 8, 9, 11, 12, 13</text><text x="458.8" y="394.8" font-size="6.9" text-anchor="start" font-weight="normal" fill="#222" >Clusters 2, 3, 4</text></g><rect x="0.5" y="0.5" width="519" height="451" fill="none" stroke="#555" stroke-width="1"/></svg></body></html>
